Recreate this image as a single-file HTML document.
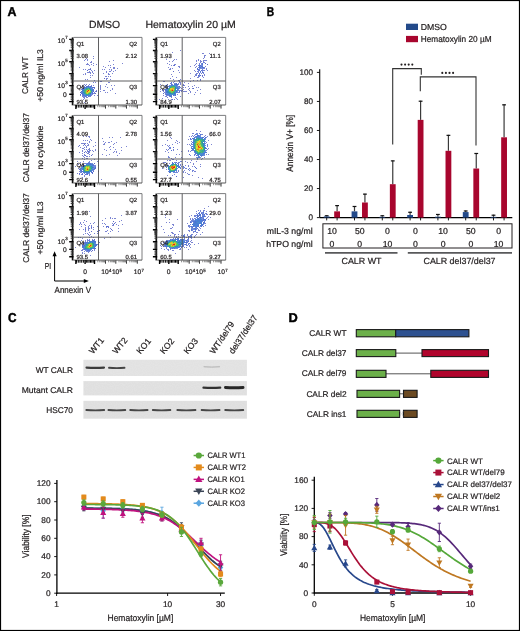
<!DOCTYPE html><html><head><meta charset="utf-8"><style>html,body{margin:0;padding:0;background:#fff;}svg{display:block;will-change:transform;}text{font-family:"Liberation Sans",sans-serif;text-rendering:geometricPrecision;stroke:#231f20;stroke-width:0.22px;}</style></head><body><svg width="520" height="631" viewBox="0 0 520 631"><rect x="0.50" y="0.50" width="519.00" height="630.00" fill="none" stroke="#000" stroke-width="1.2" />
<text x="0" y="0" font-size="12.8" font-weight="bold" fill="#000" style="stroke:#000;stroke-width:0.45px" transform="translate(7.6,16.2) scale(0.97,1)">A</text>
<text x="0" y="0" font-size="12.8" font-weight="bold" fill="#000" style="stroke:#000;stroke-width:0.45px" transform="translate(266.8,16.2) scale(0.8,1)">B</text>
<text x="0" y="0" font-size="12.8" font-weight="bold" fill="#000" style="stroke:#000;stroke-width:0.45px" transform="translate(7.9,322.3) scale(0.92,1)">C</text>
<text x="0" y="0" font-size="12.8" font-weight="bold" fill="#000" style="stroke:#000;stroke-width:0.45px" transform="translate(288.6,322.3) scale(1.0,1)">D</text>
<text x="104.50" y="28.30" font-size="10.4" text-anchor="middle" fill="#231f20" >DMSO</text>
<text x="190.60" y="28.30" font-size="10.4" text-anchor="middle" fill="#231f20" textLength="90.4" lengthAdjust="spacingAndGlyphs">Hematoxylin 20 µM</text>
<defs><radialGradient id="blob"><stop offset="0" stop-color="#e4261f"/><stop offset="0.18" stop-color="#f08a22"/><stop offset="0.32" stop-color="#e8d62a"/><stop offset="0.5" stop-color="#6cbf45"/><stop offset="0.66" stop-color="#22b0c8"/><stop offset="0.82" stop-color="#3454d0" stop-opacity="0.85"/><stop offset="1" stop-color="#4060d8" stop-opacity="0"/></radialGradient><radialGradient id="blob2"><stop offset="0" stop-color="#e8a020"/><stop offset="0.2" stop-color="#e6d830"/><stop offset="0.42" stop-color="#7cc848"/><stop offset="0.62" stop-color="#2cb4c0"/><stop offset="0.82" stop-color="#3454d0" stop-opacity="0.8"/><stop offset="1" stop-color="#4060d8" stop-opacity="0"/></radialGradient></defs>
<path d="M73.50,37.40 H142.00 V105.00" fill="none" stroke="#6d6e71" stroke-width="0.9"/>
<path d="M93.0,56.0h1v1h-1zM86.0,58.0h1v1h-1zM93.0,58.0h1v1h-1zM85.0,59.0h1v1h-1zM87.0,59.0h1v1h-1zM84.0,60.0h1v1h-1zM87.0,60.0h1v1h-1zM113.0,60.0h1v1h-1zM91.0,61.0h1v1h-1zM109.0,61.0h1v1h-1zM90.0,62.0h1v1h-1zM91.0,62.0h1v1h-1zM87.0,63.0h1v1h-1zM93.0,63.0h1v1h-1zM122.0,63.0h1v1h-1zM86.0,64.0h1v1h-1zM87.0,64.0h1v1h-1zM88.0,64.0h1v1h-1zM91.0,64.0h1v1h-1zM96.0,64.0h1v1h-1zM113.0,64.0h1v1h-1zM89.0,65.0h1v1h-1zM93.0,65.0h1v1h-1zM108.0,65.0h1v1h-1zM110.0,65.0h1v1h-1zM103.0,66.0h1v1h-1zM79.0,67.0h1v1h-1zM105.0,67.0h1v1h-1zM110.0,67.0h1v1h-1zM113.0,67.0h1v1h-1zM114.0,67.0h1v1h-1zM90.0,68.0h1v1h-1zM113.0,68.0h1v1h-1zM114.0,68.0h1v1h-1zM117.0,68.0h1v1h-1zM83.0,69.0h1v1h-1zM85.0,69.0h1v1h-1zM88.0,69.0h1v1h-1zM89.0,69.0h1v1h-1zM102.0,69.0h1v1h-1zM104.0,69.0h1v1h-1zM109.0,69.0h1v1h-1zM111.0,69.0h1v1h-1zM91.0,70.0h1v1h-1zM94.0,70.0h1v1h-1zM111.0,70.0h1v1h-1zM115.0,70.0h1v1h-1zM89.0,71.0h1v1h-1zM92.0,71.0h1v1h-1zM106.0,71.0h1v1h-1zM109.0,71.0h1v1h-1zM110.0,71.0h1v1h-1zM113.0,71.0h1v1h-1zM87.0,72.0h1v1h-1zM88.0,72.0h1v1h-1zM89.0,72.0h1v1h-1zM90.0,72.0h1v1h-1zM92.0,72.0h1v1h-1zM106.0,72.0h1v1h-1zM85.0,73.0h1v1h-1zM90.0,73.0h1v1h-1zM93.0,73.0h1v1h-1zM103.0,73.0h1v1h-1zM108.0,73.0h1v1h-1zM112.0,73.0h1v1h-1zM83.0,74.0h1v1h-1zM85.0,74.0h1v1h-1zM108.0,74.0h1v1h-1zM109.0,74.0h1v1h-1zM90.0,75.0h1v1h-1zM92.0,75.0h1v1h-1zM105.0,76.0h1v1h-1zM106.0,76.0h1v1h-1zM108.0,76.0h1v1h-1zM110.0,76.0h1v1h-1zM90.0,77.0h1v1h-1zM106.0,78.0h1v1h-1zM107.0,78.0h1v1h-1zM85.0,79.0h1v1h-1zM87.0,79.0h1v1h-1zM106.0,79.0h1v1h-1zM110.0,79.0h1v1h-1zM94.0,80.0h1v1h-1zM100.0,81.0h1v1h-1zM101.0,81.0h1v1h-1zM93.0,82.0h1v1h-1zM95.0,82.0h1v1h-1zM108.0,82.0h1v1h-1zM109.0,82.0h1v1h-1zM84.0,84.0h1v1h-1zM86.0,84.0h1v1h-1zM89.0,84.0h1v1h-1zM106.0,84.0h1v1h-1zM82.0,85.0h1v1h-1zM91.0,85.0h1v1h-1zM93.0,85.0h1v1h-1zM100.0,85.0h1v1h-1zM111.0,85.0h1v1h-1zM114.0,85.0h1v1h-1zM82.0,86.0h1v1h-1zM98.0,86.0h1v1h-1zM100.0,86.0h1v1h-1zM105.0,86.0h1v1h-1zM100.0,87.0h1v1h-1zM107.0,87.0h1v1h-1zM94.0,88.0h1v1h-1zM98.0,88.0h1v1h-1zM100.0,88.0h1v1h-1zM112.0,88.0h1v1h-1zM100.0,89.0h1v1h-1zM112.0,89.0h1v1h-1zM96.0,90.0h1v1h-1zM103.0,90.0h1v1h-1zM104.0,90.0h1v1h-1zM110.0,90.0h1v1h-1zM95.0,91.0h1v1h-1zM100.0,91.0h1v1h-1zM94.0,92.0h1v1h-1zM105.0,92.0h1v1h-1zM107.0,92.0h1v1h-1zM94.0,93.0h1v1h-1zM115.0,93.0h1v1h-1zM80.0,95.0h1v1h-1zM94.0,95.0h1v1h-1zM97.0,95.0h1v1h-1zM82.0,96.0h1v1h-1zM83.0,97.0h1v1h-1zM86.0,97.0h1v1h-1zM87.0,97.0h1v1h-1zM84.0,98.0h1v1h-1zM83.0,99.0h1v1h-1zM84.0,102.0h1v1h-1z" fill="#4854c0" opacity="0.72"/>
<path d="M90.0,69.0h1v1h-1zM94.0,87.0h1v1h-1z" fill="#3c54c0" opacity="0.88"/>
<path d="M87.0,70.0h1v1h-1zM85.0,85.0h1v1h-1zM93.0,87.0h1v1h-1zM93.0,91.0h1v1h-1z" fill="#3c54cc" opacity="0.88"/>
<path d="M104.0,78.0h1v1h-1zM96.0,91.0h1v1h-1zM80.0,92.0h1v1h-1zM95.0,93.0h1v1h-1zM80.0,94.0h1v1h-1z" fill="#4854c0" opacity="0.88"/>
<path d="M88.0,85.0h1v1h-1zM81.0,89.0h1v1h-1zM93.0,93.0h1v1h-1zM92.0,94.0h1v1h-1zM82.0,95.0h1v1h-1zM90.0,96.0h1v1h-1zM84.0,97.0h1v1h-1z" fill="#3c54cc" opacity="0.72"/>
<path d="M84.0,86.0h1v1h-1zM91.0,95.0h1v1h-1z" fill="#3c54c0" opacity="0.72"/>
<path d="M86.0,86.0h1v1h-1zM87.0,86.0h1v1h-1zM90.0,86.0h1v1h-1zM91.0,86.0h1v1h-1zM84.0,87.0h1v1h-1zM92.0,87.0h1v1h-1zM82.0,88.0h1v1h-1zM83.0,88.0h1v1h-1zM82.0,89.0h1v1h-1zM93.0,89.0h1v1h-1zM93.0,90.0h1v1h-1zM81.0,91.0h1v1h-1zM92.0,92.0h1v1h-1zM81.0,93.0h1v1h-1zM82.0,93.0h1v1h-1zM92.0,93.0h1v1h-1zM82.0,94.0h1v1h-1zM83.0,95.0h1v1h-1zM90.0,95.0h1v1h-1zM85.0,96.0h1v1h-1zM88.0,96.0h1v1h-1z" fill="#3c60cc" opacity="0.88"/>
<path d="M88.0,86.0h1v1h-1z" fill="#3060cc" opacity="0.88"/>
<path d="M89.0,86.0h1v1h-1zM91.0,87.0h1v1h-1zM92.0,88.0h1v1h-1zM92.0,91.0h1v1h-1zM81.0,92.0h1v1h-1zM91.0,93.0h1v1h-1zM91.0,94.0h1v1h-1zM83.0,96.0h1v1h-1zM84.0,96.0h1v1h-1zM86.0,96.0h1v1h-1zM89.0,96.0h1v1h-1z" fill="#3c60cc" opacity="0.72"/>
<path d="M85.0,87.0h1v1h-1zM86.0,87.0h1v1h-1zM90.0,87.0h1v1h-1zM92.0,89.0h1v1h-1zM82.0,90.0h1v1h-1zM92.0,90.0h1v1h-1zM82.0,91.0h1v1h-1zM82.0,92.0h1v1h-1zM83.0,94.0h1v1h-1zM90.0,94.0h1v1h-1zM84.0,95.0h1v1h-1zM86.0,95.0h1v1h-1z" fill="#306ccc" opacity="0.88"/>
<path d="M87.0,87.0h1v1h-1zM91.0,88.0h1v1h-1zM84.0,94.0h1v1h-1zM85.0,95.0h1v1h-1zM88.0,95.0h1v1h-1z" fill="#3078d8" opacity="0.88"/>
<path d="M88.0,87.0h1v1h-1zM85.0,88.0h1v1h-1zM91.0,89.0h1v1h-1zM83.0,91.0h1v1h-1zM85.0,94.0h1v1h-1zM89.0,94.0h1v1h-1z" fill="#3084c0" opacity="0.88"/>
<path d="M89.0,87.0h1v1h-1zM84.0,88.0h1v1h-1zM83.0,93.0h1v1h-1zM87.0,95.0h1v1h-1zM89.0,95.0h1v1h-1z" fill="#306cd8" opacity="0.88"/>
<path d="M86.0,88.0h1v1h-1zM90.0,89.0h1v1h-1z" fill="#3090a8" opacity="1.0"/>
<path d="M87.0,88.0h1v1h-1zM86.0,89.0h1v1h-1zM84.0,90.0h1v1h-1zM84.0,91.0h1v1h-1z" fill="#3ca890" opacity="1.0"/>
<path d="M88.0,88.0h1v1h-1zM85.0,93.0h1v1h-1z" fill="#3cb484" opacity="1.0"/>
<path d="M89.0,88.0h1v1h-1zM84.0,92.0h1v1h-1z" fill="#309c9c" opacity="1.0"/>
<path d="M90.0,88.0h1v1h-1zM83.0,89.0h1v1h-1zM84.0,89.0h1v1h-1zM91.0,92.0h1v1h-1z" fill="#3078cc" opacity="0.88"/>
<path d="M85.0,89.0h1v1h-1zM87.0,89.0h1v1h-1zM85.0,92.0h1v1h-1zM90.0,92.0h1v1h-1z" fill="#48c06c" opacity="1.0"/>
<path d="M88.0,89.0h1v1h-1z" fill="#84cc48" opacity="1.0"/>
<path d="M89.0,89.0h1v1h-1zM85.0,91.0h1v1h-1z" fill="#60c060" opacity="1.0"/>
<path d="M83.0,90.0h1v1h-1z" fill="#3084c0" opacity="1.0"/>
<path d="M85.0,90.0h1v1h-1zM89.0,93.0h1v1h-1zM87.0,94.0h1v1h-1z" fill="#3cb478" opacity="1.0"/>
<path d="M86.0,90.0h1v1h-1zM86.0,93.0h1v1h-1z" fill="#90cc3c" opacity="1.0"/>
<path d="M87.0,90.0h1v1h-1zM86.0,92.0h1v1h-1z" fill="#f0a824" opacity="1.0"/>
<path d="M88.0,90.0h1v1h-1z" fill="#e43018" opacity="1.0"/>
<path d="M89.0,90.0h1v1h-1zM89.0,91.0h1v1h-1z" fill="#f0d824" opacity="1.0"/>
<path d="M90.0,90.0h1v1h-1z" fill="#48c078" opacity="1.0"/>
<path d="M91.0,90.0h1v1h-1zM83.0,92.0h1v1h-1z" fill="#3090b4" opacity="1.0"/>
<path d="M86.0,91.0h1v1h-1z" fill="#9ccc3c" opacity="1.0"/>
<path d="M87.0,91.0h1v1h-1z" fill="#e43c18" opacity="1.0"/>
<path d="M88.0,91.0h1v1h-1z" fill="#e4d830" opacity="1.0"/>
<path d="M90.0,91.0h1v1h-1z" fill="#90cc48" opacity="1.0"/>
<path d="M91.0,91.0h1v1h-1zM84.0,93.0h1v1h-1zM86.0,94.0h1v1h-1z" fill="#309ca8" opacity="1.0"/>
<path d="M87.0,92.0h1v1h-1zM88.0,92.0h1v1h-1zM87.0,93.0h1v1h-1z" fill="#ccd830" opacity="1.0"/>
<path d="M89.0,92.0h1v1h-1z" fill="#78cc54" opacity="1.0"/>
<path d="M88.0,93.0h1v1h-1z" fill="#54c06c" opacity="1.0"/>
<path d="M90.0,93.0h1v1h-1z" fill="#3084b4" opacity="1.0"/>
<path d="M88.0,94.0h1v1h-1z" fill="#3c9c9c" opacity="1.0"/>
<line x1="98.50" y1="37.40" x2="98.50" y2="105.00" stroke="#4d4d4f" stroke-width="0.9" />
<line x1="73.50" y1="81.00" x2="142.00" y2="81.00" stroke="#4d4d4f" stroke-width="0.9" />
<path d="M72.60,37.40V105.30" stroke="#111" stroke-width="1.7"/>
<path d="M69.2,85.6h4.3M69.2,73.6h4.3M69.2,61.7h4.3M69.2,50.5h4.3M69.2,39.4h4.3M69.2,94.3h4.3M69.2,101.6h4.3" stroke="#000" stroke-width="1.4"/>
<path d="M70.7,82.0h2.8M70.7,79.9h2.8M70.7,78.4h2.8M70.7,77.2h2.8M70.7,76.3h2.8M70.7,75.5h2.8M70.7,74.8h2.8M70.7,74.1h2.8M70.7,70.0h2.8M70.7,67.9h2.8M70.7,66.4h2.8M70.7,65.3h2.8M70.7,64.3h2.8M70.7,63.5h2.8M70.7,62.9h2.8M70.7,62.2h2.8M70.7,58.3h2.8M70.7,56.4h2.8M70.7,55.0h2.8M70.7,53.9h2.8M70.7,53.0h2.8M70.7,52.2h2.8M70.7,51.6h2.8M70.7,51.0h2.8M70.7,47.2h2.8M70.7,45.2h2.8M70.7,43.8h2.8M70.7,42.7h2.8M70.7,41.9h2.8M70.7,41.1h2.8M70.7,40.5h2.8M70.7,39.9h2.8M70.7,93.1h2.8M70.7,91.8h2.8M70.7,90.6h2.8M70.7,89.3h2.8M70.7,88.1h2.8M70.7,86.8h2.8M70.7,96.1h2.8M70.7,97.9h2.8M70.7,99.7h2.8" stroke="#333" stroke-width="1.0"/>
<text x="64.90" y="42.80" font-size="6.7" text-anchor="end" fill="#231f20">10</text>
<text x="65.20" y="38.70" font-size="4.4" fill="#231f20">7</text>
<text x="64.90" y="66.10" font-size="6.7" text-anchor="end" fill="#231f20">10</text>
<text x="65.20" y="62.00" font-size="4.4" fill="#231f20">5</text>
<text x="64.90" y="88.00" font-size="6.7" text-anchor="end" fill="#231f20">10</text>
<text x="65.20" y="83.90" font-size="4.4" fill="#231f20">3</text>
<text x="66.70" y="96.90" font-size="6.7" text-anchor="end" fill="#231f20" >0</text>
<line x1="73.50" y1="105.00" x2="142.00" y2="105.00" stroke="#444" stroke-width="0.9" />
<path d="M94.5,105.0v4M85.1,105.0v4M75.9,105.0v4" stroke="#000" stroke-width="1.4"/>
<path d="M86.4,105.0v2.6M87.8,105.0v2.6M89.1,105.0v2.6M90.5,105.0v2.6M91.8,105.0v2.6M93.2,105.0v2.6M83.4,105.0v2.6M81.7,105.0v2.6M80.0,105.0v2.6M78.3,105.0v2.6M76.6,105.0v2.6" stroke="#000" stroke-width="1.0"/>
<path d="M105.5,105.0v3.6M115.8,105.0v3.6M126.5,105.0v3.6M137.3,105.0v3.6" stroke="#333" stroke-width="1.0"/>
<path d="M97.8,105.0v2.2M99.7,105.0v2.2M101.1,105.0v2.2M102.2,105.0v2.2M103.1,105.0v2.2M103.8,105.0v2.2M104.4,105.0v2.2M105.0,105.0v2.2M108.6,105.0v2.2M110.4,105.0v2.2M111.7,105.0v2.2M112.7,105.0v2.2M113.5,105.0v2.2M114.2,105.0v2.2M114.8,105.0v2.2M115.3,105.0v2.2M119.0,105.0v2.2M120.9,105.0v2.2M122.2,105.0v2.2M123.3,105.0v2.2M124.1,105.0v2.2M124.8,105.0v2.2M125.5,105.0v2.2M126.0,105.0v2.2M129.8,105.0v2.2M131.7,105.0v2.2M133.0,105.0v2.2M134.0,105.0v2.2M134.9,105.0v2.2M135.6,105.0v2.2M136.3,105.0v2.2M136.8,105.0v2.2" stroke="#777" stroke-width="0.8"/>
<text x="76.50" y="46.00" font-size="5.9" text-anchor="start" fill="#231f20" >Q1</text>
<text x="137.00" y="46.00" font-size="5.9" text-anchor="end" fill="#231f20" >Q2</text>
<text x="76.50" y="58.40" font-size="5.9" text-anchor="start" fill="#231f20" >3.08</text>
<text x="137.00" y="58.40" font-size="5.9" text-anchor="end" fill="#231f20" >2.12</text>
<text x="76.50" y="88.80" font-size="5.9" text-anchor="start" fill="#231f20" >Q4</text>
<text x="137.00" y="88.80" font-size="5.9" text-anchor="end" fill="#231f20" >Q3</text>
<text x="76.50" y="104.20" font-size="5.9" text-anchor="start" fill="#231f20" >93.5</text>
<text x="137.00" y="104.20" font-size="5.9" text-anchor="end" fill="#231f20" >1.30</text>
<path d="M157.20,37.40 H225.70 V105.00" fill="none" stroke="#6d6e71" stroke-width="0.9"/>
<path d="M180.0,50.0h1v1h-1zM172.0,52.0h1v1h-1zM202.0,53.0h1v1h-1zM203.0,53.0h1v1h-1zM209.0,53.0h1v1h-1zM204.0,55.0h1v1h-1zM205.0,55.0h1v1h-1zM204.0,56.0h1v1h-1zM169.0,57.0h1v1h-1zM204.0,57.0h1v1h-1zM210.0,57.0h1v1h-1zM203.0,58.0h1v1h-1zM166.0,59.0h1v1h-1zM174.0,59.0h1v1h-1zM176.0,59.0h1v1h-1zM198.0,59.0h1v1h-1zM173.0,60.0h1v1h-1zM196.0,60.0h1v1h-1zM198.0,60.0h1v1h-1zM200.0,60.0h1v1h-1zM203.0,60.0h1v1h-1zM204.0,60.0h1v1h-1zM205.0,60.0h1v1h-1zM206.0,60.0h1v1h-1zM169.0,61.0h1v1h-1zM172.0,61.0h1v1h-1zM196.0,61.0h1v1h-1zM200.0,61.0h1v1h-1zM201.0,61.0h1v1h-1zM200.0,62.0h1v1h-1zM204.0,62.0h1v1h-1zM167.0,63.0h1v1h-1zM196.0,63.0h1v1h-1zM199.0,63.0h1v1h-1zM169.0,64.0h1v1h-1zM174.0,64.0h1v1h-1zM175.0,64.0h1v1h-1zM195.0,64.0h1v1h-1zM171.0,65.0h1v1h-1zM173.0,65.0h1v1h-1zM194.0,65.0h1v1h-1zM178.0,66.0h1v1h-1zM179.0,66.0h1v1h-1zM190.0,66.0h1v1h-1zM196.0,66.0h1v1h-1zM205.0,66.0h1v1h-1zM168.0,67.0h1v1h-1zM179.0,67.0h1v1h-1zM195.0,67.0h1v1h-1zM170.0,68.0h1v1h-1zM172.0,68.0h1v1h-1zM204.0,68.0h1v1h-1zM206.0,68.0h1v1h-1zM169.0,69.0h1v1h-1zM170.0,69.0h1v1h-1zM206.0,69.0h1v1h-1zM178.0,70.0h1v1h-1zM194.0,70.0h1v1h-1zM204.0,70.0h1v1h-1zM207.0,70.0h1v1h-1zM195.0,71.0h1v1h-1zM197.0,71.0h1v1h-1zM179.0,72.0h1v1h-1zM198.0,72.0h1v1h-1zM190.0,73.0h1v1h-1zM197.0,73.0h1v1h-1zM201.0,73.0h1v1h-1zM171.0,74.0h1v1h-1zM195.0,74.0h1v1h-1zM204.0,74.0h1v1h-1zM195.0,75.0h1v1h-1zM204.0,75.0h1v1h-1zM172.0,76.0h1v1h-1zM194.0,76.0h1v1h-1zM202.0,76.0h1v1h-1zM176.0,77.0h1v1h-1zM197.0,77.0h1v1h-1zM198.0,77.0h1v1h-1zM203.0,77.0h1v1h-1zM170.0,78.0h1v1h-1zM190.0,78.0h1v1h-1zM173.0,79.0h1v1h-1zM180.0,79.0h1v1h-1zM178.0,80.0h1v1h-1zM179.0,80.0h1v1h-1zM193.0,80.0h1v1h-1zM197.0,80.0h1v1h-1zM200.0,80.0h1v1h-1zM163.0,81.0h1v1h-1zM164.0,81.0h1v1h-1zM174.0,81.0h1v1h-1zM179.0,81.0h1v1h-1zM190.0,81.0h1v1h-1zM173.0,82.0h1v1h-1zM180.0,82.0h1v1h-1zM184.0,82.0h1v1h-1zM178.0,83.0h1v1h-1zM180.0,83.0h1v1h-1zM188.0,83.0h1v1h-1zM160.0,84.0h1v1h-1zM180.0,84.0h1v1h-1zM183.0,84.0h1v1h-1zM184.0,85.0h1v1h-1zM194.0,85.0h1v1h-1zM188.0,86.0h1v1h-1zM192.0,86.0h1v1h-1zM183.0,87.0h1v1h-1zM185.0,87.0h1v1h-1zM196.0,87.0h1v1h-1zM198.0,87.0h1v1h-1zM181.0,88.0h1v1h-1zM192.0,88.0h1v1h-1zM160.0,89.0h1v1h-1zM162.0,89.0h1v1h-1zM183.0,89.0h1v1h-1zM188.0,89.0h1v1h-1zM200.0,89.0h1v1h-1zM163.0,90.0h1v1h-1zM181.0,90.0h1v1h-1zM182.0,90.0h1v1h-1zM189.0,90.0h1v1h-1zM197.0,90.0h1v1h-1zM160.0,91.0h1v1h-1zM163.0,91.0h1v1h-1zM181.0,91.0h1v1h-1zM183.0,91.0h1v1h-1zM184.0,91.0h1v1h-1zM185.0,91.0h1v1h-1zM186.0,91.0h1v1h-1zM190.0,91.0h1v1h-1zM164.0,92.0h1v1h-1zM190.0,92.0h1v1h-1zM195.0,92.0h1v1h-1zM188.0,93.0h1v1h-1zM200.0,93.0h1v1h-1zM177.0,94.0h1v1h-1zM194.0,94.0h1v1h-1zM163.0,95.0h1v1h-1zM165.0,96.0h1v1h-1zM166.0,96.0h1v1h-1zM180.0,96.0h1v1h-1zM167.0,97.0h1v1h-1zM175.0,97.0h1v1h-1zM162.0,98.0h1v1h-1zM176.0,98.0h1v1h-1zM159.0,99.0h1v1h-1zM168.0,99.0h1v1h-1zM171.0,99.0h1v1h-1zM174.0,99.0h1v1h-1zM177.0,99.0h1v1h-1zM165.0,100.0h1v1h-1z" fill="#4854c0" opacity="0.72"/>
<path d="M203.0,61.0h1v1h-1zM199.0,64.0h1v1h-1zM198.0,65.0h1v1h-1zM203.0,68.0h1v1h-1zM199.0,69.0h1v1h-1zM202.0,69.0h1v1h-1zM198.0,70.0h1v1h-1zM202.0,70.0h1v1h-1zM198.0,71.0h1v1h-1zM202.0,71.0h1v1h-1zM196.0,74.0h1v1h-1zM199.0,75.0h1v1h-1zM198.0,76.0h1v1h-1zM199.0,76.0h1v1h-1zM165.0,85.0h1v1h-1zM180.0,90.0h1v1h-1zM178.0,92.0h1v1h-1zM179.0,92.0h1v1h-1zM165.0,93.0h1v1h-1zM165.0,94.0h1v1h-1zM167.0,95.0h1v1h-1z" fill="#3c54cc" opacity="0.72"/>
<path d="M203.0,62.0h1v1h-1zM204.0,67.0h1v1h-1zM203.0,70.0h1v1h-1zM203.0,72.0h1v1h-1zM196.0,73.0h1v1h-1zM203.0,73.0h1v1h-1zM199.0,74.0h1v1h-1zM196.0,75.0h1v1h-1zM179.0,82.0h1v1h-1zM170.0,83.0h1v1h-1zM166.0,87.0h1v1h-1zM180.0,87.0h1v1h-1zM162.0,90.0h1v1h-1zM171.0,97.0h1v1h-1z" fill="#3c54c0" opacity="0.72"/>
<path d="M201.0,63.0h1v1h-1zM201.0,64.0h1v1h-1zM201.0,65.0h1v1h-1zM202.0,65.0h1v1h-1zM200.0,66.0h1v1h-1zM198.0,67.0h1v1h-1zM201.0,67.0h1v1h-1zM199.0,68.0h1v1h-1zM200.0,68.0h1v1h-1zM201.0,68.0h1v1h-1zM202.0,68.0h1v1h-1zM200.0,72.0h1v1h-1zM171.0,83.0h1v1h-1zM174.0,83.0h1v1h-1zM175.0,83.0h1v1h-1zM172.0,84.0h1v1h-1zM178.0,84.0h1v1h-1zM169.0,85.0h1v1h-1zM170.0,85.0h1v1h-1zM177.0,85.0h1v1h-1zM167.0,86.0h1v1h-1zM177.0,86.0h1v1h-1zM178.0,86.0h1v1h-1zM167.0,87.0h1v1h-1zM178.0,87.0h1v1h-1zM179.0,87.0h1v1h-1zM166.0,88.0h1v1h-1zM179.0,88.0h1v1h-1zM164.0,89.0h1v1h-1zM178.0,89.0h1v1h-1zM178.0,90.0h1v1h-1zM179.0,90.0h1v1h-1zM165.0,91.0h1v1h-1zM177.0,91.0h1v1h-1zM165.0,92.0h1v1h-1zM177.0,92.0h1v1h-1zM166.0,93.0h1v1h-1zM166.0,95.0h1v1h-1zM168.0,95.0h1v1h-1zM174.0,95.0h1v1h-1zM169.0,96.0h1v1h-1z" fill="#3c60cc" opacity="0.72"/>
<path d="M202.0,63.0h1v1h-1zM202.0,64.0h1v1h-1zM199.0,65.0h1v1h-1zM200.0,65.0h1v1h-1zM201.0,66.0h1v1h-1zM202.0,66.0h1v1h-1zM199.0,67.0h1v1h-1zM200.0,67.0h1v1h-1zM202.0,67.0h1v1h-1zM203.0,67.0h1v1h-1zM197.0,69.0h1v1h-1zM198.0,69.0h1v1h-1zM199.0,70.0h1v1h-1zM200.0,71.0h1v1h-1zM171.0,82.0h1v1h-1zM176.0,83.0h1v1h-1zM171.0,84.0h1v1h-1zM174.0,84.0h1v1h-1zM177.0,84.0h1v1h-1zM166.0,85.0h1v1h-1zM165.0,86.0h1v1h-1zM168.0,86.0h1v1h-1zM165.0,89.0h1v1h-1zM165.0,90.0h1v1h-1zM176.0,92.0h1v1h-1zM166.0,94.0h1v1h-1zM167.0,94.0h1v1h-1zM169.0,95.0h1v1h-1zM173.0,95.0h1v1h-1zM175.0,95.0h1v1h-1zM170.0,96.0h1v1h-1zM171.0,96.0h1v1h-1z" fill="#3c60cc" opacity="0.88"/>
<path d="M205.0,63.0h1v1h-1zM207.0,64.0h1v1h-1zM173.0,71.0h1v1h-1zM202.0,75.0h1v1h-1zM167.0,84.0h1v1h-1zM189.0,88.0h1v1h-1zM172.0,99.0h1v1h-1z" fill="#4854c0" opacity="0.88"/>
<path d="M174.0,65.0h1v1h-1zM197.0,68.0h1v1h-1zM201.0,70.0h1v1h-1zM202.0,72.0h1v1h-1zM199.0,73.0h1v1h-1zM198.0,75.0h1v1h-1zM200.0,75.0h1v1h-1zM179.0,86.0h1v1h-1zM179.0,91.0h1v1h-1z" fill="#3c54cc" opacity="0.88"/>
<path d="M199.0,66.0h1v1h-1zM176.0,84.0h1v1h-1zM166.0,91.0h1v1h-1zM166.0,92.0h1v1h-1z" fill="#3060cc" opacity="0.88"/>
<path d="M200.0,79.0h1v1h-1zM183.0,85.0h1v1h-1zM193.0,88.0h1v1h-1zM163.0,93.0h1v1h-1z" fill="#3c54c0" opacity="0.88"/>
<path d="M175.0,84.0h1v1h-1zM176.0,85.0h1v1h-1zM177.0,87.0h1v1h-1zM167.0,88.0h1v1h-1zM178.0,88.0h1v1h-1zM166.0,89.0h1v1h-1zM167.0,89.0h1v1h-1zM177.0,89.0h1v1h-1zM166.0,90.0h1v1h-1zM176.0,91.0h1v1h-1zM175.0,93.0h1v1h-1zM168.0,94.0h1v1h-1zM169.0,94.0h1v1h-1zM174.0,94.0h1v1h-1zM175.0,94.0h1v1h-1zM170.0,95.0h1v1h-1zM171.0,95.0h1v1h-1z" fill="#306ccc" opacity="0.88"/>
<path d="M171.0,85.0h1v1h-1zM172.0,85.0h1v1h-1z" fill="#306cd8" opacity="0.88"/>
<path d="M173.0,85.0h1v1h-1zM168.0,88.0h1v1h-1zM176.0,88.0h1v1h-1zM167.0,90.0h1v1h-1zM176.0,90.0h1v1h-1zM175.0,91.0h1v1h-1zM168.0,93.0h1v1h-1zM172.0,94.0h1v1h-1zM173.0,94.0h1v1h-1z" fill="#3078cc" opacity="0.88"/>
<path d="M174.0,85.0h1v1h-1zM170.0,86.0h1v1h-1zM175.0,86.0h1v1h-1zM176.0,87.0h1v1h-1zM171.0,94.0h1v1h-1z" fill="#3084c0" opacity="0.88"/>
<path d="M175.0,85.0h1v1h-1zM169.0,86.0h1v1h-1zM176.0,86.0h1v1h-1zM169.0,87.0h1v1h-1zM177.0,88.0h1v1h-1zM177.0,90.0h1v1h-1zM175.0,92.0h1v1h-1zM167.0,93.0h1v1h-1zM170.0,94.0h1v1h-1z" fill="#3078d8" opacity="0.88"/>
<path d="M171.0,86.0h1v1h-1zM168.0,89.0h1v1h-1zM168.0,90.0h1v1h-1zM170.0,92.0h1v1h-1zM173.0,92.0h1v1h-1z" fill="#3ca890" opacity="1.0"/>
<path d="M172.0,86.0h1v1h-1zM174.0,91.0h1v1h-1z" fill="#3cb484" opacity="1.0"/>
<path d="M173.0,86.0h1v1h-1zM174.0,86.0h1v1h-1zM169.0,88.0h1v1h-1z" fill="#3cb478" opacity="1.0"/>
<path d="M170.0,87.0h1v1h-1z" fill="#309c9c" opacity="1.0"/>
<path d="M171.0,87.0h1v1h-1z" fill="#54c06c" opacity="1.0"/>
<path d="M172.0,87.0h1v1h-1zM174.0,88.0h1v1h-1zM172.0,92.0h1v1h-1z" fill="#6cc054" opacity="1.0"/>
<path d="M173.0,87.0h1v1h-1zM170.0,91.0h1v1h-1zM171.0,92.0h1v1h-1z" fill="#78c054" opacity="1.0"/>
<path d="M174.0,87.0h1v1h-1zM174.0,89.0h1v1h-1z" fill="#6cc060" opacity="1.0"/>
<path d="M175.0,87.0h1v1h-1zM175.0,88.0h1v1h-1zM168.0,92.0h1v1h-1zM169.0,92.0h1v1h-1z" fill="#3090a8" opacity="1.0"/>
<path d="M170.0,88.0h1v1h-1z" fill="#c0d830" opacity="1.0"/>
<path d="M171.0,88.0h1v1h-1z" fill="#d8d830" opacity="1.0"/>
<path d="M172.0,88.0h1v1h-1zM171.0,89.0h1v1h-1z" fill="#f0b424" opacity="1.0"/>
<path d="M173.0,88.0h1v1h-1zM173.0,90.0h1v1h-1z" fill="#f09c24" opacity="1.0"/>
<path d="M169.0,89.0h1v1h-1z" fill="#60c060" opacity="1.0"/>
<path d="M170.0,89.0h1v1h-1z" fill="#f0c024" opacity="1.0"/>
<path d="M172.0,89.0h1v1h-1z" fill="#f09024" opacity="1.0"/>
<path d="M173.0,89.0h1v1h-1z" fill="#e4d830" opacity="1.0"/>
<path d="M175.0,89.0h1v1h-1zM167.0,92.0h1v1h-1zM174.0,92.0h1v1h-1zM174.0,93.0h1v1h-1z" fill="#3084c0" opacity="1.0"/>
<path d="M169.0,90.0h1v1h-1z" fill="#90cc3c" opacity="1.0"/>
<path d="M170.0,90.0h1v1h-1z" fill="#9ccc3c" opacity="1.0"/>
<path d="M171.0,90.0h1v1h-1z" fill="#f08418" opacity="1.0"/>
<path d="M172.0,90.0h1v1h-1z" fill="#e42418" opacity="1.0"/>
<path d="M174.0,90.0h1v1h-1z" fill="#48c06c" opacity="1.0"/>
<path d="M175.0,90.0h1v1h-1zM171.0,93.0h1v1h-1zM172.0,93.0h1v1h-1zM173.0,93.0h1v1h-1z" fill="#309ca8" opacity="1.0"/>
<path d="M167.0,91.0h1v1h-1zM170.0,93.0h1v1h-1z" fill="#3084b4" opacity="1.0"/>
<path d="M168.0,91.0h1v1h-1zM169.0,93.0h1v1h-1z" fill="#3090b4" opacity="1.0"/>
<path d="M169.0,91.0h1v1h-1zM173.0,91.0h1v1h-1z" fill="#54c060" opacity="1.0"/>
<path d="M171.0,91.0h1v1h-1zM172.0,91.0h1v1h-1z" fill="#84cc48" opacity="1.0"/>
<line x1="182.20" y1="37.40" x2="182.20" y2="105.00" stroke="#4d4d4f" stroke-width="0.9" />
<line x1="157.20" y1="81.00" x2="225.70" y2="81.00" stroke="#4d4d4f" stroke-width="0.9" />
<path d="M156.30,37.40V105.30" stroke="#111" stroke-width="1.7"/>
<path d="M152.9,85.6h4.3M152.9,73.6h4.3M152.9,61.7h4.3M152.9,50.5h4.3M152.9,39.4h4.3M152.9,94.3h4.3M152.9,101.6h4.3" stroke="#000" stroke-width="1.4"/>
<path d="M154.4,82.0h2.8M154.4,79.9h2.8M154.4,78.4h2.8M154.4,77.2h2.8M154.4,76.3h2.8M154.4,75.5h2.8M154.4,74.8h2.8M154.4,74.1h2.8M154.4,70.0h2.8M154.4,67.9h2.8M154.4,66.4h2.8M154.4,65.3h2.8M154.4,64.3h2.8M154.4,63.5h2.8M154.4,62.9h2.8M154.4,62.2h2.8M154.4,58.3h2.8M154.4,56.4h2.8M154.4,55.0h2.8M154.4,53.9h2.8M154.4,53.0h2.8M154.4,52.2h2.8M154.4,51.6h2.8M154.4,51.0h2.8M154.4,47.2h2.8M154.4,45.2h2.8M154.4,43.8h2.8M154.4,42.7h2.8M154.4,41.9h2.8M154.4,41.1h2.8M154.4,40.5h2.8M154.4,39.9h2.8M154.4,93.1h2.8M154.4,91.8h2.8M154.4,90.6h2.8M154.4,89.3h2.8M154.4,88.1h2.8M154.4,86.8h2.8M154.4,96.1h2.8M154.4,97.9h2.8M154.4,99.7h2.8" stroke="#333" stroke-width="1.0"/>
<line x1="157.20" y1="105.00" x2="225.70" y2="105.00" stroke="#444" stroke-width="0.9" />
<path d="M178.2,105.0v4M168.8,105.0v4M159.6,105.0v4" stroke="#000" stroke-width="1.4"/>
<path d="M170.1,105.0v2.6M171.5,105.0v2.6M172.8,105.0v2.6M174.2,105.0v2.6M175.5,105.0v2.6M176.9,105.0v2.6M167.1,105.0v2.6M165.4,105.0v2.6M163.7,105.0v2.6M162.0,105.0v2.6M160.3,105.0v2.6" stroke="#000" stroke-width="1.0"/>
<path d="M189.2,105.0v3.6M199.5,105.0v3.6M210.2,105.0v3.6M221.0,105.0v3.6" stroke="#333" stroke-width="1.0"/>
<path d="M181.5,105.0v2.2M183.4,105.0v2.2M184.8,105.0v2.2M185.9,105.0v2.2M186.8,105.0v2.2M187.5,105.0v2.2M188.1,105.0v2.2M188.7,105.0v2.2M192.3,105.0v2.2M194.1,105.0v2.2M195.4,105.0v2.2M196.4,105.0v2.2M197.2,105.0v2.2M197.9,105.0v2.2M198.5,105.0v2.2M199.0,105.0v2.2M202.7,105.0v2.2M204.6,105.0v2.2M205.9,105.0v2.2M207.0,105.0v2.2M207.8,105.0v2.2M208.5,105.0v2.2M209.2,105.0v2.2M209.7,105.0v2.2M213.5,105.0v2.2M215.4,105.0v2.2M216.7,105.0v2.2M217.7,105.0v2.2M218.6,105.0v2.2M219.3,105.0v2.2M220.0,105.0v2.2M220.5,105.0v2.2" stroke="#777" stroke-width="0.8"/>
<text x="160.20" y="46.00" font-size="5.9" text-anchor="start" fill="#231f20" >Q1</text>
<text x="220.70" y="46.00" font-size="5.9" text-anchor="end" fill="#231f20" >Q2</text>
<text x="160.20" y="58.40" font-size="5.9" text-anchor="start" fill="#231f20" >1.93</text>
<text x="220.70" y="58.40" font-size="5.9" text-anchor="end" fill="#231f20" >11.1</text>
<text x="160.20" y="88.80" font-size="5.9" text-anchor="start" fill="#231f20" >Q4</text>
<text x="220.70" y="88.80" font-size="5.9" text-anchor="end" fill="#231f20" >Q3</text>
<text x="160.20" y="104.20" font-size="5.9" text-anchor="start" fill="#231f20" >84.9</text>
<text x="220.70" y="104.20" font-size="5.9" text-anchor="end" fill="#231f20" >2.07</text>
<path d="M73.50,115.40 H142.00 V183.00" fill="none" stroke="#6d6e71" stroke-width="0.9"/>
<path d="M83.0,136.0h1v1h-1zM86.0,136.0h1v1h-1zM88.0,136.0h1v1h-1zM89.0,136.0h1v1h-1zM89.0,137.0h1v1h-1zM109.0,137.0h1v1h-1zM112.0,137.0h1v1h-1zM120.0,137.0h1v1h-1zM102.0,138.0h1v1h-1zM90.0,139.0h1v1h-1zM83.0,140.0h1v1h-1zM85.0,140.0h1v1h-1zM87.0,140.0h1v1h-1zM91.0,140.0h1v1h-1zM89.0,141.0h1v1h-1zM103.0,141.0h1v1h-1zM111.0,141.0h1v1h-1zM89.0,142.0h1v1h-1zM95.0,142.0h1v1h-1zM105.0,142.0h1v1h-1zM108.0,142.0h1v1h-1zM109.0,142.0h1v1h-1zM116.0,142.0h1v1h-1zM81.0,143.0h1v1h-1zM82.0,143.0h1v1h-1zM83.0,143.0h1v1h-1zM84.0,143.0h1v1h-1zM85.0,143.0h1v1h-1zM87.0,143.0h1v1h-1zM104.0,143.0h1v1h-1zM114.0,143.0h1v1h-1zM88.0,144.0h1v1h-1zM103.0,144.0h1v1h-1zM104.0,144.0h1v1h-1zM113.0,144.0h1v1h-1zM83.0,145.0h1v1h-1zM85.0,145.0h1v1h-1zM87.0,145.0h1v1h-1zM88.0,145.0h1v1h-1zM95.0,145.0h1v1h-1zM78.0,146.0h1v1h-1zM86.0,146.0h1v1h-1zM93.0,146.0h1v1h-1zM110.0,146.0h1v1h-1zM126.0,146.0h1v1h-1zM80.0,147.0h1v1h-1zM84.0,147.0h1v1h-1zM86.0,147.0h1v1h-1zM109.0,147.0h1v1h-1zM113.0,147.0h1v1h-1zM121.0,147.0h1v1h-1zM82.0,148.0h1v1h-1zM83.0,148.0h1v1h-1zM89.0,148.0h1v1h-1zM84.0,149.0h1v1h-1zM86.0,149.0h1v1h-1zM88.0,149.0h1v1h-1zM89.0,149.0h1v1h-1zM95.0,149.0h1v1h-1zM104.0,149.0h1v1h-1zM110.0,149.0h1v1h-1zM115.0,149.0h1v1h-1zM82.0,150.0h1v1h-1zM87.0,150.0h1v1h-1zM90.0,150.0h1v1h-1zM92.0,150.0h1v1h-1zM95.0,150.0h1v1h-1zM106.0,150.0h1v1h-1zM121.0,150.0h1v1h-1zM82.0,151.0h1v1h-1zM85.0,151.0h1v1h-1zM87.0,151.0h1v1h-1zM89.0,151.0h1v1h-1zM93.0,151.0h1v1h-1zM98.0,151.0h1v1h-1zM114.0,151.0h1v1h-1zM116.0,151.0h1v1h-1zM79.0,152.0h1v1h-1zM86.0,152.0h1v1h-1zM89.0,152.0h1v1h-1zM113.0,152.0h1v1h-1zM116.0,152.0h1v1h-1zM82.0,153.0h1v1h-1zM87.0,153.0h1v1h-1zM88.0,153.0h1v1h-1zM98.0,153.0h1v1h-1zM119.0,153.0h1v1h-1zM84.0,154.0h1v1h-1zM89.0,154.0h1v1h-1zM92.0,154.0h1v1h-1zM102.0,154.0h1v1h-1zM109.0,154.0h1v1h-1zM82.0,155.0h1v1h-1zM84.0,155.0h1v1h-1zM106.0,155.0h1v1h-1zM117.0,155.0h1v1h-1zM83.0,156.0h1v1h-1zM86.0,156.0h1v1h-1zM87.0,156.0h1v1h-1zM89.0,156.0h1v1h-1zM84.0,157.0h1v1h-1zM82.0,158.0h1v1h-1zM86.0,158.0h1v1h-1zM87.0,158.0h1v1h-1zM84.0,159.0h1v1h-1zM94.0,159.0h1v1h-1zM91.0,160.0h1v1h-1zM77.0,161.0h1v1h-1zM83.0,161.0h1v1h-1zM89.0,161.0h1v1h-1zM97.0,161.0h1v1h-1zM80.0,162.0h1v1h-1zM77.0,163.0h1v1h-1zM84.0,163.0h1v1h-1zM78.0,164.0h1v1h-1zM82.0,164.0h1v1h-1zM95.0,165.0h1v1h-1zM98.0,165.0h1v1h-1zM75.0,166.0h1v1h-1zM79.0,166.0h1v1h-1zM78.0,168.0h1v1h-1zM79.0,171.0h1v1h-1zM98.0,171.0h1v1h-1zM77.0,173.0h1v1h-1zM79.0,174.0h1v1h-1zM81.0,174.0h1v1h-1zM89.0,174.0h1v1h-1zM84.0,175.0h1v1h-1zM89.0,175.0h1v1h-1zM84.0,176.0h1v1h-1zM82.0,177.0h1v1h-1zM101.0,179.0h1v1h-1z" fill="#4854c0" opacity="0.72"/>
<path d="M84.0,144.0h1v1h-1zM79.0,145.0h1v1h-1zM84.0,152.0h1v1h-1zM91.0,155.0h1v1h-1zM94.0,163.0h1v1h-1zM79.0,173.0h1v1h-1zM82.0,174.0h1v1h-1zM85.0,174.0h1v1h-1z" fill="#4854c0" opacity="0.88"/>
<path d="M89.0,150.0h1v1h-1zM88.0,152.0h1v1h-1zM81.0,166.0h1v1h-1zM94.0,169.0h1v1h-1zM81.0,172.0h1v1h-1zM82.0,173.0h1v1h-1z" fill="#3c54c0" opacity="0.72"/>
<path d="M88.0,151.0h1v1h-1zM95.0,167.0h1v1h-1zM79.0,169.0h1v1h-1zM92.0,172.0h1v1h-1z" fill="#3c54cc" opacity="0.88"/>
<path d="M85.0,155.0h1v1h-1zM80.0,164.0h1v1h-1zM83.0,164.0h1v1h-1zM93.0,171.0h1v1h-1zM92.0,173.0h1v1h-1z" fill="#3c54c0" opacity="0.88"/>
<path d="M88.0,162.0h1v1h-1zM89.0,162.0h1v1h-1zM86.0,163.0h1v1h-1zM91.0,163.0h1v1h-1zM92.0,163.0h1v1h-1zM93.0,164.0h1v1h-1zM83.0,165.0h1v1h-1zM82.0,166.0h1v1h-1zM93.0,166.0h1v1h-1zM94.0,166.0h1v1h-1zM81.0,167.0h1v1h-1zM94.0,167.0h1v1h-1zM80.0,168.0h1v1h-1zM93.0,168.0h1v1h-1zM81.0,169.0h1v1h-1zM92.0,170.0h1v1h-1zM80.0,171.0h1v1h-1zM84.0,173.0h1v1h-1zM86.0,173.0h1v1h-1zM88.0,173.0h1v1h-1zM89.0,173.0h1v1h-1z" fill="#3c60cc" opacity="0.72"/>
<path d="M85.0,163.0h1v1h-1zM94.0,165.0h1v1h-1zM95.0,166.0h1v1h-1zM93.0,170.0h1v1h-1zM80.0,172.0h1v1h-1zM86.0,174.0h1v1h-1z" fill="#3c54cc" opacity="0.72"/>
<path d="M87.0,163.0h1v1h-1zM88.0,163.0h1v1h-1zM89.0,163.0h1v1h-1zM90.0,163.0h1v1h-1zM92.0,164.0h1v1h-1zM84.0,165.0h1v1h-1zM93.0,165.0h1v1h-1zM93.0,167.0h1v1h-1zM94.0,168.0h1v1h-1zM95.0,168.0h1v1h-1zM80.0,169.0h1v1h-1zM93.0,169.0h1v1h-1zM80.0,170.0h1v1h-1zM81.0,170.0h1v1h-1zM81.0,171.0h1v1h-1zM82.0,171.0h1v1h-1zM83.0,172.0h1v1h-1zM91.0,172.0h1v1h-1zM87.0,173.0h1v1h-1zM87.0,174.0h1v1h-1z" fill="#3c60cc" opacity="0.88"/>
<path d="M86.0,164.0h1v1h-1zM89.0,164.0h1v1h-1zM91.0,164.0h1v1h-1zM92.0,165.0h1v1h-1zM83.0,166.0h1v1h-1zM81.0,168.0h1v1h-1zM82.0,169.0h1v1h-1zM92.0,169.0h1v1h-1zM90.0,171.0h1v1h-1zM91.0,171.0h1v1h-1zM86.0,172.0h1v1h-1zM87.0,172.0h1v1h-1zM89.0,172.0h1v1h-1z" fill="#306ccc" opacity="0.88"/>
<path d="M87.0,164.0h1v1h-1zM90.0,165.0h1v1h-1zM91.0,165.0h1v1h-1zM92.0,168.0h1v1h-1zM83.0,171.0h1v1h-1zM89.0,171.0h1v1h-1zM84.0,172.0h1v1h-1z" fill="#3078cc" opacity="0.88"/>
<path d="M88.0,164.0h1v1h-1zM85.0,165.0h1v1h-1zM92.0,166.0h1v1h-1zM82.0,167.0h1v1h-1zM91.0,170.0h1v1h-1zM85.0,172.0h1v1h-1zM88.0,172.0h1v1h-1z" fill="#306cd8" opacity="0.88"/>
<path d="M90.0,164.0h1v1h-1z" fill="#3060cc" opacity="0.88"/>
<path d="M86.0,165.0h1v1h-1zM87.0,165.0h1v1h-1zM90.0,166.0h1v1h-1z" fill="#3c9c9c" opacity="1.0"/>
<path d="M88.0,165.0h1v1h-1zM84.0,170.0h1v1h-1zM85.0,171.0h1v1h-1z" fill="#3ca884" opacity="1.0"/>
<path d="M89.0,165.0h1v1h-1zM82.0,168.0h1v1h-1z" fill="#3078c0" opacity="0.88"/>
<path d="M84.0,166.0h1v1h-1z" fill="#3084b4" opacity="1.0"/>
<path d="M85.0,166.0h1v1h-1zM90.0,168.0h1v1h-1zM89.0,169.0h1v1h-1zM90.0,169.0h1v1h-1z" fill="#48c06c" opacity="1.0"/>
<path d="M86.0,166.0h1v1h-1z" fill="#b4cc30" opacity="1.0"/>
<path d="M87.0,166.0h1v1h-1zM89.0,166.0h1v1h-1zM89.0,167.0h1v1h-1z" fill="#78c054" opacity="1.0"/>
<path d="M88.0,166.0h1v1h-1zM85.0,167.0h1v1h-1zM89.0,168.0h1v1h-1z" fill="#9ccc3c" opacity="1.0"/>
<path d="M91.0,166.0h1v1h-1zM92.0,167.0h1v1h-1zM91.0,168.0h1v1h-1zM90.0,170.0h1v1h-1zM84.0,171.0h1v1h-1zM86.0,171.0h1v1h-1zM87.0,171.0h1v1h-1zM88.0,171.0h1v1h-1z" fill="#3090a8" opacity="1.0"/>
<path d="M83.0,167.0h1v1h-1z" fill="#3090b4" opacity="1.0"/>
<path d="M84.0,167.0h1v1h-1zM89.0,170.0h1v1h-1z" fill="#3cb484" opacity="1.0"/>
<path d="M86.0,167.0h1v1h-1z" fill="#f0cc24" opacity="1.0"/>
<path d="M87.0,167.0h1v1h-1zM87.0,170.0h1v1h-1z" fill="#c0d830" opacity="1.0"/>
<path d="M88.0,167.0h1v1h-1z" fill="#f0d824" opacity="1.0"/>
<path d="M90.0,167.0h1v1h-1z" fill="#3ca890" opacity="1.0"/>
<path d="M91.0,167.0h1v1h-1z" fill="#309ca8" opacity="1.0"/>
<path d="M83.0,168.0h1v1h-1zM83.0,169.0h1v1h-1z" fill="#3084c0" opacity="1.0"/>
<path d="M84.0,168.0h1v1h-1z" fill="#3cc078" opacity="1.0"/>
<path d="M85.0,168.0h1v1h-1z" fill="#54c06c" opacity="1.0"/>
<path d="M86.0,168.0h1v1h-1zM86.0,170.0h1v1h-1z" fill="#ccd830" opacity="1.0"/>
<path d="M87.0,168.0h1v1h-1z" fill="#f08418" opacity="1.0"/>
<path d="M88.0,168.0h1v1h-1z" fill="#d8d830" opacity="1.0"/>
<path d="M84.0,169.0h1v1h-1z" fill="#48c078" opacity="1.0"/>
<path d="M85.0,169.0h1v1h-1zM86.0,169.0h1v1h-1z" fill="#b4d830" opacity="1.0"/>
<path d="M87.0,169.0h1v1h-1z" fill="#e43018" opacity="1.0"/>
<path d="M88.0,169.0h1v1h-1zM88.0,170.0h1v1h-1z" fill="#90cc3c" opacity="1.0"/>
<path d="M91.0,169.0h1v1h-1zM83.0,170.0h1v1h-1z" fill="#3084c0" opacity="0.88"/>
<path d="M85.0,170.0h1v1h-1z" fill="#84cc48" opacity="1.0"/>
<line x1="98.50" y1="115.40" x2="98.50" y2="183.00" stroke="#4d4d4f" stroke-width="0.9" />
<line x1="73.50" y1="159.00" x2="142.00" y2="159.00" stroke="#4d4d4f" stroke-width="0.9" />
<path d="M72.60,115.40V183.30" stroke="#111" stroke-width="1.7"/>
<path d="M69.2,163.6h4.3M69.2,151.6h4.3M69.2,139.7h4.3M69.2,128.5h4.3M69.2,117.4h4.3M69.2,172.3h4.3M69.2,179.6h4.3" stroke="#000" stroke-width="1.4"/>
<path d="M70.7,160.0h2.8M70.7,157.9h2.8M70.7,156.4h2.8M70.7,155.2h2.8M70.7,154.3h2.8M70.7,153.5h2.8M70.7,152.8h2.8M70.7,152.1h2.8M70.7,148.0h2.8M70.7,145.9h2.8M70.7,144.4h2.8M70.7,143.3h2.8M70.7,142.3h2.8M70.7,141.5h2.8M70.7,140.9h2.8M70.7,140.2h2.8M70.7,136.3h2.8M70.7,134.4h2.8M70.7,133.0h2.8M70.7,131.9h2.8M70.7,131.0h2.8M70.7,130.2h2.8M70.7,129.6h2.8M70.7,129.0h2.8M70.7,125.2h2.8M70.7,123.2h2.8M70.7,121.8h2.8M70.7,120.7h2.8M70.7,119.9h2.8M70.7,119.1h2.8M70.7,118.5h2.8M70.7,117.9h2.8M70.7,171.1h2.8M70.7,169.8h2.8M70.7,168.6h2.8M70.7,167.3h2.8M70.7,166.1h2.8M70.7,164.8h2.8M70.7,174.1h2.8M70.7,175.9h2.8M70.7,177.7h2.8" stroke="#333" stroke-width="1.0"/>
<text x="64.90" y="120.80" font-size="6.7" text-anchor="end" fill="#231f20">10</text>
<text x="65.20" y="116.70" font-size="4.4" fill="#231f20">7</text>
<text x="64.90" y="144.10" font-size="6.7" text-anchor="end" fill="#231f20">10</text>
<text x="65.20" y="140.00" font-size="4.4" fill="#231f20">5</text>
<text x="64.90" y="166.00" font-size="6.7" text-anchor="end" fill="#231f20">10</text>
<text x="65.20" y="161.90" font-size="4.4" fill="#231f20">3</text>
<text x="66.70" y="174.90" font-size="6.7" text-anchor="end" fill="#231f20" >0</text>
<line x1="73.50" y1="183.00" x2="142.00" y2="183.00" stroke="#444" stroke-width="0.9" />
<path d="M94.5,183.0v4M85.1,183.0v4M75.9,183.0v4" stroke="#000" stroke-width="1.4"/>
<path d="M86.4,183.0v2.6M87.8,183.0v2.6M89.1,183.0v2.6M90.5,183.0v2.6M91.8,183.0v2.6M93.2,183.0v2.6M83.4,183.0v2.6M81.7,183.0v2.6M80.0,183.0v2.6M78.3,183.0v2.6M76.6,183.0v2.6" stroke="#000" stroke-width="1.0"/>
<path d="M105.5,183.0v3.6M115.8,183.0v3.6M126.5,183.0v3.6M137.3,183.0v3.6" stroke="#333" stroke-width="1.0"/>
<path d="M97.8,183.0v2.2M99.7,183.0v2.2M101.1,183.0v2.2M102.2,183.0v2.2M103.1,183.0v2.2M103.8,183.0v2.2M104.4,183.0v2.2M105.0,183.0v2.2M108.6,183.0v2.2M110.4,183.0v2.2M111.7,183.0v2.2M112.7,183.0v2.2M113.5,183.0v2.2M114.2,183.0v2.2M114.8,183.0v2.2M115.3,183.0v2.2M119.0,183.0v2.2M120.9,183.0v2.2M122.2,183.0v2.2M123.3,183.0v2.2M124.1,183.0v2.2M124.8,183.0v2.2M125.5,183.0v2.2M126.0,183.0v2.2M129.8,183.0v2.2M131.7,183.0v2.2M133.0,183.0v2.2M134.0,183.0v2.2M134.9,183.0v2.2M135.6,183.0v2.2M136.3,183.0v2.2M136.8,183.0v2.2" stroke="#777" stroke-width="0.8"/>
<text x="76.50" y="124.00" font-size="5.9" text-anchor="start" fill="#231f20" >Q1</text>
<text x="137.00" y="124.00" font-size="5.9" text-anchor="end" fill="#231f20" >Q2</text>
<text x="76.50" y="136.40" font-size="5.9" text-anchor="start" fill="#231f20" >4.09</text>
<text x="137.00" y="136.40" font-size="5.9" text-anchor="end" fill="#231f20" >2.78</text>
<text x="76.50" y="166.80" font-size="5.9" text-anchor="start" fill="#231f20" >Q4</text>
<text x="137.00" y="166.80" font-size="5.9" text-anchor="end" fill="#231f20" >Q3</text>
<text x="76.50" y="182.20" font-size="5.9" text-anchor="start" fill="#231f20" >92.6</text>
<text x="137.00" y="182.20" font-size="5.9" text-anchor="end" fill="#231f20" >0.55</text>
<path d="M157.20,115.40 H225.70 V183.00" fill="none" stroke="#6d6e71" stroke-width="0.9"/>
<path d="M196.0,130.0h1v1h-1zM200.0,131.0h1v1h-1zM211.0,132.0h1v1h-1zM192.0,133.0h1v1h-1zM193.0,133.0h1v1h-1zM205.0,135.0h1v1h-1zM189.0,136.0h1v1h-1zM191.0,136.0h1v1h-1zM207.0,136.0h1v1h-1zM170.0,137.0h1v1h-1zM171.0,138.0h1v1h-1zM188.0,139.0h1v1h-1zM167.0,140.0h1v1h-1zM176.0,140.0h1v1h-1zM208.0,140.0h1v1h-1zM177.0,141.0h1v1h-1zM191.0,141.0h1v1h-1zM175.0,142.0h1v1h-1zM179.0,142.0h1v1h-1zM206.0,142.0h1v1h-1zM177.0,143.0h1v1h-1zM165.0,144.0h1v1h-1zM172.0,144.0h1v1h-1zM187.0,144.0h1v1h-1zM189.0,144.0h1v1h-1zM211.0,144.0h1v1h-1zM162.0,145.0h1v1h-1zM167.0,145.0h1v1h-1zM169.0,145.0h1v1h-1zM208.0,148.0h1v1h-1zM166.0,149.0h1v1h-1zM177.0,149.0h1v1h-1zM207.0,149.0h1v1h-1zM167.0,150.0h1v1h-1zM173.0,150.0h1v1h-1zM188.0,150.0h1v1h-1zM165.0,151.0h1v1h-1zM181.0,151.0h1v1h-1zM188.0,151.0h1v1h-1zM190.0,151.0h1v1h-1zM168.0,152.0h1v1h-1zM176.0,154.0h1v1h-1zM179.0,154.0h1v1h-1zM206.0,154.0h1v1h-1zM208.0,154.0h1v1h-1zM190.0,155.0h1v1h-1zM169.0,157.0h1v1h-1zM175.0,157.0h1v1h-1zM181.0,157.0h1v1h-1zM204.0,157.0h1v1h-1zM171.0,158.0h1v1h-1zM202.0,158.0h1v1h-1zM172.0,159.0h1v1h-1zM201.0,159.0h1v1h-1zM167.0,160.0h1v1h-1zM169.0,160.0h1v1h-1zM170.0,160.0h1v1h-1zM176.0,160.0h1v1h-1zM191.0,160.0h1v1h-1zM185.0,161.0h1v1h-1zM196.0,161.0h1v1h-1zM163.0,162.0h1v1h-1zM187.0,162.0h1v1h-1zM190.0,162.0h1v1h-1zM169.0,163.0h1v1h-1zM193.0,163.0h1v1h-1zM165.0,164.0h1v1h-1zM182.0,164.0h1v1h-1zM193.0,164.0h1v1h-1zM200.0,164.0h1v1h-1zM185.0,165.0h1v1h-1zM188.0,165.0h1v1h-1zM181.0,166.0h1v1h-1zM192.0,166.0h1v1h-1zM200.0,166.0h1v1h-1zM162.0,168.0h1v1h-1zM186.0,168.0h1v1h-1zM166.0,169.0h1v1h-1zM184.0,170.0h1v1h-1zM194.0,171.0h1v1h-1zM195.0,171.0h1v1h-1zM183.0,172.0h1v1h-1zM185.0,172.0h1v1h-1zM187.0,173.0h1v1h-1zM174.0,174.0h1v1h-1zM167.0,175.0h1v1h-1zM172.0,175.0h1v1h-1zM192.0,175.0h1v1h-1zM170.0,177.0h1v1h-1zM183.0,177.0h1v1h-1zM198.0,177.0h1v1h-1zM202.0,178.0h1v1h-1z" fill="#4854c0" opacity="0.72"/>
<path d="M196.0,133.0h1v1h-1zM197.0,133.0h1v1h-1zM196.0,134.0h1v1h-1zM197.0,134.0h1v1h-1zM201.0,134.0h1v1h-1zM199.0,135.0h1v1h-1zM200.0,135.0h1v1h-1zM195.0,136.0h1v1h-1zM200.0,136.0h1v1h-1zM195.0,137.0h1v1h-1zM201.0,137.0h1v1h-1zM206.0,137.0h1v1h-1zM205.0,138.0h1v1h-1zM205.0,139.0h1v1h-1zM205.0,141.0h1v1h-1zM204.0,142.0h1v1h-1zM191.0,143.0h1v1h-1zM205.0,143.0h1v1h-1zM192.0,144.0h1v1h-1zM205.0,145.0h1v1h-1zM191.0,146.0h1v1h-1zM191.0,147.0h1v1h-1zM170.0,148.0h1v1h-1zM192.0,150.0h1v1h-1zM193.0,150.0h1v1h-1zM205.0,150.0h1v1h-1zM206.0,150.0h1v1h-1zM205.0,151.0h1v1h-1zM194.0,152.0h1v1h-1zM195.0,154.0h1v1h-1zM204.0,154.0h1v1h-1zM197.0,155.0h1v1h-1zM203.0,155.0h1v1h-1zM204.0,155.0h1v1h-1zM199.0,156.0h1v1h-1zM201.0,156.0h1v1h-1zM197.0,157.0h1v1h-1zM200.0,157.0h1v1h-1zM175.0,162.0h1v1h-1zM178.0,162.0h1v1h-1zM177.0,163.0h1v1h-1zM178.0,163.0h1v1h-1zM180.0,167.0h1v1h-1zM183.0,167.0h1v1h-1zM177.0,168.0h1v1h-1zM168.0,171.0h1v1h-1zM176.0,171.0h1v1h-1zM173.0,172.0h1v1h-1zM174.0,172.0h1v1h-1zM175.0,172.0h1v1h-1z" fill="#3c60cc" opacity="0.72"/>
<path d="M199.0,133.0h1v1h-1zM194.0,135.0h1v1h-1zM193.0,136.0h1v1h-1zM204.0,136.0h1v1h-1zM190.0,139.0h1v1h-1zM191.0,139.0h1v1h-1zM191.0,144.0h1v1h-1zM207.0,144.0h1v1h-1zM207.0,145.0h1v1h-1zM168.0,146.0h1v1h-1zM207.0,146.0h1v1h-1zM169.0,147.0h1v1h-1zM170.0,147.0h1v1h-1zM169.0,148.0h1v1h-1zM194.0,154.0h1v1h-1zM168.0,156.0h1v1h-1zM168.0,157.0h1v1h-1zM197.0,159.0h1v1h-1zM180.0,161.0h1v1h-1zM164.0,162.0h1v1h-1zM174.0,162.0h1v1h-1zM179.0,162.0h1v1h-1zM180.0,164.0h1v1h-1zM180.0,165.0h1v1h-1zM184.0,167.0h1v1h-1zM185.0,168.0h1v1h-1zM190.0,169.0h1v1h-1zM189.0,170.0h1v1h-1zM192.0,170.0h1v1h-1zM193.0,170.0h1v1h-1zM178.0,171.0h1v1h-1zM176.0,172.0h1v1h-1zM177.0,172.0h1v1h-1z" fill="#3c54cc" opacity="0.72"/>
<path d="M195.0,134.0h1v1h-1zM200.0,134.0h1v1h-1zM197.0,135.0h1v1h-1zM196.0,136.0h1v1h-1zM194.0,137.0h1v1h-1zM203.0,137.0h1v1h-1zM205.0,137.0h1v1h-1zM192.0,138.0h1v1h-1zM193.0,138.0h1v1h-1zM192.0,142.0h1v1h-1zM191.0,148.0h1v1h-1zM206.0,148.0h1v1h-1zM192.0,149.0h1v1h-1zM193.0,149.0h1v1h-1zM171.0,150.0h1v1h-1zM191.0,150.0h1v1h-1zM206.0,152.0h1v1h-1zM195.0,153.0h1v1h-1zM204.0,153.0h1v1h-1zM196.0,155.0h1v1h-1zM199.0,157.0h1v1h-1zM197.0,158.0h1v1h-1zM172.0,162.0h1v1h-1zM176.0,162.0h1v1h-1zM178.0,164.0h1v1h-1zM167.0,165.0h1v1h-1zM183.0,166.0h1v1h-1zM179.0,167.0h1v1h-1zM180.0,168.0h1v1h-1zM196.0,168.0h1v1h-1zM188.0,169.0h1v1h-1zM169.0,172.0h1v1h-1zM170.0,172.0h1v1h-1z" fill="#3c60cc" opacity="0.88"/>
<path d="M202.0,134.0h1v1h-1zM192.0,135.0h1v1h-1zM190.0,145.0h1v1h-1zM168.0,149.0h1v1h-1zM173.0,149.0h1v1h-1zM194.0,155.0h1v1h-1zM196.0,157.0h1v1h-1zM173.0,159.0h1v1h-1zM181.0,161.0h1v1h-1zM165.0,162.0h1v1h-1zM165.0,166.0h1v1h-1zM188.0,166.0h1v1h-1zM194.0,166.0h1v1h-1zM183.0,168.0h1v1h-1zM189.0,168.0h1v1h-1zM178.0,170.0h1v1h-1zM183.0,171.0h1v1h-1zM192.0,171.0h1v1h-1zM188.0,174.0h1v1h-1zM189.0,174.0h1v1h-1z" fill="#3c54c0" opacity="0.72"/>
<path d="M198.0,135.0h1v1h-1zM202.0,137.0h1v1h-1zM204.0,138.0h1v1h-1zM192.0,146.0h1v1h-1zM168.0,165.0h1v1h-1zM178.0,167.0h1v1h-1z" fill="#3060cc" opacity="0.88"/>
<path d="M197.0,136.0h1v1h-1zM199.0,136.0h1v1h-1zM200.0,137.0h1v1h-1zM194.0,138.0h1v1h-1zM193.0,142.0h1v1h-1zM204.0,144.0h1v1h-1zM204.0,146.0h1v1h-1zM197.0,154.0h1v1h-1zM199.0,154.0h1v1h-1zM169.0,170.0h1v1h-1zM172.0,171.0h1v1h-1zM173.0,171.0h1v1h-1z" fill="#306cd8" opacity="0.88"/>
<path d="M198.0,136.0h1v1h-1zM199.0,137.0h1v1h-1zM200.0,138.0h1v1h-1zM204.0,139.0h1v1h-1zM193.0,145.0h1v1h-1zM204.0,145.0h1v1h-1zM193.0,146.0h1v1h-1zM204.0,152.0h1v1h-1zM171.0,164.0h1v1h-1zM178.0,166.0h1v1h-1zM175.0,170.0h1v1h-1z" fill="#3078d8" opacity="0.88"/>
<path d="M196.0,137.0h1v1h-1zM201.0,138.0h1v1h-1zM193.0,140.0h1v1h-1zM194.0,142.0h1v1h-1zM204.0,151.0h1v1h-1zM200.0,153.0h1v1h-1zM200.0,154.0h1v1h-1zM176.0,165.0h1v1h-1zM169.0,169.0h1v1h-1zM176.0,169.0h1v1h-1z" fill="#3084c0" opacity="0.88"/>
<path d="M197.0,137.0h1v1h-1zM202.0,138.0h1v1h-1zM193.0,139.0h1v1h-1zM204.0,141.0h1v1h-1zM193.0,147.0h1v1h-1zM193.0,148.0h1v1h-1zM194.0,150.0h1v1h-1zM196.0,152.0h1v1h-1zM203.0,152.0h1v1h-1zM201.0,153.0h1v1h-1zM202.0,153.0h1v1h-1zM201.0,154.0h1v1h-1zM202.0,154.0h1v1h-1zM203.0,154.0h1v1h-1zM177.0,166.0h1v1h-1zM176.0,168.0h1v1h-1z" fill="#3078cc" opacity="0.88"/>
<path d="M198.0,137.0h1v1h-1zM196.0,138.0h1v1h-1z" fill="#3078c0" opacity="0.88"/>
<path d="M190.0,138.0h1v1h-1zM173.0,147.0h1v1h-1zM189.0,154.0h1v1h-1zM166.0,163.0h1v1h-1zM166.0,167.0h1v1h-1zM195.0,167.0h1v1h-1zM176.0,176.0h1v1h-1z" fill="#3c54cc" opacity="0.88"/>
<path d="M197.0,138.0h1v1h-1zM199.0,139.0h1v1h-1zM203.0,149.0h1v1h-1zM202.0,151.0h1v1h-1zM197.0,152.0h1v1h-1zM198.0,153.0h1v1h-1zM174.0,164.0h1v1h-1zM172.0,165.0h1v1h-1z" fill="#3cb478" opacity="1.0"/>
<path d="M198.0,138.0h1v1h-1zM196.0,139.0h1v1h-1zM198.0,139.0h1v1h-1zM203.0,143.0h1v1h-1zM204.0,147.0h1v1h-1zM197.0,153.0h1v1h-1zM199.0,153.0h1v1h-1z" fill="#3090a8" opacity="1.0"/>
<path d="M199.0,138.0h1v1h-1zM195.0,139.0h1v1h-1zM203.0,139.0h1v1h-1zM204.0,140.0h1v1h-1zM194.0,141.0h1v1h-1zM203.0,144.0h1v1h-1zM203.0,145.0h1v1h-1zM203.0,146.0h1v1h-1zM204.0,148.0h1v1h-1zM198.0,154.0h1v1h-1zM169.0,166.0h1v1h-1zM168.0,168.0h1v1h-1z" fill="#3090b4" opacity="1.0"/>
<path d="M194.0,139.0h1v1h-1zM201.0,142.0h1v1h-1zM194.0,143.0h1v1h-1zM194.0,146.0h1v1h-1zM173.0,164.0h1v1h-1z" fill="#3c9c9c" opacity="1.0"/>
<path d="M197.0,139.0h1v1h-1zM200.0,140.0h1v1h-1zM202.0,146.0h1v1h-1zM203.0,147.0h1v1h-1zM195.0,149.0h1v1h-1zM197.0,151.0h1v1h-1z" fill="#48c06c" opacity="1.0"/>
<path d="M200.0,139.0h1v1h-1zM202.0,141.0h1v1h-1z" fill="#3ca89c" opacity="1.0"/>
<path d="M201.0,139.0h1v1h-1zM202.0,139.0h1v1h-1zM194.0,140.0h1v1h-1zM196.0,140.0h1v1h-1zM203.0,140.0h1v1h-1zM195.0,142.0h1v1h-1zM194.0,144.0h1v1h-1zM202.0,145.0h1v1h-1zM203.0,150.0h1v1h-1zM201.0,151.0h1v1h-1zM203.0,151.0h1v1h-1zM199.0,152.0h1v1h-1zM202.0,152.0h1v1h-1zM175.0,164.0h1v1h-1zM176.0,166.0h1v1h-1zM169.0,168.0h1v1h-1zM173.0,170.0h1v1h-1zM171.0,171.0h1v1h-1z" fill="#3ca890" opacity="1.0"/>
<path d="M195.0,140.0h1v1h-1zM201.0,141.0h1v1h-1zM203.0,141.0h1v1h-1zM202.0,142.0h1v1h-1zM194.0,145.0h1v1h-1zM200.0,152.0h1v1h-1zM170.0,165.0h1v1h-1zM175.0,169.0h1v1h-1zM174.0,170.0h1v1h-1z" fill="#309c9c" opacity="1.0"/>
<path d="M197.0,140.0h1v1h-1zM195.0,150.0h1v1h-1z" fill="#3ca884" opacity="1.0"/>
<path d="M198.0,140.0h1v1h-1zM200.0,143.0h1v1h-1zM195.0,144.0h1v1h-1z" fill="#60c060" opacity="1.0"/>
<path d="M199.0,140.0h1v1h-1zM198.0,144.0h1v1h-1zM170.0,167.0h1v1h-1z" fill="#c0d830" opacity="1.0"/>
<path d="M201.0,140.0h1v1h-1z" fill="#54c060" opacity="1.0"/>
<path d="M202.0,140.0h1v1h-1zM194.0,148.0h1v1h-1zM202.0,150.0h1v1h-1z" fill="#309ca8" opacity="1.0"/>
<path d="M193.0,141.0h1v1h-1zM193.0,143.0h1v1h-1zM204.0,143.0h1v1h-1zM193.0,144.0h1v1h-1zM205.0,147.0h1v1h-1zM192.0,148.0h1v1h-1zM205.0,148.0h1v1h-1zM194.0,151.0h1v1h-1zM195.0,152.0h1v1h-1zM205.0,152.0h1v1h-1zM196.0,153.0h1v1h-1zM203.0,153.0h1v1h-1zM198.0,155.0h1v1h-1zM200.0,155.0h1v1h-1zM201.0,155.0h1v1h-1zM202.0,155.0h1v1h-1zM198.0,156.0h1v1h-1zM198.0,157.0h1v1h-1zM172.0,163.0h1v1h-1zM173.0,163.0h1v1h-1zM175.0,163.0h1v1h-1zM176.0,164.0h1v1h-1zM177.0,165.0h1v1h-1zM178.0,165.0h1v1h-1zM168.0,166.0h1v1h-1zM179.0,166.0h1v1h-1zM168.0,169.0h1v1h-1zM176.0,170.0h1v1h-1zM169.0,171.0h1v1h-1zM174.0,171.0h1v1h-1z" fill="#306ccc" opacity="0.88"/>
<path d="M195.0,141.0h1v1h-1zM201.0,144.0h1v1h-1zM202.0,144.0h1v1h-1zM195.0,148.0h1v1h-1zM200.0,150.0h1v1h-1zM196.0,151.0h1v1h-1zM170.0,170.0h1v1h-1zM171.0,170.0h1v1h-1z" fill="#3cb484" opacity="1.0"/>
<path d="M196.0,141.0h1v1h-1zM196.0,142.0h1v1h-1zM195.0,147.0h1v1h-1zM201.0,149.0h1v1h-1zM175.0,165.0h1v1h-1z" fill="#6cc060" opacity="1.0"/>
<path d="M197.0,141.0h1v1h-1zM196.0,143.0h1v1h-1z" fill="#b4d830" opacity="1.0"/>
<path d="M198.0,141.0h1v1h-1zM197.0,146.0h1v1h-1zM199.0,149.0h1v1h-1zM175.0,167.0h1v1h-1zM172.0,169.0h1v1h-1z" fill="#d8d830" opacity="1.0"/>
<path d="M199.0,141.0h1v1h-1zM199.0,142.0h1v1h-1zM199.0,145.0h1v1h-1zM173.0,169.0h1v1h-1z" fill="#f0b424" opacity="1.0"/>
<path d="M200.0,141.0h1v1h-1z" fill="#78cc48" opacity="1.0"/>
<path d="M197.0,142.0h1v1h-1z" fill="#b4cc30" opacity="1.0"/>
<path d="M198.0,142.0h1v1h-1zM196.0,145.0h1v1h-1zM196.0,147.0h1v1h-1zM197.0,147.0h1v1h-1zM201.0,147.0h1v1h-1zM199.0,148.0h1v1h-1zM200.0,148.0h1v1h-1zM174.0,168.0h1v1h-1z" fill="#f0d824" opacity="1.0"/>
<path d="M200.0,142.0h1v1h-1zM196.0,144.0h1v1h-1zM200.0,146.0h1v1h-1zM170.0,168.0h1v1h-1zM171.0,168.0h1v1h-1z" fill="#a8cc3c" opacity="1.0"/>
<path d="M195.0,143.0h1v1h-1zM201.0,143.0h1v1h-1zM200.0,151.0h1v1h-1zM201.0,152.0h1v1h-1zM170.0,169.0h1v1h-1z" fill="#54c06c" opacity="1.0"/>
<path d="M197.0,143.0h1v1h-1zM198.0,148.0h1v1h-1z" fill="#f0a824" opacity="1.0"/>
<path d="M198.0,143.0h1v1h-1z" fill="#f09018" opacity="1.0"/>
<path d="M199.0,143.0h1v1h-1zM200.0,145.0h1v1h-1zM196.0,146.0h1v1h-1zM197.0,148.0h1v1h-1zM202.0,148.0h1v1h-1zM198.0,151.0h1v1h-1z" fill="#ccd830" opacity="1.0"/>
<path d="M202.0,143.0h1v1h-1zM204.0,149.0h1v1h-1zM172.0,164.0h1v1h-1z" fill="#3084b4" opacity="1.0"/>
<path d="M197.0,144.0h1v1h-1zM199.0,147.0h1v1h-1zM174.0,166.0h1v1h-1z" fill="#e44818" opacity="1.0"/>
<path d="M199.0,144.0h1v1h-1z" fill="#90cc3c" opacity="1.0"/>
<path d="M200.0,144.0h1v1h-1zM174.0,169.0h1v1h-1z" fill="#90cc48" opacity="1.0"/>
<path d="M195.0,145.0h1v1h-1zM201.0,145.0h1v1h-1zM201.0,150.0h1v1h-1zM198.0,152.0h1v1h-1zM172.0,170.0h1v1h-1z" fill="#48c078" opacity="1.0"/>
<path d="M197.0,145.0h1v1h-1zM200.0,149.0h1v1h-1zM198.0,150.0h1v1h-1z" fill="#9ccc3c" opacity="1.0"/>
<path d="M198.0,145.0h1v1h-1zM201.0,148.0h1v1h-1zM198.0,149.0h1v1h-1zM171.0,166.0h1v1h-1zM173.0,166.0h1v1h-1z" fill="#f08418" opacity="1.0"/>
<path d="M195.0,146.0h1v1h-1zM199.0,150.0h1v1h-1z" fill="#78c054" opacity="1.0"/>
<path d="M198.0,146.0h1v1h-1zM173.0,167.0h1v1h-1zM174.0,167.0h1v1h-1zM172.0,168.0h1v1h-1z" fill="#e42418" opacity="1.0"/>
<path d="M199.0,146.0h1v1h-1zM174.0,165.0h1v1h-1z" fill="#f0c024" opacity="1.0"/>
<path d="M201.0,146.0h1v1h-1zM196.0,149.0h1v1h-1zM202.0,149.0h1v1h-1zM199.0,151.0h1v1h-1zM173.0,165.0h1v1h-1z" fill="#84cc48" opacity="1.0"/>
<path d="M194.0,147.0h1v1h-1zM204.0,150.0h1v1h-1zM195.0,151.0h1v1h-1zM168.0,167.0h1v1h-1zM170.0,171.0h1v1h-1z" fill="#3084c0" opacity="1.0"/>
<path d="M198.0,147.0h1v1h-1z" fill="#f06c18" opacity="1.0"/>
<path d="M200.0,147.0h1v1h-1zM197.0,149.0h1v1h-1zM172.0,167.0h1v1h-1z" fill="#f07818" opacity="1.0"/>
<path d="M202.0,147.0h1v1h-1zM196.0,150.0h1v1h-1zM171.0,165.0h1v1h-1zM170.0,166.0h1v1h-1zM169.0,167.0h1v1h-1zM175.0,168.0h1v1h-1z" fill="#6cc054" opacity="1.0"/>
<path d="M196.0,148.0h1v1h-1z" fill="#f0cc24" opacity="1.0"/>
<path d="M203.0,148.0h1v1h-1zM176.0,167.0h1v1h-1z" fill="#3cc078" opacity="1.0"/>
<path d="M197.0,150.0h1v1h-1zM175.0,166.0h1v1h-1zM171.0,169.0h1v1h-1z" fill="#e4d830" opacity="1.0"/>
<path d="M172.0,166.0h1v1h-1zM171.0,167.0h1v1h-1z" fill="#f05418" opacity="1.0"/>
<path d="M173.0,168.0h1v1h-1z" fill="#f09024" opacity="1.0"/>
<line x1="182.20" y1="115.40" x2="182.20" y2="183.00" stroke="#4d4d4f" stroke-width="0.9" />
<line x1="157.20" y1="159.00" x2="225.70" y2="159.00" stroke="#4d4d4f" stroke-width="0.9" />
<path d="M156.30,115.40V183.30" stroke="#111" stroke-width="1.7"/>
<path d="M152.9,163.6h4.3M152.9,151.6h4.3M152.9,139.7h4.3M152.9,128.5h4.3M152.9,117.4h4.3M152.9,172.3h4.3M152.9,179.6h4.3" stroke="#000" stroke-width="1.4"/>
<path d="M154.4,160.0h2.8M154.4,157.9h2.8M154.4,156.4h2.8M154.4,155.2h2.8M154.4,154.3h2.8M154.4,153.5h2.8M154.4,152.8h2.8M154.4,152.1h2.8M154.4,148.0h2.8M154.4,145.9h2.8M154.4,144.4h2.8M154.4,143.3h2.8M154.4,142.3h2.8M154.4,141.5h2.8M154.4,140.9h2.8M154.4,140.2h2.8M154.4,136.3h2.8M154.4,134.4h2.8M154.4,133.0h2.8M154.4,131.9h2.8M154.4,131.0h2.8M154.4,130.2h2.8M154.4,129.6h2.8M154.4,129.0h2.8M154.4,125.2h2.8M154.4,123.2h2.8M154.4,121.8h2.8M154.4,120.7h2.8M154.4,119.9h2.8M154.4,119.1h2.8M154.4,118.5h2.8M154.4,117.9h2.8M154.4,171.1h2.8M154.4,169.8h2.8M154.4,168.6h2.8M154.4,167.3h2.8M154.4,166.1h2.8M154.4,164.8h2.8M154.4,174.1h2.8M154.4,175.9h2.8M154.4,177.7h2.8" stroke="#333" stroke-width="1.0"/>
<line x1="157.20" y1="183.00" x2="225.70" y2="183.00" stroke="#444" stroke-width="0.9" />
<path d="M178.2,183.0v4M168.8,183.0v4M159.6,183.0v4" stroke="#000" stroke-width="1.4"/>
<path d="M170.1,183.0v2.6M171.5,183.0v2.6M172.8,183.0v2.6M174.2,183.0v2.6M175.5,183.0v2.6M176.9,183.0v2.6M167.1,183.0v2.6M165.4,183.0v2.6M163.7,183.0v2.6M162.0,183.0v2.6M160.3,183.0v2.6" stroke="#000" stroke-width="1.0"/>
<path d="M189.2,183.0v3.6M199.5,183.0v3.6M210.2,183.0v3.6M221.0,183.0v3.6" stroke="#333" stroke-width="1.0"/>
<path d="M181.5,183.0v2.2M183.4,183.0v2.2M184.8,183.0v2.2M185.9,183.0v2.2M186.8,183.0v2.2M187.5,183.0v2.2M188.1,183.0v2.2M188.7,183.0v2.2M192.3,183.0v2.2M194.1,183.0v2.2M195.4,183.0v2.2M196.4,183.0v2.2M197.2,183.0v2.2M197.9,183.0v2.2M198.5,183.0v2.2M199.0,183.0v2.2M202.7,183.0v2.2M204.6,183.0v2.2M205.9,183.0v2.2M207.0,183.0v2.2M207.8,183.0v2.2M208.5,183.0v2.2M209.2,183.0v2.2M209.7,183.0v2.2M213.5,183.0v2.2M215.4,183.0v2.2M216.7,183.0v2.2M217.7,183.0v2.2M218.6,183.0v2.2M219.3,183.0v2.2M220.0,183.0v2.2M220.5,183.0v2.2" stroke="#777" stroke-width="0.8"/>
<text x="160.20" y="124.00" font-size="5.9" text-anchor="start" fill="#231f20" >Q1</text>
<text x="220.70" y="124.00" font-size="5.9" text-anchor="end" fill="#231f20" >Q2</text>
<text x="160.20" y="136.40" font-size="5.9" text-anchor="start" fill="#231f20" >1.56</text>
<text x="220.70" y="136.40" font-size="5.9" text-anchor="end" fill="#231f20" >66.0</text>
<text x="160.20" y="166.80" font-size="5.9" text-anchor="start" fill="#231f20" >Q4</text>
<text x="220.70" y="166.80" font-size="5.9" text-anchor="end" fill="#231f20" >Q3</text>
<text x="160.20" y="182.20" font-size="5.9" text-anchor="start" fill="#231f20" >27.7</text>
<text x="220.70" y="182.20" font-size="5.9" text-anchor="end" fill="#231f20" >4.75</text>
<path d="M73.50,193.60 H142.00 V260.10" fill="none" stroke="#6d6e71" stroke-width="0.9"/>
<path d="M89.0,211.0h1v1h-1zM121.0,215.0h1v1h-1zM90.0,216.0h1v1h-1zM110.0,217.0h1v1h-1zM105.0,218.0h1v1h-1zM110.0,218.0h1v1h-1zM112.0,218.0h1v1h-1zM114.0,218.0h1v1h-1zM115.0,218.0h1v1h-1zM84.0,220.0h1v1h-1zM102.0,220.0h1v1h-1zM121.0,220.0h1v1h-1zM86.0,221.0h1v1h-1zM119.0,221.0h1v1h-1zM80.0,222.0h1v1h-1zM83.0,222.0h1v1h-1zM94.0,222.0h1v1h-1zM115.0,222.0h1v1h-1zM80.0,223.0h1v1h-1zM90.0,223.0h1v1h-1zM93.0,223.0h1v1h-1zM102.0,223.0h1v1h-1zM104.0,223.0h1v1h-1zM112.0,223.0h1v1h-1zM79.0,224.0h1v1h-1zM81.0,224.0h1v1h-1zM84.0,224.0h1v1h-1zM105.0,224.0h1v1h-1zM116.0,224.0h1v1h-1zM122.0,224.0h1v1h-1zM85.0,225.0h1v1h-1zM89.0,225.0h1v1h-1zM91.0,225.0h1v1h-1zM112.0,225.0h1v1h-1zM113.0,225.0h1v1h-1zM118.0,225.0h1v1h-1zM81.0,226.0h1v1h-1zM88.0,226.0h1v1h-1zM91.0,226.0h1v1h-1zM97.0,226.0h1v1h-1zM103.0,226.0h1v1h-1zM108.0,226.0h1v1h-1zM85.0,227.0h1v1h-1zM88.0,227.0h1v1h-1zM93.0,227.0h1v1h-1zM98.0,227.0h1v1h-1zM106.0,227.0h1v1h-1zM85.0,228.0h1v1h-1zM88.0,228.0h1v1h-1zM89.0,228.0h1v1h-1zM91.0,228.0h1v1h-1zM110.0,228.0h1v1h-1zM118.0,228.0h1v1h-1zM79.0,229.0h1v1h-1zM83.0,229.0h1v1h-1zM88.0,229.0h1v1h-1zM93.0,229.0h1v1h-1zM85.0,230.0h1v1h-1zM88.0,230.0h1v1h-1zM107.0,230.0h1v1h-1zM112.0,230.0h1v1h-1zM85.0,231.0h1v1h-1zM105.0,231.0h1v1h-1zM106.0,231.0h1v1h-1zM110.0,231.0h1v1h-1zM118.0,231.0h1v1h-1zM89.0,232.0h1v1h-1zM85.0,233.0h1v1h-1zM87.0,233.0h1v1h-1zM94.0,233.0h1v1h-1zM97.0,233.0h1v1h-1zM108.0,233.0h1v1h-1zM83.0,234.0h1v1h-1zM90.0,234.0h1v1h-1zM89.0,235.0h1v1h-1zM91.0,236.0h1v1h-1zM78.0,237.0h1v1h-1zM80.0,237.0h1v1h-1zM89.0,237.0h1v1h-1zM93.0,237.0h1v1h-1zM110.0,237.0h1v1h-1zM82.0,238.0h1v1h-1zM98.0,238.0h1v1h-1zM104.0,238.0h1v1h-1zM87.0,239.0h1v1h-1zM89.0,239.0h1v1h-1zM92.0,239.0h1v1h-1zM81.0,240.0h1v1h-1zM85.0,240.0h1v1h-1zM87.0,240.0h1v1h-1zM98.0,241.0h1v1h-1zM83.0,242.0h1v1h-1zM99.0,242.0h1v1h-1zM83.0,243.0h1v1h-1zM79.0,244.0h1v1h-1zM97.0,244.0h1v1h-1zM98.0,244.0h1v1h-1zM75.0,247.0h1v1h-1zM82.0,249.0h1v1h-1zM81.0,250.0h1v1h-1zM82.0,250.0h1v1h-1zM94.0,250.0h1v1h-1zM84.0,251.0h1v1h-1zM91.0,251.0h1v1h-1zM82.0,252.0h1v1h-1zM88.0,252.0h1v1h-1zM98.0,252.0h1v1h-1zM82.0,253.0h1v1h-1zM84.0,253.0h1v1h-1zM90.0,255.0h1v1h-1z" fill="#4854c0" opacity="0.72"/>
<path d="M113.0,221.0h1v1h-1zM114.0,223.0h1v1h-1zM91.0,227.0h1v1h-1zM108.0,227.0h1v1h-1zM111.0,229.0h1v1h-1zM99.0,230.0h1v1h-1zM91.0,231.0h1v1h-1zM97.0,231.0h1v1h-1zM88.0,234.0h1v1h-1zM94.0,239.0h1v1h-1zM92.0,250.0h1v1h-1z" fill="#4854c0" opacity="0.88"/>
<path d="M113.0,224.0h1v1h-1zM106.0,226.0h1v1h-1zM107.0,226.0h1v1h-1zM82.0,245.0h1v1h-1zM95.0,248.0h1v1h-1z" fill="#3c54cc" opacity="0.88"/>
<path d="M85.0,229.0h1v1h-1z" fill="#3c54c0" opacity="0.88"/>
<path d="M88.0,240.0h1v1h-1zM89.0,240.0h1v1h-1zM85.0,241.0h1v1h-1zM84.0,242.0h1v1h-1zM83.0,249.0h1v1h-1zM94.0,249.0h1v1h-1zM87.0,251.0h1v1h-1zM89.0,251.0h1v1h-1z" fill="#3c54cc" opacity="0.72"/>
<path d="M92.0,240.0h1v1h-1zM93.0,240.0h1v1h-1zM95.0,241.0h1v1h-1zM85.0,242.0h1v1h-1zM86.0,242.0h1v1h-1zM87.0,242.0h1v1h-1zM85.0,243.0h1v1h-1zM96.0,244.0h1v1h-1zM83.0,245.0h1v1h-1zM96.0,245.0h1v1h-1zM82.0,246.0h1v1h-1zM83.0,246.0h1v1h-1zM95.0,246.0h1v1h-1zM82.0,247.0h1v1h-1zM94.0,248.0h1v1h-1zM84.0,249.0h1v1h-1zM87.0,250.0h1v1h-1zM88.0,250.0h1v1h-1zM89.0,250.0h1v1h-1z" fill="#3c60cc" opacity="0.88"/>
<path d="M94.0,240.0h1v1h-1zM87.0,241.0h1v1h-1zM84.0,243.0h1v1h-1zM95.0,243.0h1v1h-1zM84.0,244.0h1v1h-1zM83.0,248.0h1v1h-1zM91.0,249.0h1v1h-1zM85.0,250.0h1v1h-1zM86.0,250.0h1v1h-1zM90.0,250.0h1v1h-1zM88.0,251.0h1v1h-1z" fill="#3c60cc" opacity="0.72"/>
<path d="M89.0,241.0h1v1h-1zM90.0,241.0h1v1h-1zM91.0,241.0h1v1h-1zM92.0,241.0h1v1h-1zM93.0,241.0h1v1h-1zM94.0,242.0h1v1h-1zM95.0,242.0h1v1h-1zM85.0,244.0h1v1h-1zM95.0,244.0h1v1h-1zM95.0,245.0h1v1h-1zM83.0,247.0h1v1h-1zM94.0,247.0h1v1h-1z" fill="#306ccc" opacity="0.88"/>
<path d="M94.0,241.0h1v1h-1zM84.0,245.0h1v1h-1zM93.0,248.0h1v1h-1z" fill="#3060cc" opacity="0.88"/>
<path d="M88.0,242.0h1v1h-1zM89.0,242.0h1v1h-1zM93.0,242.0h1v1h-1zM87.0,243.0h1v1h-1zM94.0,244.0h1v1h-1zM94.0,245.0h1v1h-1zM92.0,248.0h1v1h-1zM89.0,249.0h1v1h-1z" fill="#3078cc" opacity="0.88"/>
<path d="M90.0,242.0h1v1h-1zM93.0,243.0h1v1h-1z" fill="#3090b4" opacity="1.0"/>
<path d="M91.0,242.0h1v1h-1zM84.0,247.0h1v1h-1zM93.0,247.0h1v1h-1z" fill="#3084c0" opacity="0.88"/>
<path d="M92.0,242.0h1v1h-1zM91.0,248.0h1v1h-1z" fill="#3084c0" opacity="1.0"/>
<path d="M86.0,243.0h1v1h-1zM85.0,245.0h1v1h-1zM84.0,246.0h1v1h-1zM94.0,246.0h1v1h-1zM84.0,248.0h1v1h-1zM85.0,249.0h1v1h-1zM86.0,249.0h1v1h-1zM87.0,249.0h1v1h-1zM88.0,249.0h1v1h-1zM90.0,249.0h1v1h-1z" fill="#306cd8" opacity="0.88"/>
<path d="M88.0,243.0h1v1h-1zM86.0,244.0h1v1h-1zM93.0,245.0h1v1h-1zM85.0,248.0h1v1h-1z" fill="#3090a8" opacity="1.0"/>
<path d="M89.0,243.0h1v1h-1zM92.0,243.0h1v1h-1z" fill="#3cb478" opacity="1.0"/>
<path d="M90.0,243.0h1v1h-1zM88.0,244.0h1v1h-1zM91.0,244.0h1v1h-1z" fill="#90cc3c" opacity="1.0"/>
<path d="M91.0,243.0h1v1h-1zM87.0,246.0h1v1h-1zM87.0,247.0h1v1h-1z" fill="#84cc48" opacity="1.0"/>
<path d="M94.0,243.0h1v1h-1z" fill="#3078d8" opacity="0.88"/>
<path d="M82.0,244.0h1v1h-1zM86.0,251.0h1v1h-1z" fill="#3c54c0" opacity="0.72"/>
<path d="M87.0,244.0h1v1h-1zM86.0,245.0h1v1h-1zM93.0,246.0h1v1h-1z" fill="#3ca890" opacity="1.0"/>
<path d="M89.0,244.0h1v1h-1z" fill="#e4d830" opacity="1.0"/>
<path d="M90.0,244.0h1v1h-1zM88.0,247.0h1v1h-1z" fill="#a8cc3c" opacity="1.0"/>
<path d="M92.0,244.0h1v1h-1z" fill="#54c060" opacity="1.0"/>
<path d="M93.0,244.0h1v1h-1zM90.0,248.0h1v1h-1z" fill="#309c9c" opacity="1.0"/>
<path d="M87.0,245.0h1v1h-1z" fill="#3cc078" opacity="1.0"/>
<path d="M88.0,245.0h1v1h-1z" fill="#78cc48" opacity="1.0"/>
<path d="M89.0,245.0h1v1h-1z" fill="#f0d824" opacity="1.0"/>
<path d="M90.0,245.0h1v1h-1z" fill="#e43018" opacity="1.0"/>
<path d="M91.0,245.0h1v1h-1zM90.0,246.0h1v1h-1z" fill="#f09c24" opacity="1.0"/>
<path d="M92.0,245.0h1v1h-1zM89.0,248.0h1v1h-1z" fill="#54c06c" opacity="1.0"/>
<path d="M85.0,246.0h1v1h-1z" fill="#309ca8" opacity="1.0"/>
<path d="M86.0,246.0h1v1h-1zM92.0,246.0h1v1h-1zM90.0,247.0h1v1h-1z" fill="#48c06c" opacity="1.0"/>
<path d="M88.0,246.0h1v1h-1z" fill="#f0cc24" opacity="1.0"/>
<path d="M89.0,246.0h1v1h-1z" fill="#f06018" opacity="1.0"/>
<path d="M91.0,246.0h1v1h-1z" fill="#b4d830" opacity="1.0"/>
<path d="M85.0,247.0h1v1h-1zM87.0,248.0h1v1h-1z" fill="#3ca884" opacity="1.0"/>
<path d="M86.0,247.0h1v1h-1zM92.0,247.0h1v1h-1zM88.0,248.0h1v1h-1z" fill="#3cb484" opacity="1.0"/>
<path d="M89.0,247.0h1v1h-1z" fill="#ccd830" opacity="1.0"/>
<path d="M91.0,247.0h1v1h-1z" fill="#48c078" opacity="1.0"/>
<path d="M86.0,248.0h1v1h-1z" fill="#3c9c9c" opacity="1.0"/>
<line x1="98.50" y1="193.60" x2="98.50" y2="260.10" stroke="#4d4d4f" stroke-width="0.9" />
<line x1="73.50" y1="237.20" x2="142.00" y2="237.20" stroke="#4d4d4f" stroke-width="0.9" />
<path d="M72.60,193.60V260.40" stroke="#111" stroke-width="1.7"/>
<path d="M69.2,241.8h4.3M69.2,229.8h4.3M69.2,217.9h4.3M69.2,206.7h4.3M69.2,195.6h4.3M69.2,249.4h4.3M69.2,256.7h4.3" stroke="#000" stroke-width="1.4"/>
<path d="M70.7,238.2h2.8M70.7,236.1h2.8M70.7,234.6h2.8M70.7,233.4h2.8M70.7,232.5h2.8M70.7,231.7h2.8M70.7,231.0h2.8M70.7,230.3h2.8M70.7,226.2h2.8M70.7,224.1h2.8M70.7,222.6h2.8M70.7,221.5h2.8M70.7,220.5h2.8M70.7,219.7h2.8M70.7,219.1h2.8M70.7,218.4h2.8M70.7,214.5h2.8M70.7,212.6h2.8M70.7,211.2h2.8M70.7,210.1h2.8M70.7,209.2h2.8M70.7,208.4h2.8M70.7,207.8h2.8M70.7,207.2h2.8M70.7,203.4h2.8M70.7,201.4h2.8M70.7,200.0h2.8M70.7,198.9h2.8M70.7,198.1h2.8M70.7,197.3h2.8M70.7,196.7h2.8M70.7,196.1h2.8M70.7,248.3h2.8M70.7,247.2h2.8M70.7,246.1h2.8M70.7,245.1h2.8M70.7,244.0h2.8M70.7,242.9h2.8M70.7,251.2h2.8M70.7,253.0h2.8M70.7,254.8h2.8" stroke="#333" stroke-width="1.0"/>
<text x="64.90" y="199.00" font-size="6.7" text-anchor="end" fill="#231f20">10</text>
<text x="65.20" y="194.90" font-size="4.4" fill="#231f20">7</text>
<text x="64.90" y="244.20" font-size="6.7" text-anchor="end" fill="#231f20">10</text>
<text x="65.20" y="240.10" font-size="4.4" fill="#231f20">3</text>
<text x="66.70" y="252.00" font-size="6.7" text-anchor="end" fill="#231f20" >0</text>
<line x1="73.50" y1="260.10" x2="142.00" y2="260.10" stroke="#444" stroke-width="0.9" />
<path d="M94.5,260.1v4M85.1,260.1v4M75.9,260.1v4" stroke="#000" stroke-width="1.4"/>
<path d="M86.4,260.1v2.6M87.8,260.1v2.6M89.1,260.1v2.6M90.5,260.1v2.6M91.8,260.1v2.6M93.2,260.1v2.6M83.4,260.1v2.6M81.7,260.1v2.6M80.0,260.1v2.6M78.3,260.1v2.6M76.6,260.1v2.6" stroke="#000" stroke-width="1.0"/>
<path d="M105.5,260.1v3.6M115.8,260.1v3.6M126.5,260.1v3.6M137.3,260.1v3.6" stroke="#333" stroke-width="1.0"/>
<path d="M97.8,260.1v2.2M99.7,260.1v2.2M101.1,260.1v2.2M102.2,260.1v2.2M103.1,260.1v2.2M103.8,260.1v2.2M104.4,260.1v2.2M105.0,260.1v2.2M108.6,260.1v2.2M110.4,260.1v2.2M111.7,260.1v2.2M112.7,260.1v2.2M113.5,260.1v2.2M114.2,260.1v2.2M114.8,260.1v2.2M115.3,260.1v2.2M119.0,260.1v2.2M120.9,260.1v2.2M122.2,260.1v2.2M123.3,260.1v2.2M124.1,260.1v2.2M124.8,260.1v2.2M125.5,260.1v2.2M126.0,260.1v2.2M129.8,260.1v2.2M131.7,260.1v2.2M133.0,260.1v2.2M134.0,260.1v2.2M134.9,260.1v2.2M135.6,260.1v2.2M136.3,260.1v2.2M136.8,260.1v2.2" stroke="#777" stroke-width="0.8"/>
<text x="85.00" y="274.10" font-size="6.7" text-anchor="middle" fill="#231f20" >0</text>
<text x="101.25" y="274.10" font-size="6.7" fill="#231f20">10</text>
<text x="108.95" y="271.50" font-size="4.4" fill="#231f20">4</text>
<text x="111.90" y="274.10" font-size="6.7" fill="#231f20">10</text>
<text x="119.60" y="271.50" font-size="4.4" fill="#231f20">5</text>
<text x="133.75" y="274.10" font-size="6.7" fill="#231f20">10</text>
<text x="141.45" y="271.50" font-size="4.4" fill="#231f20">7</text>
<text x="76.50" y="202.20" font-size="5.9" text-anchor="start" fill="#231f20" >Q1</text>
<text x="137.00" y="202.20" font-size="5.9" text-anchor="end" fill="#231f20" >Q2</text>
<text x="76.50" y="214.60" font-size="5.9" text-anchor="start" fill="#231f20" >1.98</text>
<text x="137.00" y="214.60" font-size="5.9" text-anchor="end" fill="#231f20" >3.87</text>
<text x="76.50" y="245.00" font-size="5.9" text-anchor="start" fill="#231f20" >Q4</text>
<text x="137.00" y="245.00" font-size="5.9" text-anchor="end" fill="#231f20" >Q3</text>
<text x="76.50" y="259.30" font-size="5.9" text-anchor="start" fill="#231f20" >93.5</text>
<text x="137.00" y="259.30" font-size="5.9" text-anchor="end" fill="#231f20" >0.61</text>
<path d="M157.20,193.60 H225.70 V260.10" fill="none" stroke="#6d6e71" stroke-width="0.9"/>
<path d="M208.0,206.0h1v1h-1zM204.0,208.0h1v1h-1zM198.0,210.0h1v1h-1zM200.0,210.0h1v1h-1zM204.0,210.0h1v1h-1zM196.0,211.0h1v1h-1zM200.0,211.0h1v1h-1zM206.0,211.0h1v1h-1zM196.0,213.0h1v1h-1zM207.0,214.0h1v1h-1zM165.0,215.0h1v1h-1zM191.0,215.0h1v1h-1zM189.0,216.0h1v1h-1zM194.0,216.0h1v1h-1zM208.0,216.0h1v1h-1zM165.0,217.0h1v1h-1zM207.0,217.0h1v1h-1zM210.0,217.0h1v1h-1zM190.0,218.0h1v1h-1zM192.0,218.0h1v1h-1zM194.0,218.0h1v1h-1zM206.0,218.0h1v1h-1zM169.0,219.0h1v1h-1zM177.0,219.0h1v1h-1zM190.0,219.0h1v1h-1zM208.0,219.0h1v1h-1zM166.0,222.0h1v1h-1zM169.0,222.0h1v1h-1zM187.0,223.0h1v1h-1zM205.0,223.0h1v1h-1zM172.0,224.0h1v1h-1zM173.0,224.0h1v1h-1zM190.0,224.0h1v1h-1zM173.0,225.0h1v1h-1zM205.0,225.0h1v1h-1zM161.0,226.0h1v1h-1zM203.0,226.0h1v1h-1zM172.0,227.0h1v1h-1zM189.0,227.0h1v1h-1zM199.0,227.0h1v1h-1zM170.0,228.0h1v1h-1zM171.0,228.0h1v1h-1zM200.0,228.0h1v1h-1zM163.0,229.0h1v1h-1zM198.0,229.0h1v1h-1zM188.0,230.0h1v1h-1zM198.0,230.0h1v1h-1zM199.0,230.0h1v1h-1zM179.0,231.0h1v1h-1zM189.0,231.0h1v1h-1zM193.0,231.0h1v1h-1zM164.0,232.0h1v1h-1zM171.0,232.0h1v1h-1zM172.0,232.0h1v1h-1zM193.0,232.0h1v1h-1zM196.0,232.0h1v1h-1zM197.0,232.0h1v1h-1zM202.0,232.0h1v1h-1zM172.0,233.0h1v1h-1zM173.0,233.0h1v1h-1zM174.0,234.0h1v1h-1zM175.0,234.0h1v1h-1zM178.0,234.0h1v1h-1zM184.0,234.0h1v1h-1zM187.0,234.0h1v1h-1zM192.0,234.0h1v1h-1zM196.0,234.0h1v1h-1zM200.0,234.0h1v1h-1zM168.0,235.0h1v1h-1zM170.0,235.0h1v1h-1zM174.0,235.0h1v1h-1zM181.0,235.0h1v1h-1zM187.0,235.0h1v1h-1zM195.0,235.0h1v1h-1zM174.0,236.0h1v1h-1zM176.0,236.0h1v1h-1zM178.0,236.0h1v1h-1zM194.0,236.0h1v1h-1zM180.0,237.0h1v1h-1zM186.0,237.0h1v1h-1zM194.0,237.0h1v1h-1zM191.0,238.0h1v1h-1zM191.0,240.0h1v1h-1zM190.0,241.0h1v1h-1zM191.0,242.0h1v1h-1zM192.0,242.0h1v1h-1zM161.0,243.0h1v1h-1zM198.0,243.0h1v1h-1zM190.0,244.0h1v1h-1zM194.0,244.0h1v1h-1zM160.0,245.0h1v1h-1zM161.0,246.0h1v1h-1zM163.0,246.0h1v1h-1zM189.0,246.0h1v1h-1zM184.0,247.0h1v1h-1zM186.0,247.0h1v1h-1zM190.0,247.0h1v1h-1zM161.0,248.0h1v1h-1zM166.0,248.0h1v1h-1zM164.0,249.0h1v1h-1zM167.0,249.0h1v1h-1zM168.0,249.0h1v1h-1zM179.0,249.0h1v1h-1zM180.0,249.0h1v1h-1zM188.0,249.0h1v1h-1zM168.0,250.0h1v1h-1zM172.0,250.0h1v1h-1zM173.0,250.0h1v1h-1zM175.0,253.0h1v1h-1z" fill="#4854c0" opacity="0.72"/>
<path d="M203.0,210.0h1v1h-1zM205.0,213.0h1v1h-1zM206.0,213.0h1v1h-1zM206.0,214.0h1v1h-1zM194.0,215.0h1v1h-1zM205.0,216.0h1v1h-1zM188.0,225.0h1v1h-1zM189.0,225.0h1v1h-1zM189.0,230.0h1v1h-1zM191.0,234.0h1v1h-1zM190.0,235.0h1v1h-1zM184.0,238.0h1v1h-1zM186.0,245.0h1v1h-1zM189.0,245.0h1v1h-1zM180.0,248.0h1v1h-1zM170.0,249.0h1v1h-1z" fill="#3c54c0" opacity="0.72"/>
<path d="M203.0,211.0h1v1h-1zM202.0,212.0h1v1h-1zM199.0,213.0h1v1h-1zM202.0,213.0h1v1h-1zM203.0,213.0h1v1h-1zM203.0,214.0h1v1h-1zM198.0,215.0h1v1h-1zM202.0,215.0h1v1h-1zM203.0,215.0h1v1h-1zM204.0,215.0h1v1h-1zM200.0,216.0h1v1h-1zM196.0,217.0h1v1h-1zM197.0,217.0h1v1h-1zM202.0,217.0h1v1h-1zM203.0,217.0h1v1h-1zM195.0,218.0h1v1h-1zM199.0,218.0h1v1h-1zM201.0,218.0h1v1h-1zM202.0,218.0h1v1h-1zM193.0,219.0h1v1h-1zM202.0,219.0h1v1h-1zM193.0,220.0h1v1h-1zM194.0,220.0h1v1h-1zM204.0,220.0h1v1h-1zM191.0,221.0h1v1h-1zM192.0,221.0h1v1h-1zM202.0,221.0h1v1h-1zM193.0,222.0h1v1h-1zM204.0,223.0h1v1h-1zM203.0,224.0h1v1h-1zM189.0,226.0h1v1h-1zM190.0,226.0h1v1h-1zM192.0,226.0h1v1h-1zM194.0,226.0h1v1h-1zM200.0,226.0h1v1h-1zM191.0,227.0h1v1h-1zM195.0,227.0h1v1h-1zM191.0,228.0h1v1h-1zM192.0,228.0h1v1h-1zM193.0,228.0h1v1h-1zM196.0,228.0h1v1h-1zM192.0,229.0h1v1h-1zM193.0,229.0h1v1h-1zM194.0,229.0h1v1h-1zM192.0,230.0h1v1h-1zM195.0,230.0h1v1h-1zM184.0,235.0h1v1h-1zM191.0,235.0h1v1h-1zM190.0,236.0h1v1h-1zM184.0,237.0h1v1h-1zM171.0,239.0h1v1h-1zM173.0,239.0h1v1h-1zM174.0,239.0h1v1h-1zM184.0,239.0h1v1h-1zM167.0,240.0h1v1h-1zM168.0,240.0h1v1h-1zM184.0,240.0h1v1h-1zM185.0,240.0h1v1h-1zM187.0,240.0h1v1h-1zM188.0,240.0h1v1h-1zM165.0,241.0h1v1h-1zM166.0,241.0h1v1h-1zM186.0,241.0h1v1h-1zM187.0,241.0h1v1h-1zM188.0,243.0h1v1h-1zM164.0,244.0h1v1h-1zM183.0,244.0h1v1h-1zM184.0,244.0h1v1h-1zM186.0,244.0h1v1h-1zM164.0,245.0h1v1h-1zM182.0,245.0h1v1h-1zM164.0,246.0h1v1h-1zM181.0,246.0h1v1h-1zM166.0,247.0h1v1h-1zM179.0,247.0h1v1h-1zM171.0,248.0h1v1h-1zM173.0,248.0h1v1h-1zM175.0,248.0h1v1h-1zM176.0,248.0h1v1h-1zM177.0,248.0h1v1h-1z" fill="#3c60cc" opacity="0.72"/>
<path d="M199.0,212.0h1v1h-1zM203.0,212.0h1v1h-1zM198.0,213.0h1v1h-1zM201.0,213.0h1v1h-1zM197.0,214.0h1v1h-1zM199.0,214.0h1v1h-1zM200.0,214.0h1v1h-1zM202.0,214.0h1v1h-1zM204.0,214.0h1v1h-1zM197.0,215.0h1v1h-1zM199.0,215.0h1v1h-1zM200.0,215.0h1v1h-1zM197.0,216.0h1v1h-1zM198.0,216.0h1v1h-1zM202.0,216.0h1v1h-1zM203.0,216.0h1v1h-1zM204.0,216.0h1v1h-1zM199.0,217.0h1v1h-1zM201.0,217.0h1v1h-1zM203.0,218.0h1v1h-1zM203.0,219.0h1v1h-1zM204.0,219.0h1v1h-1zM205.0,219.0h1v1h-1zM202.0,220.0h1v1h-1zM203.0,220.0h1v1h-1zM205.0,220.0h1v1h-1zM193.0,221.0h1v1h-1zM204.0,221.0h1v1h-1zM194.0,222.0h1v1h-1zM203.0,222.0h1v1h-1zM204.0,222.0h1v1h-1zM203.0,223.0h1v1h-1zM200.0,225.0h1v1h-1zM202.0,225.0h1v1h-1zM191.0,226.0h1v1h-1zM193.0,226.0h1v1h-1zM197.0,226.0h1v1h-1zM198.0,226.0h1v1h-1zM201.0,226.0h1v1h-1zM192.0,227.0h1v1h-1zM195.0,228.0h1v1h-1zM197.0,228.0h1v1h-1zM191.0,229.0h1v1h-1zM195.0,229.0h1v1h-1zM191.0,230.0h1v1h-1zM195.0,231.0h1v1h-1zM183.0,235.0h1v1h-1zM183.0,236.0h1v1h-1zM184.0,236.0h1v1h-1zM191.0,236.0h1v1h-1zM175.0,238.0h1v1h-1zM177.0,238.0h1v1h-1zM178.0,238.0h1v1h-1zM170.0,239.0h1v1h-1zM172.0,239.0h1v1h-1zM176.0,239.0h1v1h-1zM178.0,239.0h1v1h-1zM183.0,239.0h1v1h-1zM169.0,240.0h1v1h-1zM186.0,240.0h1v1h-1zM165.0,242.0h1v1h-1zM184.0,242.0h1v1h-1zM185.0,242.0h1v1h-1zM186.0,242.0h1v1h-1zM187.0,242.0h1v1h-1zM164.0,243.0h1v1h-1zM189.0,243.0h1v1h-1zM165.0,244.0h1v1h-1zM182.0,244.0h1v1h-1zM188.0,244.0h1v1h-1zM183.0,245.0h1v1h-1zM165.0,246.0h1v1h-1zM166.0,246.0h1v1h-1zM182.0,246.0h1v1h-1zM178.0,247.0h1v1h-1zM181.0,247.0h1v1h-1zM170.0,248.0h1v1h-1zM172.0,248.0h1v1h-1zM174.0,248.0h1v1h-1z" fill="#3c60cc" opacity="0.88"/>
<path d="M201.0,212.0h1v1h-1zM195.0,215.0h1v1h-1zM196.0,215.0h1v1h-1zM195.0,216.0h1v1h-1zM192.0,219.0h1v1h-1zM191.0,220.0h1v1h-1zM192.0,220.0h1v1h-1zM190.0,221.0h1v1h-1zM191.0,222.0h1v1h-1zM188.0,226.0h1v1h-1zM196.0,229.0h1v1h-1zM194.0,231.0h1v1h-1zM189.0,236.0h1v1h-1zM176.0,237.0h1v1h-1zM188.0,237.0h1v1h-1zM190.0,237.0h1v1h-1zM191.0,237.0h1v1h-1zM173.0,238.0h1v1h-1zM187.0,239.0h1v1h-1zM188.0,239.0h1v1h-1zM166.0,240.0h1v1h-1zM186.0,243.0h1v1h-1zM187.0,245.0h1v1h-1zM183.0,246.0h1v1h-1z" fill="#3c54cc" opacity="0.72"/>
<path d="M200.0,217.0h1v1h-1zM198.0,218.0h1v1h-1zM195.0,221.0h1v1h-1zM195.0,222.0h1v1h-1zM192.0,224.0h1v1h-1zM202.0,224.0h1v1h-1zM198.0,225.0h1v1h-1zM196.0,227.0h1v1h-1zM180.0,239.0h1v1h-1zM167.0,241.0h1v1h-1zM165.0,243.0h1v1h-1z" fill="#3060cc" opacity="0.88"/>
<path d="M197.0,218.0h1v1h-1zM200.0,218.0h1v1h-1zM195.0,219.0h1v1h-1zM198.0,219.0h1v1h-1zM200.0,219.0h1v1h-1zM201.0,219.0h1v1h-1zM197.0,220.0h1v1h-1zM198.0,220.0h1v1h-1zM199.0,220.0h1v1h-1zM194.0,221.0h1v1h-1zM196.0,221.0h1v1h-1zM197.0,221.0h1v1h-1zM198.0,221.0h1v1h-1zM200.0,221.0h1v1h-1zM201.0,221.0h1v1h-1zM196.0,222.0h1v1h-1zM200.0,222.0h1v1h-1zM201.0,222.0h1v1h-1zM193.0,223.0h1v1h-1zM194.0,223.0h1v1h-1zM195.0,223.0h1v1h-1zM196.0,223.0h1v1h-1zM197.0,223.0h1v1h-1zM199.0,223.0h1v1h-1zM200.0,223.0h1v1h-1zM201.0,223.0h1v1h-1zM193.0,224.0h1v1h-1zM194.0,224.0h1v1h-1zM195.0,224.0h1v1h-1zM197.0,224.0h1v1h-1zM198.0,224.0h1v1h-1zM201.0,224.0h1v1h-1zM193.0,225.0h1v1h-1zM194.0,225.0h1v1h-1zM197.0,225.0h1v1h-1zM201.0,225.0h1v1h-1zM194.0,228.0h1v1h-1zM175.0,239.0h1v1h-1zM177.0,239.0h1v1h-1zM181.0,239.0h1v1h-1zM182.0,239.0h1v1h-1zM177.0,240.0h1v1h-1zM179.0,240.0h1v1h-1zM181.0,240.0h1v1h-1zM182.0,242.0h1v1h-1zM183.0,242.0h1v1h-1zM183.0,243.0h1v1h-1zM165.0,245.0h1v1h-1zM179.0,246.0h1v1h-1zM180.0,246.0h1v1h-1zM175.0,247.0h1v1h-1zM176.0,247.0h1v1h-1z" fill="#306ccc" opacity="0.88"/>
<path d="M196.0,219.0h1v1h-1zM197.0,219.0h1v1h-1zM199.0,219.0h1v1h-1zM195.0,220.0h1v1h-1zM200.0,220.0h1v1h-1zM201.0,220.0h1v1h-1zM199.0,221.0h1v1h-1zM198.0,223.0h1v1h-1zM196.0,224.0h1v1h-1zM195.0,225.0h1v1h-1zM196.0,225.0h1v1h-1zM195.0,226.0h1v1h-1zM170.0,240.0h1v1h-1zM178.0,240.0h1v1h-1zM180.0,240.0h1v1h-1zM183.0,241.0h1v1h-1zM184.0,241.0h1v1h-1zM167.0,242.0h1v1h-1zM182.0,243.0h1v1h-1zM180.0,245.0h1v1h-1zM167.0,246.0h1v1h-1zM177.0,247.0h1v1h-1z" fill="#306cd8" opacity="0.88"/>
<path d="M196.0,220.0h1v1h-1zM196.0,226.0h1v1h-1zM171.0,240.0h1v1h-1zM183.0,240.0h1v1h-1zM182.0,241.0h1v1h-1zM166.0,243.0h1v1h-1zM166.0,245.0h1v1h-1zM179.0,245.0h1v1h-1z" fill="#3078d8" opacity="0.88"/>
<path d="M190.0,222.0h1v1h-1zM188.0,236.0h1v1h-1zM188.0,238.0h1v1h-1zM188.0,241.0h1v1h-1zM163.0,242.0h1v1h-1zM185.0,244.0h1v1h-1z" fill="#3c54cc" opacity="0.88"/>
<path d="M197.0,222.0h1v1h-1zM199.0,222.0h1v1h-1zM168.0,241.0h1v1h-1zM177.0,241.0h1v1h-1zM178.0,241.0h1v1h-1zM180.0,241.0h1v1h-1zM181.0,241.0h1v1h-1zM178.0,243.0h1v1h-1zM179.0,243.0h1v1h-1zM166.0,244.0h1v1h-1zM181.0,244.0h1v1h-1zM178.0,246.0h1v1h-1zM169.0,247.0h1v1h-1zM172.0,247.0h1v1h-1zM174.0,247.0h1v1h-1z" fill="#3078cc" opacity="0.88"/>
<path d="M198.0,222.0h1v1h-1zM182.0,240.0h1v1h-1zM181.0,242.0h1v1h-1zM170.0,247.0h1v1h-1zM171.0,247.0h1v1h-1z" fill="#3084c0" opacity="0.88"/>
<path d="M172.0,240.0h1v1h-1zM181.0,243.0h1v1h-1z" fill="#3084b4" opacity="1.0"/>
<path d="M173.0,240.0h1v1h-1zM178.0,242.0h1v1h-1zM180.0,242.0h1v1h-1zM167.0,243.0h1v1h-1zM175.0,246.0h1v1h-1z" fill="#3090a8" opacity="1.0"/>
<path d="M174.0,240.0h1v1h-1zM169.0,241.0h1v1h-1zM179.0,241.0h1v1h-1zM179.0,242.0h1v1h-1zM179.0,244.0h1v1h-1zM173.0,247.0h1v1h-1z" fill="#3084c0" opacity="1.0"/>
<path d="M175.0,240.0h1v1h-1zM168.0,246.0h1v1h-1zM169.0,246.0h1v1h-1z" fill="#309ca8" opacity="1.0"/>
<path d="M170.0,241.0h1v1h-1zM169.0,242.0h1v1h-1zM167.0,245.0h1v1h-1zM169.0,245.0h1v1h-1zM178.0,245.0h1v1h-1z" fill="#3ca890" opacity="1.0"/>
<path d="M171.0,241.0h1v1h-1zM176.0,244.0h1v1h-1zM168.0,245.0h1v1h-1z" fill="#60c060" opacity="1.0"/>
<path d="M172.0,241.0h1v1h-1zM176.0,242.0h1v1h-1z" fill="#48c078" opacity="1.0"/>
<path d="M173.0,241.0h1v1h-1zM174.0,241.0h1v1h-1zM178.0,244.0h1v1h-1z" fill="#3ca884" opacity="1.0"/>
<path d="M175.0,241.0h1v1h-1z" fill="#3cc078" opacity="1.0"/>
<path d="M176.0,241.0h1v1h-1zM168.0,242.0h1v1h-1zM177.0,242.0h1v1h-1zM180.0,244.0h1v1h-1zM176.0,246.0h1v1h-1zM177.0,246.0h1v1h-1z" fill="#3090b4" opacity="1.0"/>
<path d="M170.0,242.0h1v1h-1zM175.0,242.0h1v1h-1zM171.0,244.0h1v1h-1z" fill="#9ccc3c" opacity="1.0"/>
<path d="M171.0,242.0h1v1h-1zM175.0,243.0h1v1h-1z" fill="#f0b424" opacity="1.0"/>
<path d="M172.0,242.0h1v1h-1zM174.0,242.0h1v1h-1zM169.0,244.0h1v1h-1zM173.0,246.0h1v1h-1z" fill="#b4d830" opacity="1.0"/>
<path d="M173.0,242.0h1v1h-1zM168.0,243.0h1v1h-1z" fill="#3cb478" opacity="1.0"/>
<path d="M169.0,243.0h1v1h-1z" fill="#c0d830" opacity="1.0"/>
<path d="M170.0,243.0h1v1h-1z" fill="#ccd830" opacity="1.0"/>
<path d="M171.0,243.0h1v1h-1zM175.0,244.0h1v1h-1z" fill="#f0cc24" opacity="1.0"/>
<path d="M172.0,243.0h1v1h-1zM171.0,245.0h1v1h-1z" fill="#d8d830" opacity="1.0"/>
<path d="M173.0,243.0h1v1h-1zM175.0,245.0h1v1h-1zM171.0,246.0h1v1h-1z" fill="#a8cc3c" opacity="1.0"/>
<path d="M174.0,243.0h1v1h-1zM172.0,244.0h1v1h-1zM173.0,245.0h1v1h-1z" fill="#f09c24" opacity="1.0"/>
<path d="M176.0,243.0h1v1h-1zM170.0,245.0h1v1h-1z" fill="#78c054" opacity="1.0"/>
<path d="M177.0,243.0h1v1h-1zM176.0,245.0h1v1h-1zM177.0,245.0h1v1h-1z" fill="#3cb484" opacity="1.0"/>
<path d="M180.0,243.0h1v1h-1z" fill="#3078c0" opacity="0.88"/>
<path d="M167.0,244.0h1v1h-1zM177.0,244.0h1v1h-1zM174.0,246.0h1v1h-1z" fill="#48c06c" opacity="1.0"/>
<path d="M168.0,244.0h1v1h-1zM170.0,244.0h1v1h-1zM172.0,246.0h1v1h-1z" fill="#84cc48" opacity="1.0"/>
<path d="M173.0,244.0h1v1h-1zM174.0,244.0h1v1h-1z" fill="#e42418" opacity="1.0"/>
<path d="M172.0,245.0h1v1h-1z" fill="#f08418" opacity="1.0"/>
<path d="M174.0,245.0h1v1h-1z" fill="#78cc48" opacity="1.0"/>
<path d="M170.0,246.0h1v1h-1z" fill="#54c06c" opacity="1.0"/>
<line x1="182.20" y1="193.60" x2="182.20" y2="260.10" stroke="#4d4d4f" stroke-width="0.9" />
<line x1="157.20" y1="237.20" x2="225.70" y2="237.20" stroke="#4d4d4f" stroke-width="0.9" />
<path d="M156.30,193.60V260.40" stroke="#111" stroke-width="1.7"/>
<path d="M152.9,241.8h4.3M152.9,229.8h4.3M152.9,217.9h4.3M152.9,206.7h4.3M152.9,195.6h4.3M152.9,249.4h4.3M152.9,256.7h4.3" stroke="#000" stroke-width="1.4"/>
<path d="M154.4,238.2h2.8M154.4,236.1h2.8M154.4,234.6h2.8M154.4,233.4h2.8M154.4,232.5h2.8M154.4,231.7h2.8M154.4,231.0h2.8M154.4,230.3h2.8M154.4,226.2h2.8M154.4,224.1h2.8M154.4,222.6h2.8M154.4,221.5h2.8M154.4,220.5h2.8M154.4,219.7h2.8M154.4,219.1h2.8M154.4,218.4h2.8M154.4,214.5h2.8M154.4,212.6h2.8M154.4,211.2h2.8M154.4,210.1h2.8M154.4,209.2h2.8M154.4,208.4h2.8M154.4,207.8h2.8M154.4,207.2h2.8M154.4,203.4h2.8M154.4,201.4h2.8M154.4,200.0h2.8M154.4,198.9h2.8M154.4,198.1h2.8M154.4,197.3h2.8M154.4,196.7h2.8M154.4,196.1h2.8M154.4,248.3h2.8M154.4,247.2h2.8M154.4,246.1h2.8M154.4,245.1h2.8M154.4,244.0h2.8M154.4,242.9h2.8M154.4,251.2h2.8M154.4,253.0h2.8M154.4,254.8h2.8" stroke="#333" stroke-width="1.0"/>
<line x1="157.20" y1="260.10" x2="225.70" y2="260.10" stroke="#444" stroke-width="0.9" />
<path d="M178.2,260.1v4M168.8,260.1v4M159.6,260.1v4" stroke="#000" stroke-width="1.4"/>
<path d="M170.1,260.1v2.6M171.5,260.1v2.6M172.8,260.1v2.6M174.2,260.1v2.6M175.5,260.1v2.6M176.9,260.1v2.6M167.1,260.1v2.6M165.4,260.1v2.6M163.7,260.1v2.6M162.0,260.1v2.6M160.3,260.1v2.6" stroke="#000" stroke-width="1.0"/>
<path d="M189.2,260.1v3.6M199.5,260.1v3.6M210.2,260.1v3.6M221.0,260.1v3.6" stroke="#333" stroke-width="1.0"/>
<path d="M181.5,260.1v2.2M183.4,260.1v2.2M184.8,260.1v2.2M185.9,260.1v2.2M186.8,260.1v2.2M187.5,260.1v2.2M188.1,260.1v2.2M188.7,260.1v2.2M192.3,260.1v2.2M194.1,260.1v2.2M195.4,260.1v2.2M196.4,260.1v2.2M197.2,260.1v2.2M197.9,260.1v2.2M198.5,260.1v2.2M199.0,260.1v2.2M202.7,260.1v2.2M204.6,260.1v2.2M205.9,260.1v2.2M207.0,260.1v2.2M207.8,260.1v2.2M208.5,260.1v2.2M209.2,260.1v2.2M209.7,260.1v2.2M213.5,260.1v2.2M215.4,260.1v2.2M216.7,260.1v2.2M217.7,260.1v2.2M218.6,260.1v2.2M219.3,260.1v2.2M220.0,260.1v2.2M220.5,260.1v2.2" stroke="#777" stroke-width="0.8"/>
<text x="168.70" y="274.10" font-size="6.7" text-anchor="middle" fill="#231f20" >0</text>
<text x="184.95" y="274.10" font-size="6.7" fill="#231f20">10</text>
<text x="192.65" y="271.50" font-size="4.4" fill="#231f20">4</text>
<text x="195.60" y="274.10" font-size="6.7" fill="#231f20">10</text>
<text x="203.30" y="271.50" font-size="4.4" fill="#231f20">5</text>
<text x="217.45" y="274.10" font-size="6.7" fill="#231f20">10</text>
<text x="225.15" y="271.50" font-size="4.4" fill="#231f20">7</text>
<text x="160.20" y="202.20" font-size="5.9" text-anchor="start" fill="#231f20" >Q1</text>
<text x="220.70" y="202.20" font-size="5.9" text-anchor="end" fill="#231f20" >Q2</text>
<text x="160.20" y="214.60" font-size="5.9" text-anchor="start" fill="#231f20" >1.23</text>
<text x="220.70" y="214.60" font-size="5.9" text-anchor="end" fill="#231f20" >29.0</text>
<text x="160.20" y="245.00" font-size="5.9" text-anchor="start" fill="#231f20" >Q4</text>
<text x="220.70" y="245.00" font-size="5.9" text-anchor="end" fill="#231f20" >Q3</text>
<text x="160.20" y="259.30" font-size="5.9" text-anchor="start" fill="#231f20" >60.5</text>
<text x="220.70" y="259.30" font-size="5.9" text-anchor="end" fill="#231f20" >9.27</text>
<text x="0" y="0" font-size="8.3" text-anchor="middle" fill="#231f20" transform="translate(28.30,75.40) rotate(-90)" >CALR WT</text>
<text x="0" y="0" font-size="8.4" text-anchor="middle" fill="#231f20" transform="translate(42.60,75.40) rotate(-90)" lengthAdjust="spacingAndGlyphs" textLength="52.6">+50 ng/ml IL3</text>
<text x="0" y="0" font-size="8.4" text-anchor="middle" fill="#231f20" transform="translate(28.60,147.60) rotate(-90)" lengthAdjust="spacingAndGlyphs" textLength="69.2">CALR del37/del37</text>
<text x="0" y="0" font-size="8.4" text-anchor="middle" fill="#231f20" transform="translate(43.00,147.60) rotate(-90)" lengthAdjust="spacingAndGlyphs" textLength="43.7">no cytokine</text>
<text x="0" y="0" font-size="8.4" text-anchor="middle" fill="#231f20" transform="translate(28.60,227.90) rotate(-90)" lengthAdjust="spacingAndGlyphs" textLength="69.5">CALR del37/del37</text>
<text x="0" y="0" font-size="8.4" text-anchor="middle" fill="#231f20" transform="translate(43.00,227.90) rotate(-90)" lengthAdjust="spacingAndGlyphs" textLength="53.2">+50 ng/ml IL3</text>
<path d="M54.6,281 V254 M54.6,281 H86" stroke="#000" stroke-width="1" fill="none"/>
<path d="M54.6,251.3 L52.5,256.3 L56.7,256.3 Z" fill="#000"/>
<path d="M88.8,281 L83.8,278.9 L83.8,283.1 Z" fill="#000"/>
<text x="47.90" y="268.80" font-size="8.6" text-anchor="middle" fill="#231f20" textLength="6.3" lengthAdjust="spacingAndGlyphs">PI</text>
<text x="72.80" y="292.50" font-size="8.9" text-anchor="middle" fill="#231f20" textLength="36.4" lengthAdjust="spacingAndGlyphs">Annexin V</text>
<line x1="319.70" y1="69.20" x2="319.70" y2="217.60" stroke="#000" stroke-width="1.1" />
<line x1="319.70" y1="217.60" x2="512.30" y2="217.60" stroke="#000" stroke-width="1.1" />
<line x1="316.90" y1="217.60" x2="319.70" y2="217.60" stroke="#000" stroke-width="0.9" />
<text x="312.90" y="220.00" font-size="8.1" text-anchor="end" fill="#231f20" >0</text>
<line x1="316.90" y1="188.56" x2="319.70" y2="188.56" stroke="#000" stroke-width="0.9" />
<text x="312.90" y="190.96" font-size="8.1" text-anchor="end" fill="#231f20" >20</text>
<line x1="316.90" y1="159.52" x2="319.70" y2="159.52" stroke="#000" stroke-width="0.9" />
<text x="312.90" y="161.92" font-size="8.1" text-anchor="end" fill="#231f20" >40</text>
<line x1="316.90" y1="130.48" x2="319.70" y2="130.48" stroke="#000" stroke-width="0.9" />
<text x="312.90" y="132.88" font-size="8.1" text-anchor="end" fill="#231f20" >60</text>
<line x1="316.90" y1="101.44" x2="319.70" y2="101.44" stroke="#000" stroke-width="0.9" />
<text x="312.90" y="103.84" font-size="8.1" text-anchor="end" fill="#231f20" >80</text>
<line x1="316.90" y1="72.40" x2="319.70" y2="72.40" stroke="#000" stroke-width="0.9" />
<text x="312.90" y="74.80" font-size="8.1" text-anchor="end" fill="#231f20" >100</text>
<text x="0" y="0" font-size="9.6" text-anchor="middle" fill="#231f20" transform="translate(293.0,143.3) rotate(-90)" textLength="56.8" lengthAdjust="spacingAndGlyphs">Annexin V+ [%]</text>
<line x1="326.70" y1="215.28" x2="326.70" y2="216.44" stroke="#3a3a3a" stroke-width="1.2" />
<line x1="324.80" y1="215.78" x2="328.60" y2="215.78" stroke="#111" stroke-width="1.2" />
<rect x="323.80" y="216.44" width="5.80" height="1.16" fill="#234a8a" stroke="none" stroke-width="0" />
<line x1="326.70" y1="217.60" x2="326.70" y2="220.40" stroke="#000" stroke-width="0.9" />
<line x1="337.10" y1="205.11" x2="337.10" y2="211.36" stroke="#3a3a3a" stroke-width="1.2" />
<line x1="335.20" y1="205.61" x2="339.00" y2="205.61" stroke="#111" stroke-width="1.2" />
<rect x="334.20" y="211.36" width="5.80" height="6.24" fill="#a8062e" stroke="none" stroke-width="0" />
<line x1="337.10" y1="217.60" x2="337.10" y2="220.40" stroke="#000" stroke-width="0.9" />
<line x1="354.50" y1="205.98" x2="354.50" y2="211.36" stroke="#3a3a3a" stroke-width="1.2" />
<line x1="352.60" y1="206.48" x2="356.40" y2="206.48" stroke="#111" stroke-width="1.2" />
<rect x="351.60" y="211.36" width="5.80" height="6.24" fill="#234a8a" stroke="none" stroke-width="0" />
<line x1="354.50" y1="217.60" x2="354.50" y2="220.40" stroke="#000" stroke-width="0.9" />
<line x1="364.93" y1="193.64" x2="364.93" y2="202.50" stroke="#3a3a3a" stroke-width="1.2" />
<line x1="363.03" y1="194.14" x2="366.83" y2="194.14" stroke="#111" stroke-width="1.2" />
<rect x="362.03" y="202.50" width="5.80" height="15.10" fill="#a8062e" stroke="none" stroke-width="0" />
<line x1="364.93" y1="217.60" x2="364.93" y2="220.40" stroke="#000" stroke-width="0.9" />
<line x1="382.30" y1="215.28" x2="382.30" y2="216.87" stroke="#3a3a3a" stroke-width="1.2" />
<line x1="380.40" y1="215.78" x2="384.20" y2="215.78" stroke="#111" stroke-width="1.2" />
<rect x="379.40" y="216.87" width="5.80" height="0.73" fill="#234a8a" stroke="none" stroke-width="0" />
<line x1="382.30" y1="217.60" x2="382.30" y2="220.40" stroke="#000" stroke-width="0.9" />
<line x1="392.76" y1="160.39" x2="392.76" y2="184.20" stroke="#3a3a3a" stroke-width="1.2" />
<line x1="390.86" y1="160.89" x2="394.66" y2="160.89" stroke="#111" stroke-width="1.2" />
<rect x="389.86" y="184.20" width="5.80" height="33.40" fill="#a8062e" stroke="none" stroke-width="0" />
<line x1="392.76" y1="217.60" x2="392.76" y2="220.40" stroke="#000" stroke-width="0.9" />
<line x1="410.10" y1="211.79" x2="410.10" y2="214.99" stroke="#3a3a3a" stroke-width="1.2" />
<line x1="408.20" y1="212.29" x2="412.00" y2="212.29" stroke="#111" stroke-width="1.2" />
<rect x="407.20" y="214.99" width="5.80" height="2.61" fill="#234a8a" stroke="none" stroke-width="0" />
<line x1="410.10" y1="217.60" x2="410.10" y2="220.40" stroke="#000" stroke-width="0.9" />
<line x1="420.59" y1="100.71" x2="420.59" y2="119.88" stroke="#3a3a3a" stroke-width="1.2" />
<line x1="418.69" y1="101.21" x2="422.49" y2="101.21" stroke="#111" stroke-width="1.2" />
<rect x="417.69" y="119.88" width="5.80" height="97.72" fill="#a8062e" stroke="none" stroke-width="0" />
<line x1="420.59" y1="217.60" x2="420.59" y2="220.40" stroke="#000" stroke-width="0.9" />
<line x1="437.90" y1="213.97" x2="437.90" y2="216.73" stroke="#3a3a3a" stroke-width="1.2" />
<line x1="436.00" y1="214.47" x2="439.80" y2="214.47" stroke="#111" stroke-width="1.2" />
<rect x="435.00" y="216.73" width="5.80" height="0.87" fill="#234a8a" stroke="none" stroke-width="0" />
<line x1="437.90" y1="217.60" x2="437.90" y2="220.40" stroke="#000" stroke-width="0.9" />
<line x1="448.42" y1="134.84" x2="448.42" y2="150.81" stroke="#3a3a3a" stroke-width="1.2" />
<line x1="446.52" y1="135.34" x2="450.32" y2="135.34" stroke="#111" stroke-width="1.2" />
<rect x="445.52" y="150.81" width="5.80" height="66.79" fill="#a8062e" stroke="none" stroke-width="0" />
<line x1="448.42" y1="217.60" x2="448.42" y2="220.40" stroke="#000" stroke-width="0.9" />
<line x1="465.70" y1="210.49" x2="465.70" y2="212.08" stroke="#3a3a3a" stroke-width="1.2" />
<line x1="463.80" y1="210.99" x2="467.60" y2="210.99" stroke="#111" stroke-width="1.2" />
<rect x="462.80" y="212.08" width="5.80" height="5.52" fill="#234a8a" stroke="none" stroke-width="0" />
<line x1="465.70" y1="217.60" x2="465.70" y2="220.40" stroke="#000" stroke-width="0.9" />
<line x1="476.25" y1="152.99" x2="476.25" y2="168.52" stroke="#3a3a3a" stroke-width="1.2" />
<line x1="474.35" y1="153.49" x2="478.15" y2="153.49" stroke="#111" stroke-width="1.2" />
<rect x="473.35" y="168.52" width="5.80" height="49.08" fill="#a8062e" stroke="none" stroke-width="0" />
<line x1="476.25" y1="217.60" x2="476.25" y2="220.40" stroke="#000" stroke-width="0.9" />
<line x1="493.50" y1="214.70" x2="493.50" y2="216.87" stroke="#3a3a3a" stroke-width="1.2" />
<line x1="491.60" y1="215.20" x2="495.40" y2="215.20" stroke="#111" stroke-width="1.2" />
<rect x="490.60" y="216.87" width="5.80" height="0.73" fill="#234a8a" stroke="none" stroke-width="0" />
<line x1="493.50" y1="217.60" x2="493.50" y2="220.40" stroke="#000" stroke-width="0.9" />
<line x1="504.08" y1="104.34" x2="504.08" y2="137.30" stroke="#3a3a3a" stroke-width="1.2" />
<line x1="502.18" y1="104.84" x2="505.98" y2="104.84" stroke="#111" stroke-width="1.2" />
<rect x="501.18" y="137.30" width="5.80" height="80.30" fill="#a8062e" stroke="none" stroke-width="0" />
<line x1="504.08" y1="217.60" x2="504.08" y2="220.40" stroke="#000" stroke-width="0.9" />
<path d="M392.7,144.4 V68.6 H421.3 V74.7" fill="none" stroke="#333" stroke-width="1.1"/>
<path d="M420.3,91.2 V76.9 H476 V145.4" fill="none" stroke="#333" stroke-width="1.1"/>
<circle cx="401.5" cy="64.6" r="1.05" fill="#231f20"/>
<circle cx="405.1" cy="64.6" r="1.05" fill="#231f20"/>
<circle cx="408.7" cy="64.6" r="1.05" fill="#231f20"/>
<circle cx="412.3" cy="64.6" r="1.05" fill="#231f20"/>
<circle cx="442.3" cy="72.9" r="1.05" fill="#231f20"/>
<circle cx="445.9" cy="72.9" r="1.05" fill="#231f20"/>
<circle cx="449.5" cy="72.9" r="1.05" fill="#231f20"/>
<circle cx="453.1" cy="72.9" r="1.05" fill="#231f20"/>
<rect x="406.00" y="23.70" width="12.00" height="6.30" fill="#234a8a" stroke="none" stroke-width="0" />
<rect x="406.00" y="35.90" width="12.00" height="6.30" fill="#a8062e" stroke="none" stroke-width="0" />
<text x="420.80" y="30.10" font-size="8.7" text-anchor="start" fill="#231f20" >DMSO</text>
<text x="420.80" y="42.30" font-size="8.7" text-anchor="start" fill="#231f20" textLength="70.8" lengthAdjust="spacingAndGlyphs">Hematoxylin 20 µM</text>
<rect x="322.90" y="223.80" width="189.10" height="24.20" fill="none" stroke="#231f20" stroke-width="1.0" />
<text x="312.60" y="233.50" font-size="8.7" text-anchor="end" fill="#231f20" >mIL-3 ng/ml</text>
<text x="312.60" y="246.50" font-size="8.7" text-anchor="end" fill="#231f20" >hTPO ng/ml</text>
<text x="332.00" y="233.50" font-size="8.7" text-anchor="middle" fill="#231f20" >10</text>
<text x="332.00" y="246.50" font-size="8.7" text-anchor="middle" fill="#231f20" >0</text>
<text x="359.77" y="233.50" font-size="8.7" text-anchor="middle" fill="#231f20" >50</text>
<text x="359.77" y="246.50" font-size="8.7" text-anchor="middle" fill="#231f20" >0</text>
<text x="387.54" y="233.50" font-size="8.7" text-anchor="middle" fill="#231f20" >0</text>
<text x="387.54" y="246.50" font-size="8.7" text-anchor="middle" fill="#231f20" >10</text>
<text x="415.31" y="233.50" font-size="8.7" text-anchor="middle" fill="#231f20" >0</text>
<text x="415.31" y="246.50" font-size="8.7" text-anchor="middle" fill="#231f20" >0</text>
<text x="443.08" y="233.50" font-size="8.7" text-anchor="middle" fill="#231f20" >10</text>
<text x="443.08" y="246.50" font-size="8.7" text-anchor="middle" fill="#231f20" >0</text>
<text x="470.85" y="233.50" font-size="8.7" text-anchor="middle" fill="#231f20" >50</text>
<text x="470.85" y="246.50" font-size="8.7" text-anchor="middle" fill="#231f20" >0</text>
<text x="498.62" y="233.50" font-size="8.7" text-anchor="middle" fill="#231f20" >0</text>
<text x="498.62" y="246.50" font-size="8.7" text-anchor="middle" fill="#231f20" >10</text>
<line x1="325.00" y1="252.80" x2="397.50" y2="252.80" stroke="#58595b" stroke-width="1.8" />
<line x1="407.80" y1="252.80" x2="512.00" y2="252.80" stroke="#58595b" stroke-width="1.8" />
<text x="361.50" y="263.50" font-size="8.9" text-anchor="middle" fill="#231f20" >CALR WT</text>
<text x="459.50" y="263.50" font-size="8.9" text-anchor="middle" fill="#231f20" >CALR del37/del37</text>
<defs><filter id="nz" filterUnits="objectBoundingBox" x="0" y="0" width="1" height="1"><feTurbulence type="fractalNoise" baseFrequency="0.9" numOctaves="1" seed="3" result="t"/><feColorMatrix type="matrix" values="0 0 0 0 0  0 0 0 0 0  0 0 0 0 0  0 0 0 0.06 0" in="t" result="n"/><feComposite in="n" in2="SourceGraphic" operator="in" result="m"/><feMerge><feMergeNode in="SourceGraphic"/><feMergeNode in="m"/></feMerge></filter><filter id="bl" filterUnits="userSpaceOnUse" x="0" y="300" width="520" height="200"><feGaussianBlur stdDeviation="0.65"/></filter></defs>
<rect x="83.40" y="359.80" width="163.50" height="16.20" fill="#e6e6e6" stroke="none" stroke-width="0" filter="url(#nz)"/>
<rect x="83.40" y="381.10" width="163.50" height="14.30" fill="#e4e4e4" stroke="none" stroke-width="0" filter="url(#nz)"/>
<rect x="83.40" y="400.80" width="163.50" height="17.90" fill="#e3e3e3" stroke="none" stroke-width="0" filter="url(#nz)"/>
<path d="M86.5,367.6 Q95.2,368.2 104.0,367.6" stroke="#3a3a3a" stroke-width="2.1" stroke-linecap="round" fill="none" opacity="1.0" filter="url(#bl)"/>
<path d="M109.0,367.8 Q116.8,368.4 124.5,367.8" stroke="#444" stroke-width="1.9" stroke-linecap="round" fill="none" opacity="1.0" filter="url(#bl)"/>
<path d="M204.0,366.8 Q211.8,367.4 219.5,366.8" stroke="#9a9a9a" stroke-width="1.0" stroke-linecap="round" fill="none" opacity="0.7" filter="url(#bl)"/>
<path d="M203.5,387.6 Q211.8,388.2 220.2,387.6" stroke="#333" stroke-width="2.3" stroke-linecap="round" fill="none" opacity="1.0" filter="url(#bl)"/>
<path d="M225.5,387.4 Q234.2,388.0 243.0,387.4" stroke="#262626" stroke-width="3.0" stroke-linecap="round" fill="none" opacity="1.0" filter="url(#bl)"/>
<path d="M86.3,410.0 Q95.2,410.6 104.2,410.0" stroke="#474747" stroke-width="1.8" stroke-linecap="round" fill="none" opacity="1.0" filter="url(#bl)"/>
<path d="M108.4,410.0 Q116.8,410.6 125.3,410.0" stroke="#474747" stroke-width="1.8" stroke-linecap="round" fill="none" opacity="1.0" filter="url(#bl)"/>
<path d="M130.2,410.0 Q138.9,410.6 147.6,410.0" stroke="#474747" stroke-width="1.8" stroke-linecap="round" fill="none" opacity="1.0" filter="url(#bl)"/>
<path d="M152.8,410.0 Q161.6,410.6 170.4,410.0" stroke="#474747" stroke-width="1.8" stroke-linecap="round" fill="none" opacity="1.0" filter="url(#bl)"/>
<path d="M177.3,410.0 Q186.4,410.6 195.5,410.0" stroke="#474747" stroke-width="1.8" stroke-linecap="round" fill="none" opacity="1.0" filter="url(#bl)"/>
<path d="M201.6,410.0 Q210.6,410.6 219.6,410.0" stroke="#474747" stroke-width="1.8" stroke-linecap="round" fill="none" opacity="1.0" filter="url(#bl)"/>
<path d="M225.2,410.0 Q234.2,410.6 243.3,410.0" stroke="#474747" stroke-width="1.8" stroke-linecap="round" fill="none" opacity="1.0" filter="url(#bl)"/>
<text x="72.90" y="372.90" font-size="8.3" text-anchor="end" fill="#231f20" >WT CALR</text>
<text x="72.90" y="393.10" font-size="8.3" text-anchor="end" fill="#231f20" textLength="51.2" lengthAdjust="spacingAndGlyphs">Mutant CALR</text>
<text x="72.90" y="413.10" font-size="8.3" text-anchor="end" fill="#231f20" >HSC70</text>
<text x="0" y="0" font-size="8.6" fill="#231f20" transform="translate(93.0,354.6) rotate(-51)">WT1</text>
<text x="0" y="0" font-size="8.6" fill="#231f20" transform="translate(116.5,354.6) rotate(-51)">WT2</text>
<text x="0" y="0" font-size="8.6" fill="#231f20" transform="translate(140.6,354.6) rotate(-51)">KO1</text>
<text x="0" y="0" font-size="8.6" fill="#231f20" transform="translate(163.9,354.6) rotate(-51)">KO2</text>
<text x="0" y="0" font-size="8.6" fill="#231f20" transform="translate(187.7,354.6) rotate(-51)">KO3</text>
<text x="0" y="0" font-size="8.6" fill="#231f20" transform="translate(214.2,354.6) rotate(-56)">WT/del79</text>
<text x="0" y="0" font-size="8.6" fill="#231f20" transform="translate(233.3,354.6) rotate(-56.5)">del37/del37</text>
<line x1="56.90" y1="480.00" x2="56.90" y2="593.90" stroke="#000" stroke-width="1.3" />
<line x1="56.30" y1="593.20" x2="224.80" y2="593.20" stroke="#000" stroke-width="1.3" />
<line x1="54.20" y1="593.20" x2="56.90" y2="593.20" stroke="#000" stroke-width="0.9" />
<text x="50.50" y="595.80" font-size="8.3" text-anchor="end" fill="#231f20" >0</text>
<line x1="54.20" y1="574.90" x2="56.90" y2="574.90" stroke="#000" stroke-width="0.9" />
<text x="50.50" y="577.50" font-size="8.3" text-anchor="end" fill="#231f20" >20</text>
<line x1="54.20" y1="556.60" x2="56.90" y2="556.60" stroke="#000" stroke-width="0.9" />
<text x="50.50" y="559.20" font-size="8.3" text-anchor="end" fill="#231f20" >40</text>
<line x1="54.20" y1="538.30" x2="56.90" y2="538.30" stroke="#000" stroke-width="0.9" />
<text x="50.50" y="540.90" font-size="8.3" text-anchor="end" fill="#231f20" >60</text>
<line x1="54.20" y1="520.00" x2="56.90" y2="520.00" stroke="#000" stroke-width="0.9" />
<text x="50.50" y="522.60" font-size="8.3" text-anchor="end" fill="#231f20" >80</text>
<line x1="54.20" y1="501.70" x2="56.90" y2="501.70" stroke="#000" stroke-width="0.9" />
<text x="50.50" y="504.30" font-size="8.3" text-anchor="end" fill="#231f20" >100</text>
<line x1="54.20" y1="483.40" x2="56.90" y2="483.40" stroke="#000" stroke-width="0.9" />
<text x="50.50" y="486.00" font-size="8.3" text-anchor="end" fill="#231f20" >120</text>
<line x1="56.60" y1="593.20" x2="56.60" y2="596.00" stroke="#000" stroke-width="0.9" />
<text x="56.60" y="606.90" font-size="8.3" text-anchor="middle" fill="#231f20" >1</text>
<line x1="167.60" y1="593.20" x2="167.60" y2="596.00" stroke="#000" stroke-width="0.9" />
<text x="167.60" y="606.90" font-size="8.3" text-anchor="middle" fill="#231f20" >10</text>
<line x1="220.56" y1="593.20" x2="220.56" y2="596.00" stroke="#000" stroke-width="0.9" />
<text x="220.56" y="606.90" font-size="8.3" text-anchor="middle" fill="#231f20" >30</text>
<text x="140.40" y="621.00" font-size="9.2" text-anchor="middle" fill="#231f20" textLength="65.8" lengthAdjust="spacingAndGlyphs">Hematoxylin [µM]</text>
<text x="0" y="0" font-size="9.6" text-anchor="middle" fill="#231f20" transform="translate(29.4,536.2) rotate(-90)" textLength="43.4" lengthAdjust="spacingAndGlyphs">Viability [%]</text>
<polyline points="83.85,508.17 85.56,508.18 87.27,508.19 88.98,508.20 90.69,508.21 92.40,508.22 94.11,508.23 95.81,508.25 97.52,508.26 99.23,508.28 100.94,508.30 102.65,508.32 104.36,508.34 106.07,508.37 107.78,508.40 109.48,508.43 111.19,508.47 112.90,508.51 114.61,508.55 116.32,508.60 118.03,508.66 119.74,508.72 121.45,508.79 123.16,508.87 124.86,508.95 126.57,509.04 128.28,509.15 129.99,509.26 131.70,509.39 133.41,509.53 135.12,509.69 136.83,509.86 138.54,510.06 140.24,510.27 141.95,510.50 143.66,510.76 145.37,511.05 147.08,511.36 148.79,511.71 150.50,512.09 152.21,512.51 153.92,512.97 155.62,513.48 157.33,514.03 159.04,514.63 160.75,515.29 162.46,516.01 164.17,516.79 165.88,517.63 167.59,518.54 169.29,519.53 171.00,520.58 172.71,521.72 174.42,522.93 176.13,524.22 177.84,525.58 179.55,527.02 181.26,528.54 182.97,530.12 184.67,531.77 186.38,533.49 188.09,535.25 189.80,537.06 191.51,538.91 193.22,540.78 194.93,542.67 196.64,544.57 198.35,546.46 200.05,548.34 201.76,550.19 203.47,552.01 205.18,553.78 206.89,555.50 208.60,557.17 210.31,558.76 212.02,560.29 213.73,561.75 215.43,563.12 217.14,564.43 218.85,565.65 220.56,566.80" fill="none" stroke="#5aa6e0" stroke-width="1.7"/>
<polyline points="83.85,508.17 85.56,508.18 87.27,508.19 88.98,508.20 90.69,508.21 92.40,508.22 94.11,508.23 95.81,508.25 97.52,508.26 99.23,508.28 100.94,508.30 102.65,508.32 104.36,508.34 106.07,508.37 107.78,508.40 109.48,508.43 111.19,508.47 112.90,508.51 114.61,508.55 116.32,508.60 118.03,508.66 119.74,508.72 121.45,508.79 123.16,508.87 124.86,508.95 126.57,509.04 128.28,509.15 129.99,509.26 131.70,509.39 133.41,509.53 135.12,509.69 136.83,509.86 138.54,510.06 140.24,510.27 141.95,510.50 143.66,510.76 145.37,511.05 147.08,511.36 148.79,511.71 150.50,512.09 152.21,512.51 153.92,512.97 155.62,513.48 157.33,514.03 159.04,514.63 160.75,515.29 162.46,516.01 164.17,516.79 165.88,517.63 167.59,518.54 169.29,519.53 171.00,520.58 172.71,521.72 174.42,522.93 176.13,524.22 177.84,525.58 179.55,527.02 181.26,528.54 182.97,530.12 184.67,531.77 186.38,533.49 188.09,535.25 189.80,537.06 191.51,538.91 193.22,540.78 194.93,542.67 196.64,544.57 198.35,546.46 200.05,548.34 201.76,550.19 203.47,552.01 205.18,553.78 206.89,555.50 208.60,557.17 210.31,558.76 212.02,560.29 213.73,561.75 215.43,563.12 217.14,564.43 218.85,565.65 220.56,566.80" fill="none" stroke="#3b4556" stroke-width="1.7"/>
<polyline points="83.85,509.12 85.56,509.13 87.27,509.14 88.98,509.15 90.69,509.17 92.40,509.18 94.11,509.20 95.81,509.22 97.52,509.24 99.23,509.26 100.94,509.28 102.65,509.31 104.36,509.34 106.07,509.37 107.78,509.41 109.48,509.45 111.19,509.50 112.90,509.55 114.61,509.60 116.32,509.66 118.03,509.73 119.74,509.80 121.45,509.88 123.16,509.97 124.86,510.06 126.57,510.17 128.28,510.29 129.99,510.42 131.70,510.56 133.41,510.72 135.12,510.89 136.83,511.08 138.54,511.29 140.24,511.52 141.95,511.77 143.66,512.04 145.37,512.34 147.08,512.66 148.79,513.02 150.50,513.41 152.21,513.84 153.92,514.30 155.62,514.80 157.33,515.35 159.04,515.94 160.75,516.58 162.46,517.27 164.17,518.01 165.88,518.81 167.59,519.66 169.29,520.58 171.00,521.56 172.71,522.60 174.42,523.70 176.13,524.86 177.84,526.08 179.55,527.37 181.26,528.71 182.97,530.11 184.67,531.56 186.38,533.05 188.09,534.58 189.80,536.15 191.51,537.75 193.22,539.37 194.93,541.00 196.64,542.63 198.35,544.26 200.05,545.88 201.76,547.48 203.47,549.06 205.18,550.60 206.89,552.10 208.60,553.56 210.31,554.96 212.02,556.31 213.73,557.61 215.43,558.85 217.14,560.02 218.85,561.13 220.56,562.18" fill="none" stroke="#c0127f" stroke-width="1.7"/>
<polyline points="83.85,503.61 85.56,503.62 87.27,503.63 88.98,503.64 90.69,503.65 92.40,503.66 94.11,503.68 95.81,503.69 97.52,503.71 99.23,503.73 100.94,503.75 102.65,503.78 104.36,503.80 106.07,503.84 107.78,503.87 109.48,503.91 111.19,503.95 112.90,504.00 114.61,504.05 116.32,504.11 118.03,504.17 119.74,504.24 121.45,504.32 123.16,504.41 124.86,504.51 126.57,504.61 128.28,504.73 129.99,504.87 131.70,505.01 133.41,505.18 135.12,505.36 136.83,505.56 138.54,505.78 140.24,506.03 141.95,506.30 143.66,506.59 145.37,506.92 147.08,507.29 148.79,507.69 150.50,508.13 152.21,508.61 153.92,509.14 155.62,509.73 157.33,510.36 159.04,511.06 160.75,511.82 162.46,512.65 164.17,513.55 165.88,514.52 167.59,515.57 169.29,516.71 171.00,517.93 172.71,519.24 174.42,520.63 176.13,522.12 177.84,523.70 179.55,525.36 181.26,527.11 182.97,528.94 184.67,530.84 186.38,532.82 188.09,534.85 189.80,536.94 191.51,539.07 193.22,541.23 194.93,543.41 196.64,545.60 198.35,547.79 200.05,549.95 201.76,552.09 203.47,554.19 205.18,556.23 206.89,558.22 208.60,560.14 210.31,561.98 212.02,563.74 213.73,565.42 215.43,567.01 217.14,568.52 218.85,569.93 220.56,571.25" fill="none" stroke="#e38a1c" stroke-width="1.7"/>
<polyline points="83.85,504.48 85.56,504.49 87.27,504.50 88.98,504.50 90.69,504.51 92.40,504.52 94.11,504.52 95.81,504.53 97.52,504.55 99.23,504.56 100.94,504.57 102.65,504.59 104.36,504.61 106.07,504.63 107.78,504.65 109.48,504.67 111.19,504.70 112.90,504.73 114.61,504.77 116.32,504.81 118.03,504.85 119.74,504.91 121.45,504.96 123.16,505.03 124.86,505.10 126.57,505.18 128.28,505.27 129.99,505.37 131.70,505.48 133.41,505.61 135.12,505.75 136.83,505.91 138.54,506.09 140.24,506.29 141.95,506.52 143.66,506.77 145.37,507.05 147.08,507.36 148.79,507.71 150.50,508.10 152.21,508.53 153.92,509.01 155.62,509.55 157.33,510.14 159.04,510.80 160.75,511.53 162.46,512.34 164.17,513.22 165.88,514.20 167.59,515.27 169.29,516.44 171.00,517.72 172.71,519.11 174.42,520.61 176.13,522.23 177.84,523.98 179.55,525.85 181.26,527.84 182.97,529.95 184.67,532.17 186.38,534.50 188.09,536.93 189.80,539.45 191.51,542.05 193.22,544.70 194.93,547.40 196.64,550.12 198.35,552.85 200.05,555.57 201.76,558.25 203.47,560.89 205.18,563.47 206.89,565.96 208.60,568.37 210.31,570.67 212.02,572.87 213.73,574.94 215.43,576.90 217.14,578.73 218.85,580.45 220.56,582.04" fill="none" stroke="#5aa83c" stroke-width="1.7"/>
<path d="M83.85,502.62V509.94M82.25,502.62h3.2M82.25,509.94h3.2" stroke="#5aa6e0" stroke-width="0.9"/>
<path d="M83.85,503.23 L86.58,506.28 L83.85,509.32 L81.12,506.28Z" fill="#5aa6e0"/>
<path d="M103.22,503.53V518.17M101.62,503.53h3.2M101.62,518.17h3.2" stroke="#5aa6e0" stroke-width="0.9"/>
<path d="M103.22,507.81 L105.95,510.85 L103.22,513.89 L100.49,510.85Z" fill="#5aa6e0"/>
<path d="M122.82,505.36V512.68M121.22,505.36h3.2M121.22,512.68h3.2" stroke="#5aa6e0" stroke-width="0.9"/>
<path d="M122.82,505.98 L125.55,509.02 L122.82,512.07 L120.09,509.02Z" fill="#5aa6e0"/>
<path d="M142.41,507.19V514.51M140.81,507.19h3.2M140.81,514.51h3.2" stroke="#5aa6e0" stroke-width="0.9"/>
<path d="M142.41,507.81 L145.14,510.85 L142.41,513.89 L139.68,510.85Z" fill="#5aa6e0"/>
<path d="M161.93,507.19V518.17M160.33,507.19h3.2M160.33,518.17h3.2" stroke="#5aa6e0" stroke-width="0.9"/>
<path d="M161.93,509.64 L164.66,512.68 L161.93,515.73 L159.20,512.68Z" fill="#5aa6e0"/>
<path d="M181.46,524.58V533.73M179.86,524.58h3.2M179.86,533.73h3.2" stroke="#5aa6e0" stroke-width="0.9"/>
<path d="M181.46,526.11 L184.19,529.15 L181.46,532.20 L178.73,529.15Z" fill="#5aa6e0"/>
<path d="M201.01,541.05V550.20M199.41,541.05h3.2M199.41,550.20h3.2" stroke="#5aa6e0" stroke-width="0.9"/>
<path d="M201.01,542.58 L203.74,545.62 L201.01,548.66 L198.28,545.62Z" fill="#5aa6e0"/>
<path d="M220.56,563.00V572.16M218.96,563.00h3.2M218.96,572.16h3.2" stroke="#5aa6e0" stroke-width="0.9"/>
<path d="M220.56,564.54 L223.29,567.58 L220.56,570.62 L217.83,567.58Z" fill="#5aa6e0"/>
<path d="M83.85,505.36V510.85M82.25,505.36h3.2M82.25,510.85h3.2" stroke="#3b4556" stroke-width="0.9"/>
<path d="M83.85,511.25 L86.90,505.80 L80.81,505.80Z" fill="#3b4556"/>
<path d="M103.22,505.36V512.68M101.62,505.36h3.2M101.62,512.68h3.2" stroke="#3b4556" stroke-width="0.9"/>
<path d="M103.22,512.17 L106.26,506.71 L100.17,506.71Z" fill="#3b4556"/>
<path d="M122.82,507.19V514.51M121.22,507.19h3.2M121.22,514.51h3.2" stroke="#3b4556" stroke-width="0.9"/>
<path d="M122.82,514.00 L125.87,508.54 L119.78,508.54Z" fill="#3b4556"/>
<path d="M142.41,509.94V517.25M140.81,509.94h3.2M140.81,517.25h3.2" stroke="#3b4556" stroke-width="0.9"/>
<path d="M142.41,516.75 L145.45,511.29 L139.36,511.29Z" fill="#3b4556"/>
<path d="M161.93,513.60V520.92M160.33,513.60h3.2M160.33,520.92h3.2" stroke="#3b4556" stroke-width="0.9"/>
<path d="M161.93,520.40 L164.97,514.95 L158.88,514.95Z" fill="#3b4556"/>
<path d="M181.46,522.75V531.90M179.86,522.75h3.2M179.86,531.90h3.2" stroke="#3b4556" stroke-width="0.9"/>
<path d="M181.46,530.47 L184.50,525.01 L178.41,525.01Z" fill="#3b4556"/>
<path d="M201.01,540.13V549.28M199.41,540.13h3.2M199.41,549.28h3.2" stroke="#3b4556" stroke-width="0.9"/>
<path d="M201.01,547.86 L204.06,542.40 L197.97,542.40Z" fill="#3b4556"/>
<path d="M220.56,561.18V570.33M218.96,561.18h3.2M218.96,570.33h3.2" stroke="#3b4556" stroke-width="0.9"/>
<path d="M220.56,568.90 L223.61,563.44 L217.52,563.44Z" fill="#3b4556"/>
<path d="M83.85,504.45V509.94M82.25,504.45h3.2M82.25,509.94h3.2" stroke="#c0127f" stroke-width="0.9"/>
<path d="M83.85,504.04 L86.90,509.50 L80.81,509.50Z" fill="#c0127f"/>
<path d="M103.22,507.19V518.17M101.62,507.19h3.2M101.62,518.17h3.2" stroke="#c0127f" stroke-width="0.9"/>
<path d="M103.22,509.53 L106.26,514.99 L100.17,514.99Z" fill="#c0127f"/>
<path d="M122.82,509.94V517.25M121.22,509.94h3.2M121.22,517.25h3.2" stroke="#c0127f" stroke-width="0.9"/>
<path d="M122.82,510.45 L125.87,515.90 L119.78,515.90Z" fill="#c0127f"/>
<path d="M142.41,513.60V522.75M140.81,513.60h3.2M140.81,522.75h3.2" stroke="#c0127f" stroke-width="0.9"/>
<path d="M142.41,515.02 L145.45,520.48 L139.36,520.48Z" fill="#c0127f"/>
<path d="M161.93,515.43V520.92M160.33,515.43h3.2M160.33,520.92h3.2" stroke="#c0127f" stroke-width="0.9"/>
<path d="M161.93,515.02 L164.97,520.48 L158.88,520.48Z" fill="#c0127f"/>
<path d="M181.46,525.49V532.81M179.86,525.49h3.2M179.86,532.81h3.2" stroke="#c0127f" stroke-width="0.9"/>
<path d="M181.46,526.00 L184.50,531.46 L178.41,531.46Z" fill="#c0127f"/>
<path d="M201.01,538.30V547.45M199.41,538.30h3.2M199.41,547.45h3.2" stroke="#c0127f" stroke-width="0.9"/>
<path d="M201.01,539.73 L204.06,545.18 L197.97,545.18Z" fill="#c0127f"/>
<path d="M220.56,554.77V571.24M218.96,554.77h3.2M218.96,571.24h3.2" stroke="#c0127f" stroke-width="0.9"/>
<path d="M220.56,559.86 L223.61,565.31 L217.52,565.31Z" fill="#c0127f"/>
<path d="M83.85,495.30V498.96M82.25,495.30h3.2M82.25,498.96h3.2" stroke="#e38a1c" stroke-width="0.9"/>
<rect x="81.33" y="494.61" width="5.04" height="5.04" fill="#e38a1c"/>
<path d="M103.22,497.13V500.79M101.62,497.13h3.2M101.62,500.79h3.2" stroke="#e38a1c" stroke-width="0.9"/>
<rect x="100.70" y="496.44" width="5.04" height="5.04" fill="#e38a1c"/>
<path d="M122.82,499.87V503.53M121.22,499.87h3.2M121.22,503.53h3.2" stroke="#e38a1c" stroke-width="0.9"/>
<rect x="120.30" y="499.18" width="5.04" height="5.04" fill="#e38a1c"/>
<path d="M142.41,503.53V507.19M140.81,503.53h3.2M140.81,507.19h3.2" stroke="#e38a1c" stroke-width="0.9"/>
<rect x="139.89" y="502.84" width="5.04" height="5.04" fill="#e38a1c"/>
<path d="M161.93,511.77V517.25M160.33,511.77h3.2M160.33,517.25h3.2" stroke="#e38a1c" stroke-width="0.9"/>
<rect x="159.41" y="511.99" width="5.04" height="5.04" fill="#e38a1c"/>
<path d="M181.46,524.58V530.07M179.86,524.58h3.2M179.86,530.07h3.2" stroke="#e38a1c" stroke-width="0.9"/>
<rect x="178.94" y="524.80" width="5.04" height="5.04" fill="#e38a1c"/>
<path d="M201.01,546.54V552.03M199.41,546.54h3.2M199.41,552.03h3.2" stroke="#e38a1c" stroke-width="0.9"/>
<rect x="198.49" y="546.76" width="5.04" height="5.04" fill="#e38a1c"/>
<path d="M220.56,571.24V576.73M218.96,571.24h3.2M218.96,576.73h3.2" stroke="#e38a1c" stroke-width="0.9"/>
<rect x="218.04" y="571.47" width="5.04" height="5.04" fill="#e38a1c"/>
<path d="M83.85,499.87V505.36M82.25,499.87h3.2M82.25,505.36h3.2" stroke="#5aa83c" stroke-width="0.9"/>
<circle cx="83.85" cy="502.62" r="2.62" fill="#5aa83c"/>
<path d="M103.22,500.79V506.28M101.62,500.79h3.2M101.62,506.28h3.2" stroke="#5aa83c" stroke-width="0.9"/>
<circle cx="103.22" cy="503.53" r="2.62" fill="#5aa83c"/>
<path d="M122.82,502.62V508.11M121.22,502.62h3.2M121.22,508.11h3.2" stroke="#5aa83c" stroke-width="0.9"/>
<circle cx="122.82" cy="505.36" r="2.62" fill="#5aa83c"/>
<path d="M142.41,506.28V511.77M140.81,506.28h3.2M140.81,511.77h3.2" stroke="#5aa83c" stroke-width="0.9"/>
<circle cx="142.41" cy="509.02" r="2.62" fill="#5aa83c"/>
<path d="M161.93,511.77V517.25M160.33,511.77h3.2M160.33,517.25h3.2" stroke="#5aa83c" stroke-width="0.9"/>
<circle cx="161.93" cy="514.51" r="2.62" fill="#5aa83c"/>
<path d="M181.46,527.32V536.47M179.86,527.32h3.2M179.86,536.47h3.2" stroke="#5aa83c" stroke-width="0.9"/>
<circle cx="181.46" cy="531.90" r="2.62" fill="#5aa83c"/>
<path d="M201.01,551.11V556.60M199.41,551.11h3.2M199.41,556.60h3.2" stroke="#5aa83c" stroke-width="0.9"/>
<circle cx="201.01" cy="553.86" r="2.62" fill="#5aa83c"/>
<path d="M220.56,578.56V585.88M218.96,578.56h3.2M218.96,585.88h3.2" stroke="#5aa83c" stroke-width="0.9"/>
<circle cx="220.56" cy="582.22" r="2.62" fill="#5aa83c"/>
<line x1="193.60" y1="455.50" x2="204.00" y2="455.50" stroke="#5aa83c" stroke-width="1.5" />
<circle cx="198.80" cy="455.50" r="3.12" fill="#5aa83c"/>
<text x="207.40" y="458.40" font-size="8.0" text-anchor="start" fill="#231f20" textLength="38" lengthAdjust="spacingAndGlyphs">CALR WT1</text>
<line x1="193.60" y1="467.43" x2="204.00" y2="467.43" stroke="#e38a1c" stroke-width="1.5" />
<rect x="195.80" y="464.43" width="6.00" height="6.00" fill="#e38a1c"/>
<text x="207.40" y="470.33" font-size="8.0" text-anchor="start" fill="#231f20" textLength="38.5" lengthAdjust="spacingAndGlyphs">CALR WT2</text>
<line x1="193.60" y1="479.36" x2="204.00" y2="479.36" stroke="#c0127f" stroke-width="1.5" />
<path d="M198.80,475.61 L202.43,482.11 L195.18,482.11Z" fill="#c0127f"/>
<text x="207.40" y="482.26" font-size="8.0" text-anchor="start" fill="#231f20" textLength="37.2" lengthAdjust="spacingAndGlyphs">CALR KO1</text>
<line x1="193.60" y1="491.29" x2="204.00" y2="491.29" stroke="#3b4556" stroke-width="1.5" />
<path d="M198.80,495.04 L202.43,488.54 L195.18,488.54Z" fill="#3b4556"/>
<text x="207.40" y="494.19" font-size="8.0" text-anchor="start" fill="#231f20" textLength="37.6" lengthAdjust="spacingAndGlyphs">CALR KO2</text>
<line x1="193.60" y1="503.22" x2="204.00" y2="503.22" stroke="#5aa6e0" stroke-width="1.5" />
<path d="M198.80,499.60 L202.05,503.22 L198.80,506.85 L195.55,503.22Z" fill="#5aa6e0"/>
<text x="207.40" y="506.12" font-size="8.0" text-anchor="start" fill="#231f20" textLength="37.6" lengthAdjust="spacingAndGlyphs">CALR KO3</text>
<rect x="356.30" y="329.60" width="39.40" height="7.20" fill="#6cb04a" stroke="#1a1a1a" stroke-width="1.1" />
<rect x="395.70" y="329.60" width="73.20" height="7.20" fill="#2d5190" stroke="#1a1a1a" stroke-width="1.1" />
<line x1="395.80" y1="353.10" x2="422.00" y2="353.10" stroke="#555" stroke-width="1.0" />
<rect x="356.30" y="349.60" width="39.50" height="7.00" fill="#6cb04a" stroke="#1a1a1a" stroke-width="1.1" />
<rect x="422.00" y="349.60" width="66.50" height="7.00" fill="#b0042c" stroke="#1a1a1a" stroke-width="1.1" />
<line x1="386.00" y1="373.80" x2="430.80" y2="373.80" stroke="#555" stroke-width="1.0" />
<rect x="356.30" y="370.30" width="29.70" height="7.10" fill="#6cb04a" stroke="#1a1a1a" stroke-width="1.1" />
<rect x="430.80" y="370.30" width="57.70" height="7.10" fill="#b0042c" stroke="#1a1a1a" stroke-width="1.1" />
<line x1="399.60" y1="393.80" x2="403.50" y2="393.80" stroke="#555" stroke-width="1.0" />
<rect x="357.00" y="390.30" width="42.60" height="7.10" fill="#6cb04a" stroke="#1a1a1a" stroke-width="1.1" />
<rect x="403.50" y="390.30" width="13.60" height="7.10" fill="#6b4a22" stroke="#1a1a1a" stroke-width="1.1" />
<rect x="357.00" y="410.30" width="42.60" height="7.10" fill="#6cb04a" stroke="#1a1a1a" stroke-width="1.1" />
<rect x="403.50" y="410.30" width="13.60" height="7.10" fill="#6b4a22" stroke="#1a1a1a" stroke-width="1.1" />
<path d="M400.2,411.3 q1.4,2.5 0,5 M402.9,411.3 q-1.4,2.5 0,5" stroke="#bbb" stroke-width="0.7" fill="none"/>
<text x="346.50" y="336.00" font-size="8.3" text-anchor="end" fill="#231f20" >CALR WT</text>
<text x="346.50" y="356.00" font-size="8.3" text-anchor="end" fill="#231f20" >CALR del37</text>
<text x="346.50" y="376.00" font-size="8.3" text-anchor="end" fill="#231f20" >CALR del79</text>
<text x="346.50" y="396.90" font-size="8.3" text-anchor="end" fill="#231f20" >CALR del2</text>
<text x="346.50" y="416.50" font-size="8.3" text-anchor="end" fill="#231f20" >CALR ins1</text>
<line x1="314.30" y1="476.70" x2="314.30" y2="593.60" stroke="#000" stroke-width="1.3" />
<line x1="313.70" y1="593.00" x2="472.40" y2="593.00" stroke="#000" stroke-width="1.3" />
<line x1="311.60" y1="593.00" x2="314.30" y2="593.00" stroke="#000" stroke-width="0.9" />
<text x="308.20" y="595.70" font-size="8.3" text-anchor="end" fill="#231f20" >0</text>
<line x1="311.60" y1="564.80" x2="314.30" y2="564.80" stroke="#000" stroke-width="0.9" />
<text x="308.20" y="567.50" font-size="8.3" text-anchor="end" fill="#231f20" >40</text>
<line x1="311.60" y1="536.60" x2="314.30" y2="536.60" stroke="#000" stroke-width="0.9" />
<text x="308.20" y="539.30" font-size="8.3" text-anchor="end" fill="#231f20" >80</text>
<line x1="311.60" y1="508.40" x2="314.30" y2="508.40" stroke="#000" stroke-width="0.9" />
<text x="308.20" y="511.10" font-size="8.3" text-anchor="end" fill="#231f20" >120</text>
<line x1="311.60" y1="480.20" x2="314.30" y2="480.20" stroke="#000" stroke-width="0.9" />
<text x="308.20" y="482.90" font-size="8.3" text-anchor="end" fill="#231f20" >160</text>
<line x1="314.30" y1="593.00" x2="314.30" y2="595.80" stroke="#000" stroke-width="0.9" />
<text x="314.30" y="606.90" font-size="8.3" text-anchor="middle" fill="#231f20" >0</text>
<line x1="392.45" y1="593.00" x2="392.45" y2="595.80" stroke="#000" stroke-width="0.9" />
<text x="392.45" y="606.90" font-size="8.3" text-anchor="middle" fill="#231f20" >5</text>
<line x1="470.60" y1="593.00" x2="470.60" y2="595.80" stroke="#000" stroke-width="0.9" />
<text x="470.60" y="606.90" font-size="8.3" text-anchor="middle" fill="#231f20" >10</text>
<text x="392.70" y="621.00" font-size="9.2" text-anchor="middle" fill="#231f20" textLength="65.5" lengthAdjust="spacingAndGlyphs">Hematoxylin [µM]</text>
<text x="0" y="0" font-size="9.6" text-anchor="middle" fill="#231f20" transform="translate(287.0,534.8) rotate(-90)" textLength="42.4" lengthAdjust="spacingAndGlyphs">Viability [%]</text>
<polyline points="314.30,522.50 315.86,522.50 317.43,522.50 318.99,522.50 320.55,522.50 322.12,522.50 323.68,522.50 325.24,522.50 326.80,522.50 328.37,522.50 329.93,522.50 331.49,522.50 333.06,522.50 334.62,522.50 336.18,522.50 337.75,522.50 339.31,522.50 340.87,522.50 342.43,522.50 344.00,522.50 345.56,522.50 347.12,522.50 348.69,522.50 350.25,522.50 351.81,522.50 353.38,522.50 354.94,522.50 356.50,522.50 358.06,522.50 359.63,522.50 361.19,522.50 362.75,522.50 364.32,522.50 365.88,522.50 367.44,522.50 369.00,522.50 370.57,522.50 372.13,522.51 373.69,522.51 375.26,522.51 376.82,522.51 378.38,522.51 379.95,522.52 381.51,522.52 383.07,522.53 384.63,522.54 386.20,522.54 387.76,522.56 389.32,522.57 390.89,522.58 392.45,522.60 394.01,522.63 395.58,522.65 397.14,522.68 398.70,522.72 400.26,522.77 401.83,522.82 403.39,522.88 404.95,522.95 406.52,523.04 408.08,523.14 409.64,523.25 411.21,523.38 412.77,523.53 414.33,523.70 415.89,523.90 417.46,524.12 419.02,524.38 420.58,524.67 422.15,525.00 423.71,525.37 425.27,525.79 426.84,526.26 428.40,526.78 429.96,527.36 431.53,528.01 433.09,528.72 434.65,529.50 436.21,530.35 437.78,531.29 439.34,532.30 440.90,533.40 442.47,534.58 444.03,535.84 445.59,537.18 447.16,538.61 448.72,540.11 450.28,541.68 451.84,543.31 453.41,545.01 454.97,546.75 456.53,548.54 458.10,550.36 459.66,552.20 461.22,554.05 462.79,555.91 464.35,557.75 465.91,559.57 467.47,561.37 469.04,563.13 470.60,564.85" fill="none" stroke="#57297a" stroke-width="1.7"/>
<polyline points="314.30,522.50 315.86,522.50 317.43,522.50 318.99,522.50 320.55,522.50 322.12,522.50 323.68,522.50 325.24,522.50 326.80,522.50 328.37,522.51 329.93,522.51 331.49,522.52 333.06,522.53 334.62,522.54 336.18,522.55 337.75,522.57 339.31,522.59 340.87,522.62 342.43,522.66 344.00,522.70 345.56,522.75 347.12,522.81 348.69,522.88 350.25,522.97 351.81,523.07 353.38,523.18 354.94,523.31 356.50,523.46 358.06,523.62 359.63,523.81 361.19,524.02 362.75,524.26 364.32,524.52 365.88,524.81 367.44,525.13 369.00,525.48 370.57,525.87 372.13,526.29 373.69,526.74 375.26,527.23 376.82,527.76 378.38,528.33 379.95,528.93 381.51,529.58 383.07,530.26 384.63,530.99 386.20,531.76 387.76,532.56 389.32,533.41 390.89,534.29 392.45,535.21 394.01,536.17 395.58,537.16 397.14,538.18 398.70,539.23 400.26,540.30 401.83,541.40 403.39,542.52 404.95,543.67 406.52,544.82 408.08,545.99 409.64,547.17 411.21,548.36 412.77,549.55 414.33,550.74 415.89,551.93 417.46,553.11 419.02,554.29 420.58,555.45 422.15,556.61 423.71,557.75 425.27,558.87 426.84,559.98 428.40,561.07 429.96,562.13 431.53,563.18 433.09,564.20 434.65,565.20 436.21,566.17 437.78,567.11 439.34,568.03 440.90,568.93 442.47,569.79 444.03,570.64 445.59,571.45 447.16,572.24 448.72,573.00 450.28,573.74 451.84,574.45 453.41,575.14 454.97,575.80 456.53,576.44 458.10,577.05 459.66,577.64 461.22,578.21 462.79,578.76 464.35,579.29 465.91,579.80 467.47,580.29 469.04,580.76 470.60,581.21" fill="none" stroke="#bf7822" stroke-width="1.7"/>
<polyline points="314.30,522.50 315.86,522.57 317.43,522.89 318.99,523.56 320.55,524.64 322.12,526.15 323.68,528.09 325.24,530.42 326.80,533.09 328.37,536.02 329.93,539.13 331.49,542.35 333.06,545.59 334.62,548.80 336.18,551.92 337.75,554.91 339.31,557.75 340.87,560.42 342.43,562.90 344.00,565.21 345.56,567.33 347.12,569.29 348.69,571.08 350.25,572.73 351.81,574.23 353.38,575.60 354.94,576.85 356.50,578.00 358.06,579.04 359.63,580.00 361.19,580.87 362.75,581.68 364.32,582.41 365.88,583.08 367.44,583.70 369.00,584.27 370.57,584.80 372.13,585.28 373.69,585.73 375.26,586.14 376.82,586.52 378.38,586.88 379.95,587.20 381.51,587.51 383.07,587.79 384.63,588.06 386.20,588.30 387.76,588.53 389.32,588.75 390.89,588.95 392.45,589.14 394.01,589.32 395.58,589.48 397.14,589.64 398.70,589.78 400.26,589.92 401.83,590.05 403.39,590.17 404.95,590.29 406.52,590.40 408.08,590.50 409.64,590.60 411.21,590.69 412.77,590.78 414.33,590.86 415.89,590.94 417.46,591.02 419.02,591.09 420.58,591.16 422.15,591.22 423.71,591.28 425.27,591.34 426.84,591.40 428.40,591.45 429.96,591.50 431.53,591.55 433.09,591.59 434.65,591.64 436.21,591.68 437.78,591.72 439.34,591.76 440.90,591.80 442.47,591.83 444.03,591.87 445.59,591.90 447.16,591.93 448.72,591.96 450.28,591.99 451.84,592.02 453.41,592.05 454.97,592.07 456.53,592.10 458.10,592.12 459.66,592.14 461.22,592.17 462.79,592.19 464.35,592.21 465.91,592.23 467.47,592.25 469.04,592.27 470.60,592.29" fill="none" stroke="#27478b" stroke-width="1.7"/>
<polyline points="314.30,522.50 315.86,522.50 317.43,522.51 318.99,522.54 320.55,522.60 322.12,522.72 323.68,522.91 325.24,523.21 326.80,523.62 328.37,524.18 329.93,524.90 331.49,525.81 333.06,526.91 334.62,528.23 336.18,529.75 337.75,531.47 339.31,533.40 340.87,535.50 342.43,537.75 344.00,540.14 345.56,542.61 347.12,545.16 348.69,547.73 350.25,550.30 351.81,552.84 353.38,555.33 354.94,557.75 356.50,560.07 358.06,562.30 359.63,564.41 361.19,566.40 362.75,568.27 364.32,570.02 365.88,571.66 367.44,573.18 369.00,574.59 370.57,575.90 372.13,577.11 373.69,578.23 375.26,579.27 376.82,580.22 378.38,581.10 379.95,581.91 381.51,582.66 383.07,583.35 384.63,583.99 386.20,584.57 387.76,585.12 389.32,585.62 390.89,586.08 392.45,586.51 394.01,586.91 395.58,587.27 397.14,587.62 398.70,587.93 400.26,588.23 401.83,588.50 403.39,588.75 404.95,588.99 406.52,589.21 408.08,589.42 409.64,589.61 411.21,589.79 412.77,589.95 414.33,590.11 415.89,590.26 417.46,590.39 419.02,590.52 420.58,590.64 422.15,590.76 423.71,590.87 425.27,590.97 426.84,591.06 428.40,591.15 429.96,591.23 431.53,591.31 433.09,591.39 434.65,591.46 436.21,591.52 437.78,591.59 439.34,591.65 440.90,591.70 442.47,591.76 444.03,591.81 445.59,591.86 447.16,591.90 448.72,591.94 450.28,591.99 451.84,592.03 453.41,592.06 454.97,592.10 456.53,592.13 458.10,592.16 459.66,592.19 461.22,592.22 462.79,592.25 464.35,592.28 465.91,592.30 467.47,592.33 469.04,592.35 470.60,592.37" fill="none" stroke="#aa1038" stroke-width="1.7"/>
<polyline points="314.30,522.50 315.86,522.50 317.43,522.50 318.99,522.50 320.55,522.50 322.12,522.50 323.68,522.50 325.24,522.50 326.80,522.50 328.37,522.50 329.93,522.50 331.49,522.50 333.06,522.50 334.62,522.50 336.18,522.50 337.75,522.50 339.31,522.51 340.87,522.51 342.43,522.51 344.00,522.52 345.56,522.52 347.12,522.53 348.69,522.53 350.25,522.54 351.81,522.56 353.38,522.57 354.94,522.59 356.50,522.61 358.06,522.63 359.63,522.66 361.19,522.69 362.75,522.73 364.32,522.77 365.88,522.82 367.44,522.88 369.00,522.94 370.57,523.01 372.13,523.10 373.69,523.19 375.26,523.29 376.82,523.41 378.38,523.54 379.95,523.69 381.51,523.85 383.07,524.02 384.63,524.22 386.20,524.43 387.76,524.67 389.32,524.93 390.89,525.21 392.45,525.51 394.01,525.84 395.58,526.20 397.14,526.58 398.70,527.00 400.26,527.44 401.83,527.92 403.39,528.43 404.95,528.97 406.52,529.54 408.08,530.15 409.64,530.79 411.21,531.47 412.77,532.18 414.33,532.92 415.89,533.70 417.46,534.52 419.02,535.37 420.58,536.25 422.15,537.16 423.71,538.10 425.27,539.06 426.84,540.06 428.40,541.08 429.96,542.12 431.53,543.18 433.09,544.26 434.65,545.36 436.21,546.47 437.78,547.59 439.34,548.72 440.90,549.85 442.47,550.99 444.03,552.13 445.59,553.26 447.16,554.40 448.72,555.52 450.28,556.64 451.84,557.75 453.41,558.84 454.97,559.93 456.53,560.99 458.10,562.04 459.66,563.07 461.22,564.07 462.79,565.06 464.35,566.03 465.91,566.97 467.47,567.89 469.04,568.78 470.60,569.66" fill="none" stroke="#55a83a" stroke-width="1.7"/>
<path d="M314.30,519.68V525.32M312.70,519.68h3.2M312.70,525.32h3.2" stroke="#57297a" stroke-width="0.9"/>
<path d="M314.30,519.46 L317.03,522.50 L314.30,525.54 L311.57,522.50Z" fill="#57297a"/>
<path d="M329.93,512.63V518.27M328.33,512.63h3.2M328.33,518.27h3.2" stroke="#57297a" stroke-width="0.9"/>
<path d="M329.93,512.41 L332.66,515.45 L329.93,518.50 L327.20,515.45Z" fill="#57297a"/>
<path d="M345.56,512.63V515.45M343.96,512.63h3.2M343.96,515.45h3.2" stroke="#57297a" stroke-width="0.9"/>
<path d="M345.56,510.99 L348.29,514.04 L345.56,517.08 L342.83,514.04Z" fill="#57297a"/>
<path d="M376.82,498.53V511.22M375.22,498.53h3.2M375.22,511.22h3.2" stroke="#57297a" stroke-width="0.9"/>
<path d="M376.82,501.83 L379.55,504.88 L376.82,507.92 L374.09,504.88Z" fill="#57297a"/>
<path d="M392.45,523.21V526.02M390.85,523.21h3.2M390.85,526.02h3.2" stroke="#57297a" stroke-width="0.9"/>
<path d="M392.45,521.57 L395.18,524.62 L392.45,527.66 L389.72,524.62Z" fill="#57297a"/>
<path d="M408.08,522.50V530.96M406.48,522.50h3.2M406.48,530.96h3.2" stroke="#57297a" stroke-width="0.9"/>
<path d="M408.08,523.69 L410.81,526.73 L408.08,529.77 L405.35,526.73Z" fill="#57297a"/>
<path d="M439.34,523.21V541.53M437.74,523.21h3.2M437.74,541.53h3.2" stroke="#57297a" stroke-width="0.9"/>
<path d="M439.34,529.33 L442.07,532.37 L439.34,535.41 L436.61,532.37Z" fill="#57297a"/>
<path d="M470.60,564.10V568.33M469.00,564.10h3.2M469.00,568.33h3.2" stroke="#57297a" stroke-width="0.9"/>
<path d="M470.60,563.17 L473.33,566.21 L470.60,569.25 L467.87,566.21Z" fill="#57297a"/>
<path d="M314.30,516.86V528.14M312.70,516.86h3.2M312.70,528.14h3.2" stroke="#bf7822" stroke-width="0.9"/>
<path d="M314.30,525.65 L317.35,520.19 L311.25,520.19Z" fill="#bf7822"/>
<path d="M329.93,514.04V530.96M328.33,514.04h3.2M328.33,530.96h3.2" stroke="#bf7822" stroke-width="0.9"/>
<path d="M329.93,525.65 L332.98,520.19 L326.88,520.19Z" fill="#bf7822"/>
<path d="M345.56,515.45V535.19M343.96,515.45h3.2M343.96,535.19h3.2" stroke="#bf7822" stroke-width="0.9"/>
<path d="M345.56,528.47 L348.61,523.01 L342.51,523.01Z" fill="#bf7822"/>
<path d="M376.82,506.29V513.34M375.22,506.29h3.2M375.22,513.34h3.2" stroke="#bf7822" stroke-width="0.9"/>
<path d="M376.82,512.96 L379.87,507.50 L373.77,507.50Z" fill="#bf7822"/>
<path d="M392.45,536.25V544.71M390.85,536.25h3.2M390.85,544.71h3.2" stroke="#bf7822" stroke-width="0.9"/>
<path d="M392.45,543.63 L395.50,538.17 L389.41,538.17Z" fill="#bf7822"/>
<path d="M408.08,539.07V550.35M406.48,539.07h3.2M406.48,550.35h3.2" stroke="#bf7822" stroke-width="0.9"/>
<path d="M408.08,547.86 L411.13,542.40 L405.04,542.40Z" fill="#bf7822"/>
<path d="M439.34,557.75V567.62M437.74,557.75h3.2M437.74,567.62h3.2" stroke="#bf7822" stroke-width="0.9"/>
<path d="M439.34,565.83 L442.39,560.38 L436.30,560.38Z" fill="#bf7822"/>
<path d="M470.60,584.54V587.36M469.00,584.54h3.2M469.00,587.36h3.2" stroke="#bf7822" stroke-width="0.9"/>
<path d="M470.60,589.10 L473.65,583.64 L467.56,583.64Z" fill="#bf7822"/>
<path d="M314.30,544.36V551.40M312.70,544.36h3.2M312.70,551.40h3.2" stroke="#27478b" stroke-width="0.9"/>
<path d="M314.30,544.73 L317.35,550.19 L311.25,550.19Z" fill="#27478b"/>
<path d="M329.93,545.06V549.29M328.33,545.06h3.2M328.33,549.29h3.2" stroke="#27478b" stroke-width="0.9"/>
<path d="M329.93,544.02 L332.98,549.48 L326.88,549.48Z" fill="#27478b"/>
<path d="M345.56,559.87V566.91M343.96,559.87h3.2M343.96,566.91h3.2" stroke="#27478b" stroke-width="0.9"/>
<path d="M345.56,560.24 L348.61,565.70 L342.51,565.70Z" fill="#27478b"/>
<path d="M376.82,589.48V592.29M375.22,589.48h3.2M375.22,592.29h3.2" stroke="#27478b" stroke-width="0.9"/>
<path d="M376.82,587.74 L379.87,593.19 L373.77,593.19Z" fill="#27478b"/>
<path d="M392.45,592.29V593.71M390.85,592.29h3.2M390.85,593.71h3.2" stroke="#27478b" stroke-width="0.9"/>
<path d="M392.45,589.85 L395.50,595.31 L389.41,595.31Z" fill="#27478b"/>
<path d="M408.08,592.29V593.71M406.48,592.29h3.2M406.48,593.71h3.2" stroke="#27478b" stroke-width="0.9"/>
<path d="M408.08,589.85 L411.13,595.31 L405.04,595.31Z" fill="#27478b"/>
<path d="M439.34,592.29V593.71M437.74,592.29h3.2M437.74,593.71h3.2" stroke="#27478b" stroke-width="0.9"/>
<path d="M439.34,589.85 L442.39,595.31 L436.30,595.31Z" fill="#27478b"/>
<path d="M470.60,592.29V593.71M469.00,592.29h3.2M469.00,593.71h3.2" stroke="#27478b" stroke-width="0.9"/>
<path d="M470.60,589.85 L473.65,595.31 L467.56,595.31Z" fill="#27478b"/>
<path d="M314.30,517.57V531.66M312.70,517.57h3.2M312.70,531.66h3.2" stroke="#aa1038" stroke-width="0.9"/>
<rect x="311.78" y="522.10" width="5.04" height="5.04" fill="#aa1038"/>
<path d="M329.93,520.38V531.66M328.33,520.38h3.2M328.33,531.66h3.2" stroke="#aa1038" stroke-width="0.9"/>
<rect x="327.41" y="523.50" width="5.04" height="5.04" fill="#aa1038"/>
<path d="M345.56,540.83V545.06M343.96,540.83h3.2M343.96,545.06h3.2" stroke="#aa1038" stroke-width="0.9"/>
<rect x="343.04" y="540.43" width="5.04" height="5.04" fill="#aa1038"/>
<path d="M376.82,580.66V583.48M375.22,580.66h3.2M375.22,583.48h3.2" stroke="#aa1038" stroke-width="0.9"/>
<rect x="374.30" y="579.55" width="5.04" height="5.04" fill="#aa1038"/>
<path d="M392.45,590.88V592.29M390.85,590.88h3.2M390.85,592.29h3.2" stroke="#aa1038" stroke-width="0.9"/>
<rect x="389.93" y="589.07" width="5.04" height="5.04" fill="#aa1038"/>
<path d="M408.08,591.59V593.00M406.48,591.59h3.2M406.48,593.00h3.2" stroke="#aa1038" stroke-width="0.9"/>
<rect x="405.56" y="589.77" width="5.04" height="5.04" fill="#aa1038"/>
<path d="M439.34,591.94V593.35M437.74,591.94h3.2M437.74,593.35h3.2" stroke="#aa1038" stroke-width="0.9"/>
<rect x="436.82" y="590.13" width="5.04" height="5.04" fill="#aa1038"/>
<path d="M470.60,591.94V593.35M469.00,591.94h3.2M469.00,593.35h3.2" stroke="#aa1038" stroke-width="0.9"/>
<rect x="468.08" y="590.13" width="5.04" height="5.04" fill="#aa1038"/>
<path d="M314.30,515.45V529.55M312.70,515.45h3.2M312.70,529.55h3.2" stroke="#55a83a" stroke-width="0.9"/>
<circle cx="314.30" cy="522.50" r="2.62" fill="#55a83a"/>
<path d="M329.93,510.51V533.08M328.33,510.51h3.2M328.33,533.08h3.2" stroke="#55a83a" stroke-width="0.9"/>
<circle cx="329.93" cy="521.79" r="2.62" fill="#55a83a"/>
<path d="M345.56,518.27V525.32M343.96,518.27h3.2M343.96,525.32h3.2" stroke="#55a83a" stroke-width="0.9"/>
<circle cx="345.56" cy="521.79" r="2.62" fill="#55a83a"/>
<path d="M376.82,516.15V527.43M375.22,516.15h3.2M375.22,527.43h3.2" stroke="#55a83a" stroke-width="0.9"/>
<circle cx="376.82" cy="521.79" r="2.62" fill="#55a83a"/>
<path d="M392.45,529.55V533.78M390.85,529.55h3.2M390.85,533.78h3.2" stroke="#55a83a" stroke-width="0.9"/>
<circle cx="392.45" cy="531.66" r="2.62" fill="#55a83a"/>
<path d="M408.08,527.79V532.02M406.48,527.79h3.2M406.48,532.02h3.2" stroke="#55a83a" stroke-width="0.9"/>
<circle cx="408.08" cy="529.90" r="2.62" fill="#55a83a"/>
<path d="M439.34,546.05V551.69M437.74,546.05h3.2M437.74,551.69h3.2" stroke="#55a83a" stroke-width="0.9"/>
<circle cx="439.34" cy="548.87" r="2.62" fill="#55a83a"/>
<path d="M470.60,569.74V572.55M469.00,569.74h3.2M469.00,572.55h3.2" stroke="#55a83a" stroke-width="0.9"/>
<circle cx="470.60" cy="571.14" r="2.62" fill="#55a83a"/>
<line x1="433.20" y1="460.60" x2="443.60" y2="460.60" stroke="#55a83a" stroke-width="1.5" />
<circle cx="438.40" cy="460.60" r="3.12" fill="#55a83a"/>
<text x="446.90" y="463.50" font-size="8.0" text-anchor="start" fill="#231f20" >CALR WT</text>
<line x1="433.20" y1="472.57" x2="443.60" y2="472.57" stroke="#aa1038" stroke-width="1.5" />
<rect x="435.40" y="469.57" width="6.00" height="6.00" fill="#aa1038"/>
<text x="446.90" y="475.47" font-size="8.0" text-anchor="start" fill="#231f20" >CALR WT/del79</text>
<line x1="433.20" y1="484.54" x2="443.60" y2="484.54" stroke="#27478b" stroke-width="1.5" />
<path d="M438.40,480.79 L442.02,487.29 L434.77,487.29Z" fill="#27478b"/>
<text x="446.90" y="487.44" font-size="8.0" text-anchor="start" fill="#231f20" >CALR del37/del37</text>
<line x1="433.20" y1="496.51" x2="443.60" y2="496.51" stroke="#bf7822" stroke-width="1.5" />
<path d="M438.40,500.26 L442.02,493.76 L434.77,493.76Z" fill="#bf7822"/>
<text x="446.90" y="499.41" font-size="8.0" text-anchor="start" fill="#231f20" >CALR WT/del2</text>
<line x1="433.20" y1="508.48" x2="443.60" y2="508.48" stroke="#57297a" stroke-width="1.5" />
<path d="M438.40,504.86 L441.65,508.48 L438.40,512.11 L435.15,508.48Z" fill="#57297a"/>
<text x="446.90" y="511.38" font-size="8.0" text-anchor="start" fill="#231f20" >CALR WT/ins1</text></svg></body></html>
